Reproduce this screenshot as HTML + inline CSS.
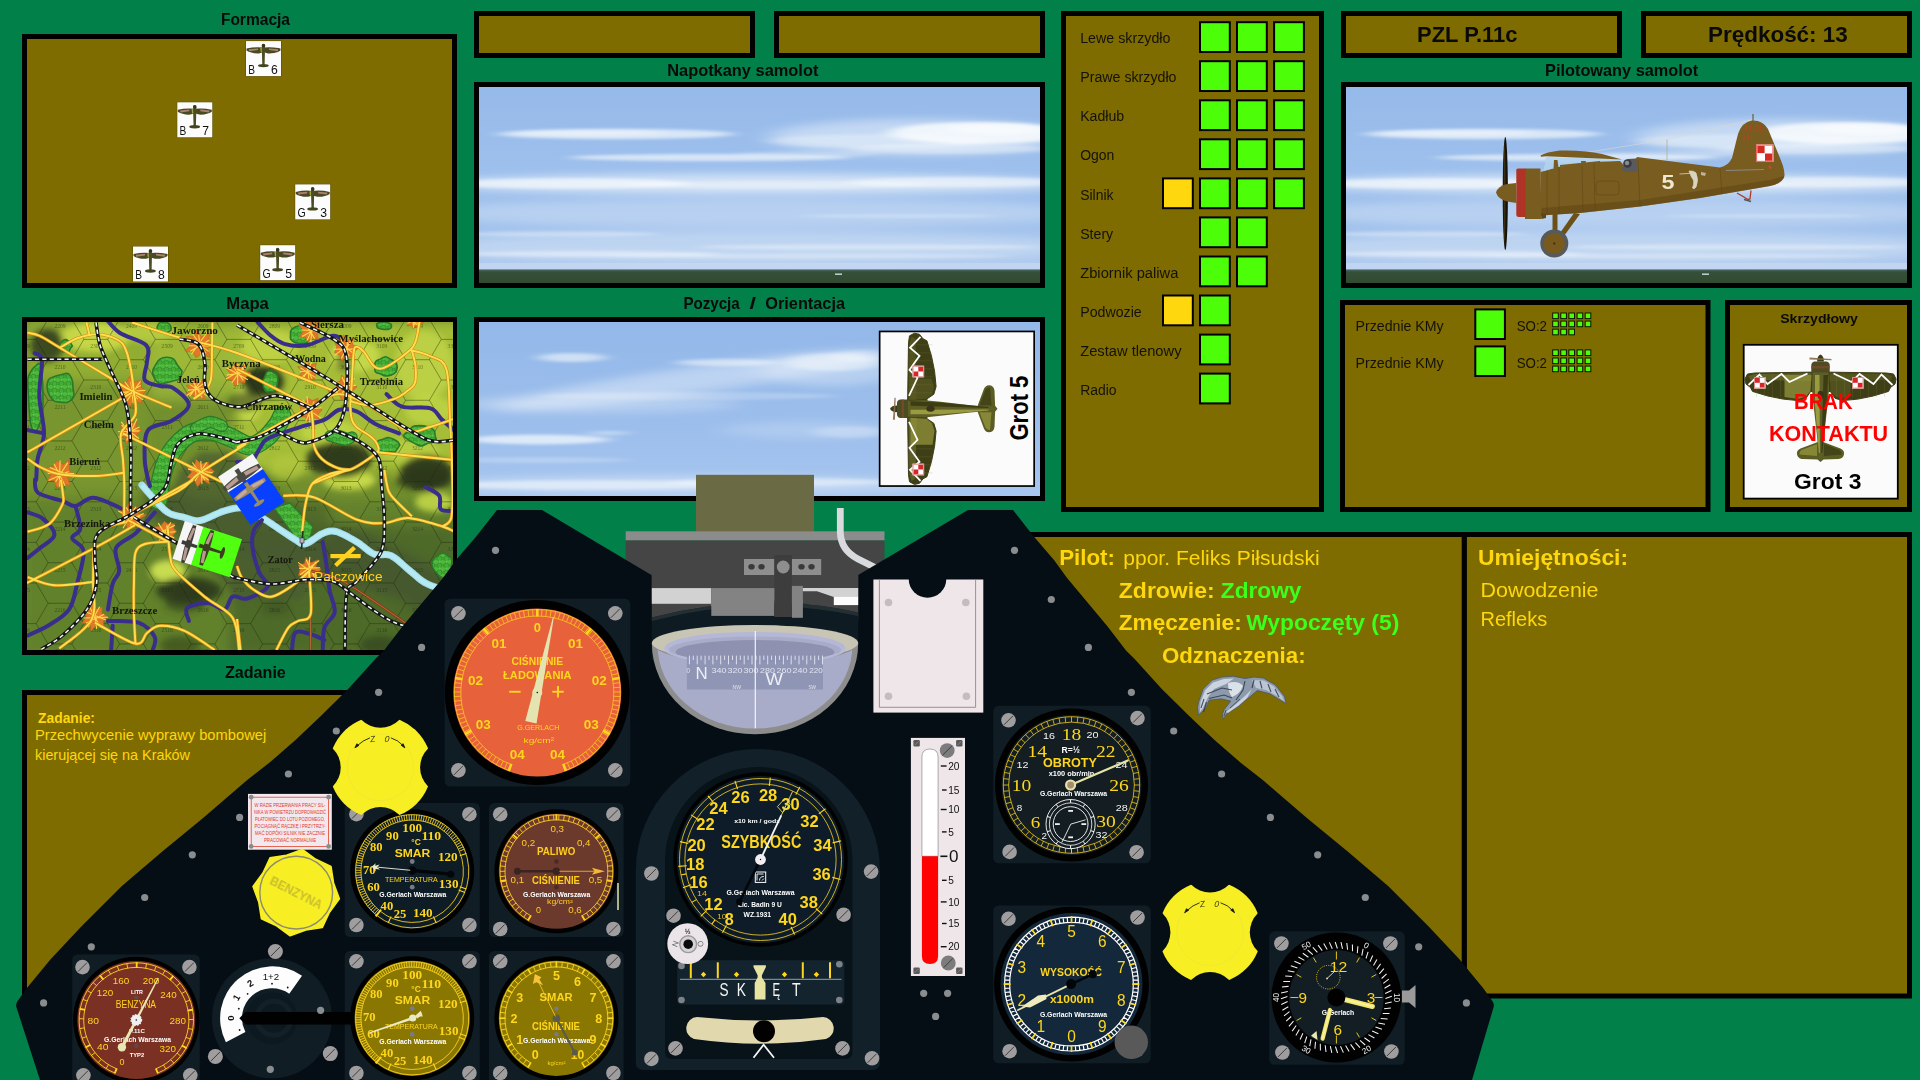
<!DOCTYPE html>
<html lang="pl"><head><meta charset="utf-8"><title>PZL P.11c</title>
<style>html,body{margin:0;padding:0;background:#01804A;overflow:hidden}body{width:1920px;height:1080px;position:relative;font-family:"Liberation Sans",sans-serif}svg{position:absolute;left:0;top:0;display:block}text{white-space:pre}</style></head><body>
<svg width="1920" height="1080" viewBox="0 0 1920 1080" font-family="Liberation Sans, sans-serif">
<defs>
<linearGradient id="skyg" x1="0" y1="0" x2="0" y2="1">
 <stop offset="0" stop-color="#96b9ea"/><stop offset="0.45" stop-color="#9fc0ee"/><stop offset="0.8" stop-color="#a6c4ee"/><stop offset="1" stop-color="#b9d0f0"/>
</linearGradient>
<linearGradient id="skyg2" x1="0" y1="0" x2="0" y2="1">
 <stop offset="0" stop-color="#94b8ea"/><stop offset="0.6" stop-color="#9dbeed"/><stop offset="1" stop-color="#a8c6f0"/>
</linearGradient>
<linearGradient id="gndg" x1="0" y1="0" x2="0" y2="1">
 <stop offset="0" stop-color="#4f6a70"/><stop offset="0.18" stop-color="#36503a"/><stop offset="1" stop-color="#324a30"/>
</linearGradient>
<filter id="blur2" x="-10%" y="-60%" width="120%" height="220%"><feGaussianBlur stdDeviation="9 1.5"/></filter>
<filter id="blur3" x="-10%" y="-80%" width="120%" height="260%"><feGaussianBlur stdDeviation="14 4"/></filter>
<filter id="blur1" x="-10%" y="-60%" width="120%" height="220%"><feGaussianBlur stdDeviation="2.2 1"/></filter>
<clipPath id="clipA"><rect x="0" y="0" width="561" height="196"/></clipPath>
<clipPath id="clipB"><rect x="0" y="0" width="561" height="174"/></clipPath>
<g id="skyA" clip-path="url(#clipA)">
 <rect width="561" height="196" fill="url(#skyg)"/>
 <g filter="url(#blur3)" fill="#fff">
  <ellipse cx="280" cy="126" rx="330" ry="14" opacity="0.24"/>
  <ellipse cx="280" cy="160" rx="330" ry="16" opacity="0.28"/>
  <ellipse cx="280" cy="97" rx="320" ry="10" opacity="0.55"/>
  <ellipse cx="440" cy="50" rx="150" ry="18" opacity="0.42"/>
 </g>
 <g filter="url(#blur2)" fill="#fff">
  <ellipse cx="137" cy="47" rx="118" ry="5.2" opacity="0.62"/>
  <ellipse cx="110" cy="46" rx="75" ry="3.2" opacity="0.35"/>
  <ellipse cx="500" cy="46" rx="90" ry="11" opacity="0.75"/>
  <ellipse cx="520" cy="42" rx="50" ry="6" opacity="0.45"/>
  <ellipse cx="400" cy="54" rx="110" ry="7" opacity="0.30"/>
  <ellipse cx="470" cy="62" rx="100" ry="5" opacity="0.35"/>
  <ellipse cx="231" cy="70.5" rx="140" ry="3.6" opacity="0.60"/>
  <ellipse cx="330" cy="67" rx="70" ry="3" opacity="0.25"/>
  <ellipse cx="90" cy="96.5" rx="120" ry="5.2" opacity="0.55"/>
  <ellipse cx="300" cy="98" rx="150" ry="4" opacity="0.35"/>
  <ellipse cx="480" cy="95" rx="110" ry="5" opacity="0.45"/>
  <ellipse cx="80" cy="147" rx="100" ry="2.6" opacity="0.35"/>
  <ellipse cx="390" cy="160" rx="170" ry="2.6" opacity="0.38"/>
  <ellipse cx="110" cy="167" rx="130" ry="3" opacity="0.42"/>
  <ellipse cx="420" cy="129" rx="100" ry="2" opacity="0.25"/>
  <ellipse cx="330" cy="169" rx="200" ry="2.4" opacity="0.30"/>
 </g>
 <rect x="0" y="176" width="561" height="7" fill="#cfdef4" opacity="0.55"/>
 <rect x="0" y="182.4" width="561" height="14" fill="url(#gndg)"/>
 <rect x="356" y="186.4" width="7" height="1.6" fill="#dfe8ee" opacity="0.8"/>
</g>
<g id="skyB" clip-path="url(#clipB)">
 <rect width="561" height="174" fill="url(#skyg2)"/>
 <g filter="url(#blur3)" fill="#fff">
  <ellipse cx="215" cy="58" rx="200" ry="13" opacity="0.36" transform="rotate(-8 215 58)"/><ellipse cx="120" cy="82" rx="140" ry="9" opacity="0.25"/>
  <ellipse cx="350" cy="48" rx="70" ry="16" opacity="0.30"/>
  <ellipse cx="200" cy="163" rx="250" ry="9" opacity="0.35"/>
  <ellipse cx="330" cy="108" rx="90" ry="9" opacity="0.18"/>
 </g>
 <g filter="url(#blur2)" fill="#fff">
  <ellipse cx="93" cy="35.5" rx="34" ry="4.6" opacity="0.55"/>
  <ellipse cx="247" cy="40.5" rx="50" ry="3.6" opacity="0.5"/>
  <ellipse cx="355" cy="40" rx="48" ry="9" opacity="0.40"/>
  <ellipse cx="380" cy="34" rx="26" ry="6" opacity="0.30"/>
  <ellipse cx="60" cy="117.5" rx="70" ry="5" opacity="0.65"/>
  <ellipse cx="130" cy="111" rx="20" ry="2" opacity="0.4"/>
  <ellipse cx="370" cy="110" rx="36" ry="6" opacity="0.25"/>
  <ellipse cx="110" cy="163" rx="150" ry="4.6" opacity="0.45"/>
  <ellipse cx="300" cy="160" rx="110" ry="4" opacity="0.40"/>
  <ellipse cx="60" cy="138" rx="90" ry="3" opacity="0.22"/>
  <ellipse cx="210" cy="74" rx="150" ry="4" opacity="0.22"/>
 </g>
</g>

<clipPath id="mapclip"><rect x="27" y="322" width="426" height="328"/></clipPath>
<filter id="mb8" x="-30%" y="-30%" width="160%" height="160%"><feGaussianBlur stdDeviation="6"/></filter>
<filter id="mb4" x="-30%" y="-30%" width="160%" height="160%"><feGaussianBlur stdDeviation="3.2"/></filter>
<filter id="mb1" x="-10%" y="-10%" width="120%" height="120%"><feGaussianBlur stdDeviation="0.5"/></filter>
<radialGradient id="towng"><stop offset="0" stop-color="#f08a28"/><stop offset="0.7" stop-color="#e07424"/><stop offset="1" stop-color="#d86a20" stop-opacity="0.85"/></radialGradient>
<pattern id="forestp" width="7" height="7" patternUnits="userSpaceOnUse">
 <rect width="7" height="7" fill="#2c8a2a"/>
 <circle cx="2" cy="2" r="2.2" fill="#4fb83c"/><circle cx="5.5" cy="5.5" r="2.2" fill="#46ad36"/><circle cx="5.6" cy="1.6" r="1.5" fill="#58c244"/><circle cx="1.6" cy="5.6" r="1.5" fill="#3fa532"/>
</pattern>
</defs>
<rect width="1920" height="1080" fill="#01804A"/>
<g opacity="0.9999">
<g id="ui"><text x="220.9" y="24.5" font-size="16.30" fill="#0a0a0a" font-weight="bold" textLength="69.1" lengthAdjust="spacingAndGlyphs">Formacja</text>
<text x="226.3" y="308.6" font-size="16.30" fill="#0a0a0a" font-weight="bold" textLength="42.5" lengthAdjust="spacingAndGlyphs">Mapa</text>
<text x="225.0" y="677.5" font-size="16.30" fill="#0a0a0a" font-weight="bold" textLength="60.8" lengthAdjust="spacingAndGlyphs">Zadanie</text>
<text x="667.2" y="76.4" font-size="16.30" fill="#0a0a0a" font-weight="bold" textLength="151.2" lengthAdjust="spacingAndGlyphs">Napotkany samolot</text>
<text x="683.4" y="309.2" font-size="16.30" fill="#0a0a0a" font-weight="bold" textLength="56.3" lengthAdjust="spacingAndGlyphs">Pozycja</text>
<text x="749.5" y="309.2" font-size="16.30" fill="#0a0a0a" font-weight="bold" textLength="6.5" lengthAdjust="spacingAndGlyphs">/</text>
<text x="765.3" y="309.2" font-size="16.30" fill="#0a0a0a" font-weight="bold" textLength="79.7" lengthAdjust="spacingAndGlyphs">Orientacja</text>
<text x="1545.1" y="75.9" font-size="16.30" fill="#0a0a0a" font-weight="bold" textLength="153.1" lengthAdjust="spacingAndGlyphs">Pilotowany samolot</text>
<rect x="22" y="34" width="435" height="254" fill="#000"/><rect x="27" y="39" width="425" height="244" fill="#806C00"/>
<rect x="474" y="11" width="281" height="47" fill="#000"/><rect x="479" y="16" width="271" height="37" fill="#806C00"/>
<rect x="774" y="11" width="271" height="47" fill="#000"/><rect x="779" y="16" width="261" height="37" fill="#806C00"/>
<rect x="1341" y="11" width="281" height="47" fill="#000"/><rect x="1346" y="16" width="271" height="37" fill="#806C00"/>
<rect x="1641" y="11" width="271" height="47" fill="#000"/><rect x="1646" y="16" width="261" height="37" fill="#806C00"/>
<text x="1417.0" y="42.4" font-size="22.50" fill="#0a0a0a" font-weight="bold" textLength="100.5" lengthAdjust="spacingAndGlyphs">PZL P.11c</text>
<text x="1708.0" y="42.4" font-size="22.50" fill="#0a0a0a" font-weight="bold" textLength="139.8" lengthAdjust="spacingAndGlyphs">Prędkość: 13</text>
<rect x="1061" y="11" width="263" height="501" fill="#000"/><rect x="1066" y="16" width="253" height="491" fill="#806C00"/>
<text x="1080.2" y="43.3" font-size="15.40" fill="#14120a" textLength="90.2" lengthAdjust="spacingAndGlyphs">Lewe skrzydło</text>
<rect x="1199.0" y="21.2" width="31.8" height="31.8" fill="#000"/><rect x="1201.0" y="23.2" width="27.8" height="27.8" fill="#4DFF0A"/>
<rect x="1236.0" y="21.2" width="31.8" height="31.8" fill="#000"/><rect x="1238.0" y="23.2" width="27.8" height="27.8" fill="#4DFF0A"/>
<rect x="1273.1" y="21.2" width="31.8" height="31.8" fill="#000"/><rect x="1275.1" y="23.2" width="27.8" height="27.8" fill="#4DFF0A"/>
<text x="1080.2" y="82.3" font-size="15.40" fill="#14120a" textLength="96.3" lengthAdjust="spacingAndGlyphs">Prawe skrzydło</text>
<rect x="1199.0" y="60.2" width="31.8" height="31.8" fill="#000"/><rect x="1201.0" y="62.2" width="27.8" height="27.8" fill="#4DFF0A"/>
<rect x="1236.0" y="60.2" width="31.8" height="31.8" fill="#000"/><rect x="1238.0" y="62.2" width="27.8" height="27.8" fill="#4DFF0A"/>
<rect x="1273.1" y="60.2" width="31.8" height="31.8" fill="#000"/><rect x="1275.1" y="62.2" width="27.8" height="27.8" fill="#4DFF0A"/>
<text x="1080.2" y="121.4" font-size="15.40" fill="#14120a" textLength="44.0" lengthAdjust="spacingAndGlyphs">Kadłub</text>
<rect x="1199.0" y="99.3" width="31.8" height="31.8" fill="#000"/><rect x="1201.0" y="101.3" width="27.8" height="27.8" fill="#4DFF0A"/>
<rect x="1236.0" y="99.3" width="31.8" height="31.8" fill="#000"/><rect x="1238.0" y="101.3" width="27.8" height="27.8" fill="#4DFF0A"/>
<rect x="1273.1" y="99.3" width="31.8" height="31.8" fill="#000"/><rect x="1275.1" y="101.3" width="27.8" height="27.8" fill="#4DFF0A"/>
<text x="1080.2" y="160.4" font-size="15.40" fill="#14120a" textLength="34.2" lengthAdjust="spacingAndGlyphs">Ogon</text>
<rect x="1199.0" y="138.3" width="31.8" height="31.8" fill="#000"/><rect x="1201.0" y="140.3" width="27.8" height="27.8" fill="#4DFF0A"/>
<rect x="1236.0" y="138.3" width="31.8" height="31.8" fill="#000"/><rect x="1238.0" y="140.3" width="27.8" height="27.8" fill="#4DFF0A"/>
<rect x="1273.1" y="138.3" width="31.8" height="31.8" fill="#000"/><rect x="1275.1" y="140.3" width="27.8" height="27.8" fill="#4DFF0A"/>
<text x="1080.2" y="199.5" font-size="15.40" fill="#14120a" textLength="33.3" lengthAdjust="spacingAndGlyphs">Silnik</text>
<rect x="1199.0" y="177.4" width="31.8" height="31.8" fill="#000"/><rect x="1201.0" y="179.4" width="27.8" height="27.8" fill="#4DFF0A"/>
<rect x="1236.0" y="177.4" width="31.8" height="31.8" fill="#000"/><rect x="1238.0" y="179.4" width="27.8" height="27.8" fill="#4DFF0A"/>
<rect x="1273.1" y="177.4" width="31.8" height="31.8" fill="#000"/><rect x="1275.1" y="179.4" width="27.8" height="27.8" fill="#4DFF0A"/>
<rect x="1162.0" y="177.4" width="31.8" height="31.8" fill="#000"/><rect x="1164.0" y="179.4" width="27.8" height="27.8" fill="#FFD70F"/>
<text x="1080.2" y="238.6" font-size="15.40" fill="#14120a" textLength="33.0" lengthAdjust="spacingAndGlyphs">Stery</text>
<rect x="1199.0" y="216.4" width="31.8" height="31.8" fill="#000"/><rect x="1201.0" y="218.4" width="27.8" height="27.8" fill="#4DFF0A"/>
<rect x="1236.0" y="216.4" width="31.8" height="31.8" fill="#000"/><rect x="1238.0" y="218.4" width="27.8" height="27.8" fill="#4DFF0A"/>
<text x="1080.2" y="277.6" font-size="15.40" fill="#14120a" textLength="98.2" lengthAdjust="spacingAndGlyphs">Zbiornik paliwa</text>
<rect x="1199.0" y="255.5" width="31.8" height="31.8" fill="#000"/><rect x="1201.0" y="257.5" width="27.8" height="27.8" fill="#4DFF0A"/>
<rect x="1236.0" y="255.5" width="31.8" height="31.8" fill="#000"/><rect x="1238.0" y="257.5" width="27.8" height="27.8" fill="#4DFF0A"/>
<text x="1080.2" y="316.6" font-size="15.40" fill="#14120a" textLength="61.5" lengthAdjust="spacingAndGlyphs">Podwozie</text>
<rect x="1199.0" y="294.5" width="31.8" height="31.8" fill="#000"/><rect x="1201.0" y="296.5" width="27.8" height="27.8" fill="#4DFF0A"/>
<rect x="1162.0" y="294.5" width="31.8" height="31.8" fill="#000"/><rect x="1164.0" y="296.5" width="27.8" height="27.8" fill="#FFD70F"/>
<text x="1080.2" y="355.7" font-size="15.40" fill="#14120a" textLength="101.3" lengthAdjust="spacingAndGlyphs">Zestaw tlenowy</text>
<rect x="1199.0" y="333.6" width="31.8" height="31.8" fill="#000"/><rect x="1201.0" y="335.6" width="27.8" height="27.8" fill="#4DFF0A"/>
<text x="1080.2" y="394.8" font-size="15.40" fill="#14120a" textLength="36.4" lengthAdjust="spacingAndGlyphs">Radio</text>
<rect x="1199.0" y="372.6" width="31.8" height="31.8" fill="#000"/><rect x="1201.0" y="374.6" width="27.8" height="27.8" fill="#4DFF0A"/>
<rect x="1340" y="300" width="370.5" height="212" fill="#000"/><rect x="1345" y="305" width="360.5" height="202" fill="#806C00"/>
<text x="1355.6" y="330.9" font-size="15.00" fill="#14120a" textLength="88.0" lengthAdjust="spacingAndGlyphs">Przednie KMy</text>
<rect x="1474.3" y="308.4" width="31.6" height="31.6" fill="#000"/><rect x="1476.3" y="310.4" width="27.6" height="27.6" fill="#4DFF0A"/>
<text x="1516.7" y="330.9" font-size="15.00" fill="#14120a" textLength="30.3" lengthAdjust="spacingAndGlyphs">SO:2</text>
<rect x="1552.2" y="312.5" width="6.6" height="6.6" fill="#0c1400"/><rect x="1553.2" y="313.5" width="4.6" height="4.6" fill="#4DFF0A"/>
<rect x="1560.3" y="312.5" width="6.6" height="6.6" fill="#0c1400"/><rect x="1561.3" y="313.5" width="4.6" height="4.6" fill="#4DFF0A"/>
<rect x="1568.4" y="312.5" width="6.6" height="6.6" fill="#0c1400"/><rect x="1569.4" y="313.5" width="4.6" height="4.6" fill="#4DFF0A"/>
<rect x="1576.6" y="312.5" width="6.6" height="6.6" fill="#0c1400"/><rect x="1577.6" y="313.5" width="4.6" height="4.6" fill="#4DFF0A"/>
<rect x="1584.7" y="312.5" width="6.6" height="6.6" fill="#0c1400"/><rect x="1585.7" y="313.5" width="4.6" height="4.6" fill="#4DFF0A"/>
<rect x="1552.2" y="320.6" width="6.6" height="6.6" fill="#0c1400"/><rect x="1553.2" y="321.6" width="4.6" height="4.6" fill="#4DFF0A"/>
<rect x="1560.3" y="320.6" width="6.6" height="6.6" fill="#0c1400"/><rect x="1561.3" y="321.6" width="4.6" height="4.6" fill="#4DFF0A"/>
<rect x="1568.4" y="320.6" width="6.6" height="6.6" fill="#0c1400"/><rect x="1569.4" y="321.6" width="4.6" height="4.6" fill="#4DFF0A"/>
<rect x="1576.6" y="320.6" width="6.6" height="6.6" fill="#0c1400"/><rect x="1577.6" y="321.6" width="4.6" height="4.6" fill="#4DFF0A"/>
<rect x="1584.7" y="320.6" width="6.6" height="6.6" fill="#0c1400"/><rect x="1585.7" y="321.6" width="4.6" height="4.6" fill="#4DFF0A"/>
<rect x="1552.2" y="328.7" width="6.6" height="6.6" fill="#0c1400"/><rect x="1553.2" y="329.7" width="4.6" height="4.6" fill="#4DFF0A"/>
<rect x="1560.3" y="328.7" width="6.6" height="6.6" fill="#0c1400"/><rect x="1561.3" y="329.7" width="4.6" height="4.6" fill="#4DFF0A"/>
<rect x="1568.4" y="328.7" width="6.6" height="6.6" fill="#0c1400"/><rect x="1569.4" y="329.7" width="4.6" height="4.6" fill="#4DFF0A"/>
<text x="1355.6" y="367.7" font-size="15.00" fill="#14120a" textLength="88.0" lengthAdjust="spacingAndGlyphs">Przednie KMy</text>
<rect x="1474.3" y="345.4" width="31.6" height="31.6" fill="#000"/><rect x="1476.3" y="347.4" width="27.6" height="27.6" fill="#4DFF0A"/>
<text x="1516.7" y="367.7" font-size="15.00" fill="#14120a" textLength="30.3" lengthAdjust="spacingAndGlyphs">SO:2</text>
<rect x="1552.2" y="349.4" width="6.6" height="6.6" fill="#0c1400"/><rect x="1553.2" y="350.4" width="4.6" height="4.6" fill="#4DFF0A"/>
<rect x="1560.3" y="349.4" width="6.6" height="6.6" fill="#0c1400"/><rect x="1561.3" y="350.4" width="4.6" height="4.6" fill="#4DFF0A"/>
<rect x="1568.4" y="349.4" width="6.6" height="6.6" fill="#0c1400"/><rect x="1569.4" y="350.4" width="4.6" height="4.6" fill="#4DFF0A"/>
<rect x="1576.6" y="349.4" width="6.6" height="6.6" fill="#0c1400"/><rect x="1577.6" y="350.4" width="4.6" height="4.6" fill="#4DFF0A"/>
<rect x="1584.7" y="349.4" width="6.6" height="6.6" fill="#0c1400"/><rect x="1585.7" y="350.4" width="4.6" height="4.6" fill="#4DFF0A"/>
<rect x="1552.2" y="357.5" width="6.6" height="6.6" fill="#0c1400"/><rect x="1553.2" y="358.5" width="4.6" height="4.6" fill="#4DFF0A"/>
<rect x="1560.3" y="357.5" width="6.6" height="6.6" fill="#0c1400"/><rect x="1561.3" y="358.5" width="4.6" height="4.6" fill="#4DFF0A"/>
<rect x="1568.4" y="357.5" width="6.6" height="6.6" fill="#0c1400"/><rect x="1569.4" y="358.5" width="4.6" height="4.6" fill="#4DFF0A"/>
<rect x="1576.6" y="357.5" width="6.6" height="6.6" fill="#0c1400"/><rect x="1577.6" y="358.5" width="4.6" height="4.6" fill="#4DFF0A"/>
<rect x="1584.7" y="357.5" width="6.6" height="6.6" fill="#0c1400"/><rect x="1585.7" y="358.5" width="4.6" height="4.6" fill="#4DFF0A"/>
<rect x="1552.2" y="365.6" width="6.6" height="6.6" fill="#0c1400"/><rect x="1553.2" y="366.6" width="4.6" height="4.6" fill="#4DFF0A"/>
<rect x="1560.3" y="365.6" width="6.6" height="6.6" fill="#0c1400"/><rect x="1561.3" y="366.6" width="4.6" height="4.6" fill="#4DFF0A"/>
<rect x="1568.4" y="365.6" width="6.6" height="6.6" fill="#0c1400"/><rect x="1569.4" y="366.6" width="4.6" height="4.6" fill="#4DFF0A"/>
<rect x="1576.6" y="365.6" width="6.6" height="6.6" fill="#0c1400"/><rect x="1577.6" y="366.6" width="4.6" height="4.6" fill="#4DFF0A"/>
<rect x="1584.7" y="365.6" width="6.6" height="6.6" fill="#0c1400"/><rect x="1585.7" y="366.6" width="4.6" height="4.6" fill="#4DFF0A"/>
<rect x="1725" y="300" width="187" height="212" fill="#000"/><rect x="1730" y="305" width="177" height="202" fill="#806C00"/>
<text x="1780.2" y="323.2" font-size="13.30" fill="#0a0a0a" font-weight="bold" textLength="77.8" lengthAdjust="spacingAndGlyphs">Skrzydłowy</text>
<rect x="1742.8" y="343.9" width="155.9" height="155.6" fill="#000"/><rect x="1744.6" y="345.7" width="152.3" height="152" fill="#fbfbfb"/>
<g transform="translate(1820.5,405) scale(1.0)"><path d="M0 36.5 L-4 37.5 L-20 43.5 Q-24 45.5 -23.5 49 Q-23 53.5 -18 54 L-3 54.6 L0 57 L3 54.6 L18 54 Q23 53.5 23.5 49 Q24 45.5 20 43.5 L4 37.5Z" fill="#5c5c24"/><path d="M-3.5 39 L-19 45 Q-21.5 47 -21 49.5 L-3.5 51Z" fill="#8f8f3c" opacity="0.85"/><path d="M3.5 39 L19 45 Q21.5 47 21 49.5 L3.5 51Z" fill="#3f3f16" opacity="0.85"/><path d="M0 -33 L66 -32 L73 -31 L75.6 -26 L74.5 -21 L70 -17.5 L68 -13.6 L52.7 -9 L37.4 -5.9 L22.2 -4.4 L14.5 -6.7 L9.9 -13.6 L0 -13 L-9.9 -13.6 L-14.5 -6.7 L-22.2 -4.4 L-37.4 -5.9 L-52.7 -9 L-68 -13.6 L-70 -17.5 L-74.5 -21 L-75.6 -26 L-73 -31 L-66 -32 L0 -33Z" fill="#3f3f18" stroke="#3f3f18" stroke-width="1" stroke-linejoin="round"/><path d="M9 -32 L66 -31 L72 -29 L70 -25 L9 -24Z" fill="#56561f" opacity="0.85"/><path d="M-9 -32 L-66 -31 L-72 -29 L-70 -25 L-9 -24Z" fill="#62622a" opacity="0.85"/><path d="M9 -30 L30 -30 L30 -9 L22 -6.5 L14.5 -8.5 L10 -14Z" fill="#5e5e26" opacity="0.6"/><path d="M-9 -30 L-36 -30 L-36 -8 L-22 -6 L-14.5 -8.5 L-10 -14Z" fill="#94943c" opacity="0.75"/><path d="M16 -31 L16 -8 M-16 -31 L-16 -8 M24 -31 L24 -8 M-24 -31 L-24 -8 M32 -31 L32 -8 M-32 -31 L-32 -8 M40 -31 L40 -8 M-40 -31 L-40 -8 M48 -31 L48 -8 M-48 -31 L-48 -8 M56 -31 L56 -8 M-56 -31 L-56 -8 M64 -31 L64 -8 M-64 -31 L-64 -8 " stroke="#8a8a40" stroke-width="0.4" opacity="0.45" fill="none"/><path d="M-8 -33 L8 -33 L8.6 -16 L7 0 L3.6 30 L1.6 52 L0 56 L-1.6 52 L-3.6 30 L-7 0 L-8.6 -16Z" fill="#5f5f27"/><path d="M-5.5 -30 L-1 -30 L-0.6 48 L-1.6 48 L-5.5 0Z" fill="#a6a648" opacity="0.85"/><path d="M3 -30 L7.6 -30 L6.4 0 L1.8 48 L0.8 48Z" fill="#34340f" opacity="0.8"/><ellipse cx="0" cy="-10" rx="3" ry="4.2" fill="#3a3418"/><path d="M-72 -20 L-61 -30.5 L-53 -21 L-39 -31 L-31 -23 L-13 -31.5" fill="none" stroke="#fff" stroke-width="1.8" stroke-linejoin="miter"/><path d="M72 -20 L61 -30.5 L53 -21 L39 -31 L31 -23 L13 -31.5" fill="none" stroke="#fff" stroke-width="1.8" stroke-linejoin="miter"/><g transform="translate(-66.5,-28)"><rect width="11.6" height="11.6" fill="#fff"/><rect x="1" y="1" width="4.8" height="4.8" fill="#d8262a"/><rect x="5.8" y="5.8" width="4.8" height="4.8" fill="#d8262a"/><rect x="0.5" y="0.5" width="10.6" height="10.6" fill="none" stroke="#e08888" stroke-width="1"/></g><g transform="translate(31.5,-28)"><rect width="11.6" height="11.6" fill="#fff"/><rect x="1" y="1" width="4.8" height="4.8" fill="#d8262a"/><rect x="5.8" y="5.8" width="4.8" height="4.8" fill="#d8262a"/><rect x="0.5" y="0.5" width="10.6" height="10.6" fill="none" stroke="#e08888" stroke-width="1"/></g><path d="M-9.2 -32.5 L-9.2 -40 Q-9 -43 -6 -43.5 L6 -43.5 Q9 -43 9.2 -40 L9.2 -32.5Z" fill="#4c4c20"/><path d="M-9.2 -39 L9.2 -39 L9.2 -36.5 L-9.2 -36.5Z" fill="#7a4a30" opacity="0.8"/><path d="M-3.4 -43.5 Q-3.4 -49 0 -50.5 Q3.4 -49 3.4 -43.5Z" fill="#3c3c18"/><path d="M-11 -47.6 L11 -46 L11 -44.8 L-11 -45.6Z" fill="#8a6a50" opacity="0.9"/></g>
<text x="1794.1" y="408.7" font-size="22.30" fill="#ff0000" font-weight="bold" textLength="58.4" lengthAdjust="spacingAndGlyphs">BRAK</text>
<text x="1769.0" y="441.1" font-size="22.30" fill="#ff0000" font-weight="bold" textLength="119.1" lengthAdjust="spacingAndGlyphs">KONTAKTU</text>
<text x="1794.1" y="489.0" font-size="22.30" fill="#000" font-weight="bold" textLength="67.3" lengthAdjust="spacingAndGlyphs">Grot 3</text>
<rect x="1020" y="532" width="892" height="466.5" fill="#000"/><rect x="1025" y="537" width="882" height="456.5" fill="#806C00"/>
<rect x="1461.7" y="532" width="5.2" height="466" fill="#000"/>
<text x="1059.2" y="565.0" font-size="22.90" fill="#FFD70F" font-weight="bold" textLength="55.8" lengthAdjust="spacingAndGlyphs">Pilot:</text>
<text x="1123.3" y="565.0" font-size="20.60" fill="#FFD70F" textLength="196.3" lengthAdjust="spacingAndGlyphs">ppor. Feliks Piłsudski</text>
<text x="1118.8" y="598.3" font-size="21.50" fill="#FFD70F" font-weight="bold" textLength="95.8" lengthAdjust="spacingAndGlyphs">Zdrowie:</text>
<text x="1220.8" y="598.3" font-size="21.50" fill="#3cff1e" font-weight="bold" textLength="80.6" lengthAdjust="spacingAndGlyphs">Zdrowy</text>
<text x="1118.8" y="630.0" font-size="21.50" fill="#FFD70F" font-weight="bold" textLength="122.9" lengthAdjust="spacingAndGlyphs">Zmęczenie:</text>
<text x="1246.2" y="630.0" font-size="21.50" fill="#3cff1e" font-weight="bold" textLength="153.1" lengthAdjust="spacingAndGlyphs">Wypoczęty (5)</text>
<text x="1161.9" y="662.9" font-size="21.50" fill="#FFD70F" font-weight="bold" textLength="143.7" lengthAdjust="spacingAndGlyphs">Odznaczenia:</text>
<text x="1478.1" y="564.5" font-size="22.60" fill="#FFD70F" font-weight="bold" textLength="150.0" lengthAdjust="spacingAndGlyphs">Umiejętności:</text>
<text x="1480.5" y="596.6" font-size="20.40" fill="#FFD70F" textLength="118.0" lengthAdjust="spacingAndGlyphs">Dowodzenie</text>
<text x="1480.5" y="625.8" font-size="20.40" fill="#FFD70F" textLength="66.7" lengthAdjust="spacingAndGlyphs">Refleks</text>
<path d="M1198.3 715.0 L1197.6 707.0 L1198.9 701.1 L1203.1 689.1 L1212.1 680.1 L1222.0 677.0 L1233.2 676.2 L1245.2 678.6 L1254.0 677.0 L1263.3 678.0 L1275.4 684.9 L1284.4 696.3 L1286.4 703.8 L1278.4 698.9 L1269.3 693.6 L1257.3 690.6 L1248.3 698.1 L1239.2 706.0 L1227.2 713.2 L1223.0 719.4 L1222.6 714.0 L1224.2 709.6 L1230.8 701.1 L1221.1 698.9 L1209.1 700.2 L1206.1 707.2 L1202.0 712.0Z" fill="#8e9aac" stroke="#4a556a" stroke-width="0.8" stroke-linejoin="round"/><path d="M1200 712 L1200.5 702 L1205 690.5 L1213 682.5 L1224 679 L1234 678.5 L1226 684 L1214 689 L1208 697 L1203 708Z" fill="#d4dbe6" opacity="0.9"/><path d="M1228 683 Q1238 680 1243 686 Q1240 694 1232 697 Q1228 692 1228 683Z" fill="#e4e9f0" opacity="0.9"/><path d="M1252 680 L1264 680.5 L1274 686.5 L1282 696 L1284.5 701.5 L1276 695.5 L1266 690 L1256 688Z" fill="#c2cad8" opacity="0.9"/><path d="M1226 712 L1236 704 L1246 695 L1252 689 L1247 698 L1238 706 L1228 713Z" fill="#d6dde8" opacity="0.85"/><path d="M1207 694 L1222 688 L1232 690 M1209 698.5 L1224 695 L1232 698 M1245 681 L1243 690 L1236 700 M1254 680 L1252 688 M1260 681 L1262 688.5 M1268 684 L1271 692 M1275 689 L1279 697 M1201 708 L1204 699 M1203.5 712 L1206.5 702" fill="none" stroke="#2c374c" stroke-width="1.1" opacity="0.85"/><path d="M1224 716 L1226 710 M1230 708 L1240 699" fill="none" stroke="#2c374c" stroke-width="0.9" opacity="0.8"/>
<rect x="22" y="690" width="678" height="310" fill="#000"/><rect x="27" y="695" width="668" height="300" fill="#806C00"/>
<text x="38.0" y="722.5" font-size="14.30" fill="#FFD70F" font-weight="bold" textLength="57.0" lengthAdjust="spacingAndGlyphs">Zadanie:</text>
<text x="35.0" y="740.0" font-size="14.50" fill="#FFD70F" textLength="231.2" lengthAdjust="spacingAndGlyphs">Przechwycenie wyprawy bombowej</text>
<text x="35.0" y="760.0" font-size="14.50" fill="#FFD70F" textLength="155.0" lengthAdjust="spacingAndGlyphs">kierującej się na Kraków</text>
<g transform="translate(246,41.1)">
<rect x="-0.5" y="-0.5" width="36" height="36" fill="#5a4c00"/><rect x="0" y="0" width="35" height="35" fill="#fcfcfc"/>
<path d="M0.5 7.5 Q9 5.5 17.4 6.5 Q26 5.5 34.5 7.5 L34.5 9.5 Q30 12.6 22 12.3 L17.4 11 L13 12.3 Q5 12.6 0.5 9.5Z" fill="#4a4a22"/><path d="M3 8.2 L12 7.3 L12 9 L3 10.2Z M23 7.3 L32 8.2 L32 10.2 L23 9Z" fill="#c08a80" opacity="0.85"/><path d="M14.2 7 L17 6.6 L17.6 11.5 L14.8 11Z" fill="#a8a83c"/><path d="M16 3.2 Q17.4 2 18.8 3.2 L19 8 L18.6 24 L16.3 24 L15.8 8Z" fill="#4d4d24"/><ellipse cx="17.5" cy="4.6" rx="1.8" ry="1.6" fill="#3a3418"/><ellipse cx="17.4" cy="24.5" rx="5.4" ry="1.7" fill="#45451f"/>
<text x="2.3" y="32.6" font-size="13.50" fill="#101010" textLength="6.8" lengthAdjust="spacingAndGlyphs">B</text>
<text x="25.0" y="32.6" font-size="13.50" fill="#101010" textLength="6.8" lengthAdjust="spacingAndGlyphs">6</text>
</g>
<g transform="translate(177.3,102.3)">
<rect x="-0.5" y="-0.5" width="36" height="36" fill="#5a4c00"/><rect x="0" y="0" width="35" height="35" fill="#fcfcfc"/>
<path d="M0.5 7.5 Q9 5.5 17.4 6.5 Q26 5.5 34.5 7.5 L34.5 9.5 Q30 12.6 22 12.3 L17.4 11 L13 12.3 Q5 12.6 0.5 9.5Z" fill="#4a4a22"/><path d="M3 8.2 L12 7.3 L12 9 L3 10.2Z M23 7.3 L32 8.2 L32 10.2 L23 9Z" fill="#c08a80" opacity="0.85"/><path d="M14.2 7 L17 6.6 L17.6 11.5 L14.8 11Z" fill="#a8a83c"/><path d="M16 3.2 Q17.4 2 18.8 3.2 L19 8 L18.6 24 L16.3 24 L15.8 8Z" fill="#4d4d24"/><ellipse cx="17.5" cy="4.6" rx="1.8" ry="1.6" fill="#3a3418"/><ellipse cx="17.4" cy="24.5" rx="5.4" ry="1.7" fill="#45451f"/>
<text x="2.3" y="32.6" font-size="13.50" fill="#101010" textLength="6.8" lengthAdjust="spacingAndGlyphs">B</text>
<text x="25.0" y="32.6" font-size="13.50" fill="#101010" textLength="6.8" lengthAdjust="spacingAndGlyphs">7</text>
</g>
<g transform="translate(295.2,184.4)">
<rect x="-0.5" y="-0.5" width="36" height="36" fill="#5a4c00"/><rect x="0" y="0" width="35" height="35" fill="#fcfcfc"/>
<path d="M0.5 7.5 Q9 5.5 17.4 6.5 Q26 5.5 34.5 7.5 L34.5 9.5 Q30 12.6 22 12.3 L17.4 11 L13 12.3 Q5 12.6 0.5 9.5Z" fill="#4a4a22"/><path d="M3 8.2 L12 7.3 L12 9 L3 10.2Z M23 7.3 L32 8.2 L32 10.2 L23 9Z" fill="#c08a80" opacity="0.85"/><path d="M14.2 7 L17 6.6 L17.6 11.5 L14.8 11Z" fill="#a8a83c"/><path d="M16 3.2 Q17.4 2 18.8 3.2 L19 8 L18.6 24 L16.3 24 L15.8 8Z" fill="#4d4d24"/><ellipse cx="17.5" cy="4.6" rx="1.8" ry="1.6" fill="#3a3418"/><ellipse cx="17.4" cy="24.5" rx="5.4" ry="1.7" fill="#45451f"/>
<text x="2.3" y="32.6" font-size="13.50" fill="#101010" textLength="8.2" lengthAdjust="spacingAndGlyphs">G</text>
<text x="25.0" y="32.6" font-size="13.50" fill="#101010" textLength="6.8" lengthAdjust="spacingAndGlyphs">3</text>
</g>
<g transform="translate(133,246.5)">
<rect x="-0.5" y="-0.5" width="36" height="36" fill="#5a4c00"/><rect x="0" y="0" width="35" height="35" fill="#fcfcfc"/>
<path d="M0.5 7.5 Q9 5.5 17.4 6.5 Q26 5.5 34.5 7.5 L34.5 9.5 Q30 12.6 22 12.3 L17.4 11 L13 12.3 Q5 12.6 0.5 9.5Z" fill="#4a4a22"/><path d="M3 8.2 L12 7.3 L12 9 L3 10.2Z M23 7.3 L32 8.2 L32 10.2 L23 9Z" fill="#c08a80" opacity="0.85"/><path d="M14.2 7 L17 6.6 L17.6 11.5 L14.8 11Z" fill="#a8a83c"/><path d="M16 3.2 Q17.4 2 18.8 3.2 L19 8 L18.6 24 L16.3 24 L15.8 8Z" fill="#4d4d24"/><ellipse cx="17.5" cy="4.6" rx="1.8" ry="1.6" fill="#3a3418"/><ellipse cx="17.4" cy="24.5" rx="5.4" ry="1.7" fill="#45451f"/>
<text x="2.3" y="32.6" font-size="13.50" fill="#101010" textLength="6.8" lengthAdjust="spacingAndGlyphs">B</text>
<text x="25.0" y="32.6" font-size="13.50" fill="#101010" textLength="6.8" lengthAdjust="spacingAndGlyphs">8</text>
</g>
<g transform="translate(260.2,245.2)">
<rect x="-0.5" y="-0.5" width="36" height="36" fill="#5a4c00"/><rect x="0" y="0" width="35" height="35" fill="#fcfcfc"/>
<path d="M0.5 7.5 Q9 5.5 17.4 6.5 Q26 5.5 34.5 7.5 L34.5 9.5 Q30 12.6 22 12.3 L17.4 11 L13 12.3 Q5 12.6 0.5 9.5Z" fill="#4a4a22"/><path d="M3 8.2 L12 7.3 L12 9 L3 10.2Z M23 7.3 L32 8.2 L32 10.2 L23 9Z" fill="#c08a80" opacity="0.85"/><path d="M14.2 7 L17 6.6 L17.6 11.5 L14.8 11Z" fill="#a8a83c"/><path d="M16 3.2 Q17.4 2 18.8 3.2 L19 8 L18.6 24 L16.3 24 L15.8 8Z" fill="#4d4d24"/><ellipse cx="17.5" cy="4.6" rx="1.8" ry="1.6" fill="#3a3418"/><ellipse cx="17.4" cy="24.5" rx="5.4" ry="1.7" fill="#45451f"/>
<text x="2.3" y="32.6" font-size="13.50" fill="#101010" textLength="8.2" lengthAdjust="spacingAndGlyphs">G</text>
<text x="25.0" y="32.6" font-size="13.50" fill="#101010" textLength="6.8" lengthAdjust="spacingAndGlyphs">5</text>
</g></g>
<g id="sky"><rect x="474" y="82" width="571" height="206" fill="#000"/><rect x="479" y="87" width="561" height="196" fill="#9abdeb"/>
<use href="#skyA" x="479" y="87"/>
<rect x="1341" y="82" width="571" height="206" fill="#000"/><rect x="1346" y="87" width="561" height="196" fill="#9abdeb"/>
<use href="#skyA" x="1346" y="87"/>
<path d="M1583 153 L1667 139.5 L1753 119.5" fill="none" stroke="#d8d8d0" stroke-width="0.7" opacity="0.9"/><path d="M1667 139.5 L1667 160" fill="none" stroke="#b0a070" stroke-width="0.6"/><path d="M1753 114 L1753 121" stroke="#5a4a20" stroke-width="1"/><ellipse cx="1505.3" cy="193.5" rx="2.6" ry="56.5" fill="#15120c"/><ellipse cx="1504.6" cy="193.5" rx="1" ry="50" fill="#4a3a1a" opacity="0.7"/><path d="M1552.5 214 L1557.5 214 L1557.5 236 L1552.5 236Z" fill="#6c5018"/><path d="M1574 213 L1580 214 L1564 236 L1560 233Z" fill="#6c5018"/><circle cx="1554.3" cy="243.5" r="14" fill="#575a5e"/><circle cx="1554.3" cy="243.5" r="10.6" fill="#7a5a1f"/><circle cx="1554.3" cy="243.5" r="1.2" fill="#4a3510"/><path d="M1540.5 172 L1546 170.5 L1560 166.5 L1600 161.5 L1620 161 L1629 171.5 L1636 158.5 L1637 157 L1680 162.5 L1720 167.5 Q1728 166 1732 158 L1738 134 Q1742 122 1752 120.5 Q1763 120 1768 129 L1780 158 Q1786 172 1784 178 Q1780 184 1770 186 L1700 198 L1640 206.5 L1580 213 L1541 215.5 Z" fill="#7a5c20"/><path d="M1541 208 L1640 200 L1770 180 L1784 176 Q1782 184 1770 186 L1700 198 L1640 206.5 L1580 213 L1541 215.5Z" fill="#5e4516" opacity="0.55"/><path d="M1525 168.5 L1540.5 168.5 L1541.5 219 L1525 219Z" fill="#7a5c20"/><path d="M1516.3 170 Q1516 168.5 1518 168.5 L1525.5 168.5 L1525.5 217 L1518.5 217 Q1516.5 217 1516.3 215Z" fill="#b03426"/><path d="M1496 192.5 Q1498 186 1507 184 L1516.3 183 L1516.3 203 L1507 201.5 Q1498 199 1496 192.5Z" fill="#7a5c20"/><path d="M1541 213 L1546 214 L1546 218 L1541.5 219Z" fill="#5e4516"/><path d="M1547 171 L1547 214 M1559 167 L1559 214 M1582 164 L1583 212 M1594 163 L1595 211 M1638 160 L1640 206 M1720 168 L1722 194" stroke="#5a4214" stroke-width="0.6" fill="none" opacity="0.8"/><rect x="1596" y="181" width="23" height="14" rx="3" fill="none" stroke="#5a4214" stroke-width="0.6" opacity="0.8"/><path d="M1621 170 L1628 159 L1636 158.5 L1637.5 171 Q1630 173.5 1621 170Z" fill="#5a5a5e"/><circle cx="1627.5" cy="163.5" r="4.3" fill="#3b3b40"/><circle cx="1627" cy="163" r="2.2" fill="#8a8a90"/><path d="M1546 157 L1616 159 L1618 161 L1600 161.5 L1560 166.5 L1543.5 171Z" fill="#b4d4ee" opacity="0.85"/><path d="M1540.5 155.5 Q1546 152 1560 150.5 Q1585 150 1602 154 L1622 159.5 L1546 156.3 L1541 156.8Z" fill="#7a5c20"/><path d="M1554 160 L1557.5 160 L1558.5 168 L1553.5 168.5Z M1581 161 L1586 161 L1584.5 166 L1581.5 166Z M1560 165 L1600 161 L1600 162.5 L1560 167Z" fill="#7a5c20"/><rect x="1756" y="144.5" width="17.5" height="17.5" fill="#fff"/><rect x="1757.3" y="145.8" width="7.3" height="7.3" fill="#d62a20"/><rect x="1765" y="153.5" width="7.3" height="7.3" fill="#d62a20"/><rect x="1756.6" y="145.1" width="16.3" height="16.3" fill="none" stroke="#e66" stroke-width="1.1"/><path d="M1746 125 v6 M1750 125 v6 M1756 125 v6 M1760 125 v6 M1744 135 v5 M1748 135 v5" stroke="#c83c20" stroke-width="1.1" fill="none"/><path d="M1726 170.5 L1764 169.5" stroke="#8a8a84" stroke-width="1"/><path d="M1768 166 q3 -1 4 2 q-2 3 -4 -2" fill="#c05030" opacity="0.8"/><path d="M1737 193 L1748 199.5 L1750 199 L1751 190.5" fill="none" stroke="#b03a2a" stroke-width="1.3"/><path d="M1744 199.5 L1751 201.5" stroke="#555" stroke-width="1.4"/><text x="1661.5" y="188.5" font-size="19.50" fill="#efe8d0" font-weight="bold" textLength="13.0" lengthAdjust="spacingAndGlyphs">5</text><path d="M1679.5 174 L1696 173 M1689 171 Q1694 170.5 1696 173 Q1699 180 1696 187 Q1694 190 1692.5 188 Q1695.5 181 1691.5 177 Z" fill="#d8d4c0" stroke="#d8d4c0" stroke-width="0.8"/><path d="M1701 172 l5 1 l-1 3 l-4 -1Z" fill="#b8b4a0"/>
<rect x="474" y="317" width="571" height="184" fill="#000"/><rect x="479" y="322" width="561" height="174" fill="#9abdeb"/>
<use href="#skyB" x="479" y="322"/>
<rect x="878.8" y="330.6" width="156.2" height="156.3" fill="#000"/><rect x="880.5" y="332.3" width="152.8" height="152.9" fill="#fbfbfb"/><g transform="translate(940.5,408.8) rotate(-90) scale(1.0,1.0)"><path d="M0 36.5 L-4 37.5 L-20 43.5 Q-24 45.5 -23.5 49 Q-23 53.5 -18 54 L-3 54.6 L0 57 L3 54.6 L18 54 Q23 53.5 23.5 49 Q24 45.5 20 43.5 L4 37.5Z" fill="#5c5c24"/><path d="M-3.5 39 L-19 45 Q-21.5 47 -21 49.5 L-3.5 51Z" fill="#8f8f3c" opacity="0.85"/><path d="M3.5 39 L19 45 Q21.5 47 21 49.5 L3.5 51Z" fill="#3f3f16" opacity="0.85"/><path d="M0 -33 L66 -32 L73 -31 L75.6 -26 L74.5 -21 L70 -17.5 L68 -13.6 L52.7 -9 L37.4 -5.9 L22.2 -4.4 L14.5 -6.7 L9.9 -13.6 L0 -13 L-9.9 -13.6 L-14.5 -6.7 L-22.2 -4.4 L-37.4 -5.9 L-52.7 -9 L-68 -13.6 L-70 -17.5 L-74.5 -21 L-75.6 -26 L-73 -31 L-66 -32 L0 -33Z" fill="#3f3f18" stroke="#3f3f18" stroke-width="1" stroke-linejoin="round"/><path d="M9 -32 L66 -31 L72 -29 L70 -25 L9 -24Z" fill="#56561f" opacity="0.85"/><path d="M-9 -32 L-66 -31 L-72 -29 L-70 -25 L-9 -24Z" fill="#62622a" opacity="0.85"/><path d="M9 -30 L30 -30 L30 -9 L22 -6.5 L14.5 -8.5 L10 -14Z" fill="#5e5e26" opacity="0.6"/><path d="M-9 -30 L-36 -30 L-36 -8 L-22 -6 L-14.5 -8.5 L-10 -14Z" fill="#94943c" opacity="0.75"/><path d="M16 -31 L16 -8 M-16 -31 L-16 -8 M24 -31 L24 -8 M-24 -31 L-24 -8 M32 -31 L32 -8 M-32 -31 L-32 -8 M40 -31 L40 -8 M-40 -31 L-40 -8 M48 -31 L48 -8 M-48 -31 L-48 -8 M56 -31 L56 -8 M-56 -31 L-56 -8 M64 -31 L64 -8 M-64 -31 L-64 -8 " stroke="#8a8a40" stroke-width="0.4" opacity="0.45" fill="none"/><path d="M-8 -33 L8 -33 L8.6 -16 L7 0 L3.6 30 L1.6 52 L0 56 L-1.6 52 L-3.6 30 L-7 0 L-8.6 -16Z" fill="#5f5f27"/><path d="M-5.5 -30 L-1 -30 L-0.6 48 L-1.6 48 L-5.5 0Z" fill="#a6a648" opacity="0.85"/><path d="M3 -30 L7.6 -30 L6.4 0 L1.8 48 L0.8 48Z" fill="#34340f" opacity="0.8"/><ellipse cx="0" cy="-10" rx="3" ry="4.2" fill="#3a3418"/><path d="M-72 -20 L-61 -30.5 L-53 -21 L-39 -31 L-31 -23 L-13 -31.5" fill="none" stroke="#fff" stroke-width="1.8" stroke-linejoin="miter"/><path d="M72 -20 L61 -30.5 L53 -21 L39 -31 L31 -23 L13 -31.5" fill="none" stroke="#fff" stroke-width="1.8" stroke-linejoin="miter"/><g transform="translate(-66.5,-28)"><rect width="11.6" height="11.6" fill="#fff"/><rect x="1" y="1" width="4.8" height="4.8" fill="#d8262a"/><rect x="5.8" y="5.8" width="4.8" height="4.8" fill="#d8262a"/><rect x="0.5" y="0.5" width="10.6" height="10.6" fill="none" stroke="#e08888" stroke-width="1"/></g><g transform="translate(31.5,-28)"><rect width="11.6" height="11.6" fill="#fff"/><rect x="1" y="1" width="4.8" height="4.8" fill="#d8262a"/><rect x="5.8" y="5.8" width="4.8" height="4.8" fill="#d8262a"/><rect x="0.5" y="0.5" width="10.6" height="10.6" fill="none" stroke="#e08888" stroke-width="1"/></g><path d="M-9.2 -32.5 L-9.2 -40 Q-9 -43 -6 -43.5 L6 -43.5 Q9 -43 9.2 -40 L9.2 -32.5Z" fill="#4c4c20"/><path d="M-9.2 -39 L9.2 -39 L9.2 -36.5 L-9.2 -36.5Z" fill="#7a4a30" opacity="0.8"/><path d="M-3.4 -43.5 Q-3.4 -49 0 -50.5 Q3.4 -49 3.4 -43.5Z" fill="#3c3c18"/><path d="M-11 -47.6 L11 -46 L11 -44.8 L-11 -45.6Z" fill="#8a6a50" opacity="0.9"/></g><text transform="translate(1027.8,440.6) rotate(-90)" font-size="25.3" font-weight="bold" fill="#000" textLength="65" lengthAdjust="spacingAndGlyphs">Grot 5</text></g>
<g id="map"><rect x="22" y="317" width="435" height="338" fill="#000"/><rect x="27" y="322" width="425" height="328" fill="#6f8c2e"/>
<g clip-path="url(#mapclip)">
<rect x="27" y="322" width="426" height="328" fill="#74902f"/>
<g filter="url(#mb8)">
<rect x="235" y="322" width="230" height="150" fill="#a9c03a" opacity="0.95"/>
<rect x="27" y="322" width="215" height="60" fill="#9ab436" opacity="0.8"/>
<rect x="150" y="330" width="100" height="70" fill="#a4bc3a" opacity="0.7"/>
<rect x="20" y="500" width="440" height="160" fill="#63802c" opacity="0.9"/>
<rect x="230" y="525" width="230" height="130" fill="#4e682c" opacity="0.95"/>
<path d="M140 480 L200 500 L250 500 L300 520 L360 530 L440 570 L460 600 L460 640 L400 600 L330 580 L270 560 L200 540 L150 520Z" fill="#46582e" opacity="0.9"/>
<rect x="180" y="500" width="150" height="40" fill="#4d672a" opacity="0.8"/>
<rect x="27" y="380" width="120" height="110" fill="#7d9a32" opacity="0.6"/>
</g>
<g filter="url(#mb4)">
<path d="M170 500 L180 470 L200 452 L236 452 L262 470 L300 520 L330 560 L300 600 L240 600 L180 540Z" fill="#4a5c30" opacity="0.75"/>
<ellipse cx="95.0" cy="337.0" rx="35.0" ry="15.0" fill="#c9d84a" opacity="0.95"/>
<ellipse cx="43.5" cy="333.5" rx="16.5" ry="11.5" fill="#8aa436" opacity="0.9"/>
<ellipse cx="147.5" cy="332.0" rx="27.5" ry="10.0" fill="#bcd044" opacity="0.8"/>
<ellipse cx="270.0" cy="346.0" rx="30.0" ry="16.0" fill="#c4d648" opacity="0.8"/>
<ellipse cx="355.0" cy="356.0" rx="25.0" ry="16.0" fill="#c8da4c" opacity="0.9"/>
<ellipse cx="424.0" cy="365.0" rx="29.0" ry="35.0" fill="#c0d448" opacity="0.85"/>
<ellipse cx="249.0" cy="402.5" rx="13.0" ry="17.5" fill="#cfe050" opacity="0.95"/>
<ellipse cx="330.0" cy="432.5" rx="30.0" ry="12.5" fill="#c2d646" opacity="0.85"/>
<ellipse cx="410.0" cy="451.0" rx="30.0" ry="11.0" fill="#bed244" opacity="0.8"/>
<ellipse cx="429.0" cy="410.0" rx="24.0" ry="15.0" fill="#c4d848" opacity="0.7"/>
<ellipse cx="349.0" cy="480.0" rx="27.0" ry="10.0" fill="#cbdc4c" opacity="0.95"/>
<ellipse cx="422.5" cy="477.0" rx="30.5" ry="7.0" fill="#b6cc42" opacity="0.5"/>
<ellipse cx="168.0" cy="571.0" rx="18.0" ry="11.0" fill="#cfe052" opacity="0.95"/>
<ellipse cx="434.0" cy="502.0" rx="19.0" ry="10.0" fill="#c2d648" opacity="0.9"/>
<ellipse cx="287.5" cy="467.5" rx="17.5" ry="12.5" fill="#b4c840" opacity="0.7"/>
<ellipse cx="47.0" cy="345.0" rx="17.0" ry="17.0" fill="#2e3a1c" opacity="0.85"/>
<ellipse cx="263.0" cy="381.5" rx="21.0" ry="15.5" fill="#2e3a1c" opacity="1.0"/>
<ellipse cx="265.0" cy="382.0" rx="15.0" ry="10.0" fill="#2e3a1c" opacity="0.9"/>
<ellipse cx="245.0" cy="402.0" rx="17.0" ry="10.0" fill="#2e3a1c" opacity="0.6"/>
<ellipse cx="339.0" cy="459.5" rx="33.0" ry="18.5" fill="#2e3a1c" opacity="0.95"/>
<ellipse cx="341.0" cy="460.0" rx="21.0" ry="12.0" fill="#2e3a1c" opacity="0.8"/>
<ellipse cx="426.5" cy="473.5" rx="26.5" ry="18.5" fill="#2e3a1c" opacity="0.95"/>
<ellipse cx="430.0" cy="474.0" rx="20.0" ry="12.0" fill="#2e3a1c" opacity="0.8"/>
<ellipse cx="424.0" cy="480.0" rx="29.0" ry="10.0" fill="#2e3a1c" opacity="0.8"/>
<ellipse cx="189.0" cy="590.5" rx="33.0" ry="13.5" fill="#2e3a1c" opacity="0.9"/>
<ellipse cx="191.0" cy="591.0" rx="21.0" ry="9.0" fill="#2e3a1c" opacity="0.7"/>
<ellipse cx="185.0" cy="603.5" rx="20.0" ry="8.5" fill="#2e3a1c" opacity="0.6"/>
<ellipse cx="380.0" cy="645.5" rx="20.0" ry="9.5" fill="#2e3a1c" opacity="0.6"/>
<ellipse cx="180.0" cy="645.5" rx="20.0" ry="9.5" fill="#2e3a1c" opacity="0.5"/>
<ellipse cx="276.0" cy="607.5" rx="14.0" ry="7.5" fill="#2e3a1c" opacity="0.3"/>
<ellipse cx="344.0" cy="362.0" rx="8.0" ry="10.0" fill="#2e3a1c" opacity="0.5"/>
</g>
<path d="M48.0 319.1 L36.2 339.4 L12.4 339.4 L0.4 319.1 L12.3 298.8 L36.2 298.8Z M48.0 359.7 L36.2 380.0 L12.4 380.0 L0.4 359.7 L12.3 339.4 L36.2 339.4Z M48.0 400.3 L36.2 420.6 L12.4 420.6 L0.4 400.3 L12.3 380.0 L36.2 380.0Z M48.0 440.9 L36.2 461.2 L12.4 461.2 L0.4 440.9 L12.3 420.6 L36.2 420.6Z M48.0 481.5 L36.2 501.8 L12.4 501.8 L0.4 481.5 L12.3 461.2 L36.2 461.2Z M48.0 522.1 L36.2 542.4 L12.4 542.4 L0.4 522.1 L12.3 501.8 L36.2 501.8Z M48.0 562.7 L36.2 583.0 L12.4 583.0 L0.4 562.7 L12.3 542.4 L36.2 542.4Z M48.0 603.3 L36.2 623.6 L12.4 623.6 L0.4 603.3 L12.3 583.0 L36.2 583.0Z M48.0 643.9 L36.2 664.2 L12.4 664.2 L0.4 643.9 L12.3 623.6 L36.2 623.6Z M48.0 684.5 L36.2 704.8 L12.4 704.8 L0.4 684.5 L12.3 664.2 L36.2 664.2Z M83.8 298.8 L71.9 319.1 L48.1 319.1 L36.2 298.8 L48.1 278.5 L71.9 278.5Z M83.8 339.4 L71.9 359.7 L48.1 359.7 L36.2 339.4 L48.1 319.1 L71.9 319.1Z M83.8 380.0 L71.9 400.3 L48.1 400.3 L36.2 380.0 L48.1 359.7 L71.9 359.7Z M83.8 420.6 L71.9 440.9 L48.1 440.9 L36.2 420.6 L48.1 400.3 L71.9 400.3Z M83.8 461.2 L71.9 481.5 L48.1 481.5 L36.2 461.2 L48.1 440.9 L71.9 440.9Z M83.8 501.8 L71.9 522.1 L48.1 522.1 L36.2 501.8 L48.1 481.5 L71.9 481.5Z M83.8 542.4 L71.9 562.7 L48.1 562.7 L36.2 542.4 L48.1 522.1 L71.9 522.1Z M83.8 583.0 L71.9 603.3 L48.1 603.3 L36.2 583.0 L48.1 562.7 L71.9 562.7Z M83.8 623.6 L71.9 643.9 L48.1 643.9 L36.2 623.6 L48.1 603.3 L71.9 603.3Z M83.8 664.2 L71.9 684.5 L48.1 684.5 L36.2 664.2 L48.1 643.9 L71.9 643.9Z M119.5 319.1 L107.7 339.4 L83.9 339.4 L72.0 319.1 L83.8 298.8 L107.7 298.8Z M119.5 359.7 L107.7 380.0 L83.9 380.0 L72.0 359.7 L83.8 339.4 L107.7 339.4Z M119.5 400.3 L107.7 420.6 L83.9 420.6 L72.0 400.3 L83.8 380.0 L107.7 380.0Z M119.5 440.9 L107.7 461.2 L83.9 461.2 L72.0 440.9 L83.8 420.6 L107.7 420.6Z M119.5 481.5 L107.7 501.8 L83.9 501.8 L72.0 481.5 L83.8 461.2 L107.7 461.2Z M119.5 522.1 L107.7 542.4 L83.9 542.4 L72.0 522.1 L83.8 501.8 L107.7 501.8Z M119.5 562.7 L107.7 583.0 L83.9 583.0 L72.0 562.7 L83.8 542.4 L107.7 542.4Z M119.5 603.3 L107.7 623.6 L83.9 623.6 L72.0 603.3 L83.8 583.0 L107.7 583.0Z M119.5 643.9 L107.7 664.2 L83.9 664.2 L72.0 643.9 L83.8 623.6 L107.7 623.6Z M119.5 684.5 L107.7 704.8 L83.9 704.8 L72.0 684.5 L83.8 664.2 L107.7 664.2Z M155.3 298.8 L143.4 319.1 L119.6 319.1 L107.7 298.8 L119.6 278.5 L143.4 278.5Z M155.3 339.4 L143.4 359.7 L119.6 359.7 L107.7 339.4 L119.6 319.1 L143.4 319.1Z M155.3 380.0 L143.4 400.3 L119.6 400.3 L107.7 380.0 L119.6 359.7 L143.4 359.7Z M155.3 420.6 L143.4 440.9 L119.6 440.9 L107.7 420.6 L119.6 400.3 L143.4 400.3Z M155.3 461.2 L143.4 481.5 L119.6 481.5 L107.7 461.2 L119.6 440.9 L143.4 440.9Z M155.3 501.8 L143.4 522.1 L119.6 522.1 L107.7 501.8 L119.6 481.5 L143.4 481.5Z M155.3 542.4 L143.4 562.7 L119.6 562.7 L107.7 542.4 L119.6 522.1 L143.4 522.1Z M155.3 583.0 L143.4 603.3 L119.6 603.3 L107.7 583.0 L119.6 562.7 L143.4 562.7Z M155.3 623.6 L143.4 643.9 L119.6 643.9 L107.7 623.6 L119.6 603.3 L143.4 603.3Z M155.3 664.2 L143.4 684.5 L119.6 684.5 L107.7 664.2 L119.6 643.9 L143.4 643.9Z M191.1 319.1 L179.2 339.4 L155.3 339.4 L143.4 319.1 L155.3 298.8 L179.2 298.8Z M191.1 359.7 L179.2 380.0 L155.3 380.0 L143.4 359.7 L155.3 339.4 L179.2 339.4Z M191.1 400.3 L179.2 420.6 L155.3 420.6 L143.4 400.3 L155.3 380.0 L179.2 380.0Z M191.1 440.9 L179.2 461.2 L155.3 461.2 L143.4 440.9 L155.3 420.6 L179.2 420.6Z M191.1 481.5 L179.2 501.8 L155.3 501.8 L143.4 481.5 L155.3 461.2 L179.2 461.2Z M191.1 522.1 L179.2 542.4 L155.3 542.4 L143.4 522.1 L155.3 501.8 L179.2 501.8Z M191.1 562.7 L179.2 583.0 L155.3 583.0 L143.4 562.7 L155.3 542.4 L179.2 542.4Z M191.1 603.3 L179.2 623.6 L155.3 623.6 L143.4 603.3 L155.3 583.0 L179.2 583.0Z M191.1 643.9 L179.2 664.2 L155.3 664.2 L143.4 643.9 L155.3 623.6 L179.2 623.6Z M191.1 684.5 L179.2 704.8 L155.3 704.8 L143.4 684.5 L155.3 664.2 L179.2 664.2Z M226.8 298.8 L214.9 319.1 L191.1 319.1 L179.2 298.8 L191.1 278.5 L214.9 278.5Z M226.8 339.4 L214.9 359.7 L191.1 359.7 L179.2 339.4 L191.1 319.1 L214.9 319.1Z M226.8 380.0 L214.9 400.3 L191.1 400.3 L179.2 380.0 L191.1 359.7 L214.9 359.7Z M226.8 420.6 L214.9 440.9 L191.1 440.9 L179.2 420.6 L191.1 400.3 L214.9 400.3Z M226.8 461.2 L214.9 481.5 L191.1 481.5 L179.2 461.2 L191.1 440.9 L214.9 440.9Z M226.8 501.8 L214.9 522.1 L191.1 522.1 L179.2 501.8 L191.1 481.5 L214.9 481.5Z M226.8 542.4 L214.9 562.7 L191.1 562.7 L179.2 542.4 L191.1 522.1 L214.9 522.1Z M226.8 583.0 L214.9 603.3 L191.1 603.3 L179.2 583.0 L191.1 562.7 L214.9 562.7Z M226.8 623.6 L214.9 643.9 L191.1 643.9 L179.2 623.6 L191.1 603.3 L214.9 603.3Z M226.8 664.2 L214.9 684.5 L191.1 684.5 L179.2 664.2 L191.1 643.9 L214.9 643.9Z M262.6 319.1 L250.7 339.4 L226.8 339.4 L214.9 319.1 L226.8 298.8 L250.7 298.8Z M262.6 359.7 L250.7 380.0 L226.8 380.0 L214.9 359.7 L226.8 339.4 L250.7 339.4Z M262.6 400.3 L250.7 420.6 L226.8 420.6 L214.9 400.3 L226.8 380.0 L250.7 380.0Z M262.6 440.9 L250.7 461.2 L226.8 461.2 L214.9 440.9 L226.8 420.6 L250.7 420.6Z M262.6 481.5 L250.7 501.8 L226.8 501.8 L214.9 481.5 L226.8 461.2 L250.7 461.2Z M262.6 522.1 L250.7 542.4 L226.8 542.4 L214.9 522.1 L226.8 501.8 L250.7 501.8Z M262.6 562.7 L250.7 583.0 L226.8 583.0 L214.9 562.7 L226.8 542.4 L250.7 542.4Z M262.6 603.3 L250.7 623.6 L226.8 623.6 L214.9 603.3 L226.8 583.0 L250.7 583.0Z M262.6 643.9 L250.7 664.2 L226.8 664.2 L214.9 643.9 L226.8 623.6 L250.7 623.6Z M262.6 684.5 L250.7 704.8 L226.8 704.8 L214.9 684.5 L226.8 664.2 L250.7 664.2Z M298.3 298.8 L286.4 319.1 L262.6 319.1 L250.7 298.8 L262.6 278.5 L286.4 278.5Z M298.3 339.4 L286.4 359.7 L262.6 359.7 L250.7 339.4 L262.6 319.1 L286.4 319.1Z M298.3 380.0 L286.4 400.3 L262.6 400.3 L250.7 380.0 L262.6 359.7 L286.4 359.7Z M298.3 420.6 L286.4 440.9 L262.6 440.9 L250.7 420.6 L262.6 400.3 L286.4 400.3Z M298.3 461.2 L286.4 481.5 L262.6 481.5 L250.7 461.2 L262.6 440.9 L286.4 440.9Z M298.3 501.8 L286.4 522.1 L262.6 522.1 L250.7 501.8 L262.6 481.5 L286.4 481.5Z M298.3 542.4 L286.4 562.7 L262.6 562.7 L250.7 542.4 L262.6 522.1 L286.4 522.1Z M298.3 583.0 L286.4 603.3 L262.6 603.3 L250.7 583.0 L262.6 562.7 L286.4 562.7Z M298.3 623.6 L286.4 643.9 L262.6 643.9 L250.7 623.6 L262.6 603.3 L286.4 603.3Z M298.3 664.2 L286.4 684.5 L262.6 684.5 L250.7 664.2 L262.6 643.9 L286.4 643.9Z M334.1 319.1 L322.1 339.4 L298.4 339.4 L286.4 319.1 L298.3 298.8 L322.1 298.8Z M334.1 359.7 L322.1 380.0 L298.4 380.0 L286.4 359.7 L298.3 339.4 L322.1 339.4Z M334.1 400.3 L322.1 420.6 L298.4 420.6 L286.4 400.3 L298.3 380.0 L322.1 380.0Z M334.1 440.9 L322.1 461.2 L298.4 461.2 L286.4 440.9 L298.3 420.6 L322.1 420.6Z M334.1 481.5 L322.1 501.8 L298.4 501.8 L286.4 481.5 L298.3 461.2 L322.1 461.2Z M334.1 522.1 L322.1 542.4 L298.4 542.4 L286.4 522.1 L298.3 501.8 L322.1 501.8Z M334.1 562.7 L322.1 583.0 L298.4 583.0 L286.4 562.7 L298.3 542.4 L322.1 542.4Z M334.1 603.3 L322.1 623.6 L298.4 623.6 L286.4 603.3 L298.3 583.0 L322.1 583.0Z M334.1 643.9 L322.1 664.2 L298.4 664.2 L286.4 643.9 L298.3 623.6 L322.1 623.6Z M334.1 684.5 L322.1 704.8 L298.4 704.8 L286.4 684.5 L298.3 664.2 L322.1 664.2Z M369.8 298.8 L357.9 319.1 L334.1 319.1 L322.2 298.8 L334.1 278.5 L357.9 278.5Z M369.8 339.4 L357.9 359.7 L334.1 359.7 L322.2 339.4 L334.1 319.1 L357.9 319.1Z M369.8 380.0 L357.9 400.3 L334.1 400.3 L322.2 380.0 L334.1 359.7 L357.9 359.7Z M369.8 420.6 L357.9 440.9 L334.1 440.9 L322.2 420.6 L334.1 400.3 L357.9 400.3Z M369.8 461.2 L357.9 481.5 L334.1 481.5 L322.2 461.2 L334.1 440.9 L357.9 440.9Z M369.8 501.8 L357.9 522.1 L334.1 522.1 L322.2 501.8 L334.1 481.5 L357.9 481.5Z M369.8 542.4 L357.9 562.7 L334.1 562.7 L322.2 542.4 L334.1 522.1 L357.9 522.1Z M369.8 583.0 L357.9 603.3 L334.1 603.3 L322.2 583.0 L334.1 562.7 L357.9 562.7Z M369.8 623.6 L357.9 643.9 L334.1 643.9 L322.2 623.6 L334.1 603.3 L357.9 603.3Z M369.8 664.2 L357.9 684.5 L334.1 684.5 L322.2 664.2 L334.1 643.9 L357.9 643.9Z M405.6 319.1 L393.6 339.4 L369.9 339.4 L357.9 319.1 L369.8 298.8 L393.6 298.8Z M405.6 359.7 L393.6 380.0 L369.9 380.0 L357.9 359.7 L369.8 339.4 L393.6 339.4Z M405.6 400.3 L393.6 420.6 L369.9 420.6 L357.9 400.3 L369.8 380.0 L393.6 380.0Z M405.6 440.9 L393.6 461.2 L369.9 461.2 L357.9 440.9 L369.8 420.6 L393.6 420.6Z M405.6 481.5 L393.6 501.8 L369.9 501.8 L357.9 481.5 L369.8 461.2 L393.6 461.2Z M405.6 522.1 L393.6 542.4 L369.9 542.4 L357.9 522.1 L369.8 501.8 L393.6 501.8Z M405.6 562.7 L393.6 583.0 L369.9 583.0 L357.9 562.7 L369.8 542.4 L393.6 542.4Z M405.6 603.3 L393.6 623.6 L369.9 623.6 L357.9 603.3 L369.8 583.0 L393.6 583.0Z M405.6 643.9 L393.6 664.2 L369.9 664.2 L357.9 643.9 L369.8 623.6 L393.6 623.6Z M405.6 684.5 L393.6 704.8 L369.9 704.8 L357.9 684.5 L369.8 664.2 L393.6 664.2Z M441.3 298.8 L429.4 319.1 L405.6 319.1 L393.7 298.8 L405.6 278.5 L429.4 278.5Z M441.3 339.4 L429.4 359.7 L405.6 359.7 L393.7 339.4 L405.6 319.1 L429.4 319.1Z M441.3 380.0 L429.4 400.3 L405.6 400.3 L393.7 380.0 L405.6 359.7 L429.4 359.7Z M441.3 420.6 L429.4 440.9 L405.6 440.9 L393.7 420.6 L405.6 400.3 L429.4 400.3Z M441.3 461.2 L429.4 481.5 L405.6 481.5 L393.7 461.2 L405.6 440.9 L429.4 440.9Z M441.3 501.8 L429.4 522.1 L405.6 522.1 L393.7 501.8 L405.6 481.5 L429.4 481.5Z M441.3 542.4 L429.4 562.7 L405.6 562.7 L393.7 542.4 L405.6 522.1 L429.4 522.1Z M441.3 583.0 L429.4 603.3 L405.6 603.3 L393.7 583.0 L405.6 562.7 L429.4 562.7Z M441.3 623.6 L429.4 643.9 L405.6 643.9 L393.7 623.6 L405.6 603.3 L429.4 603.3Z M441.3 664.2 L429.4 684.5 L405.6 684.5 L393.7 664.2 L405.6 643.9 L429.4 643.9Z M477.1 319.1 L465.1 339.4 L441.4 339.4 L429.4 319.1 L441.3 298.8 L465.1 298.8Z M477.1 359.7 L465.1 380.0 L441.4 380.0 L429.4 359.7 L441.3 339.4 L465.1 339.4Z M477.1 400.3 L465.1 420.6 L441.4 420.6 L429.4 400.3 L441.3 380.0 L465.1 380.0Z M477.1 440.9 L465.1 461.2 L441.4 461.2 L429.4 440.9 L441.3 420.6 L465.1 420.6Z M477.1 481.5 L465.1 501.8 L441.4 501.8 L429.4 481.5 L441.3 461.2 L465.1 461.2Z M477.1 522.1 L465.1 542.4 L441.4 542.4 L429.4 522.1 L441.3 501.8 L465.1 501.8Z M477.1 562.7 L465.1 583.0 L441.4 583.0 L429.4 562.7 L441.3 542.4 L465.1 542.4Z M477.1 603.3 L465.1 623.6 L441.4 623.6 L429.4 603.3 L441.3 583.0 L465.1 583.0Z M477.1 643.9 L465.1 664.2 L441.4 664.2 L429.4 643.9 L441.3 623.6 L465.1 623.6Z M477.1 684.5 L465.1 704.8 L441.4 704.8 L429.4 684.5 L441.3 664.2 L465.1 664.2Z" fill="none" stroke="#1e2a10" stroke-width="0.55" opacity="0.42"/>
<text x="24.2" y="307.6" font-size="5.60" fill="#1c2a10" text-anchor="middle" font-family="Liberation Serif, serif" opacity="0.55">2108</text><text x="24.2" y="348.2" font-size="5.60" fill="#1c2a10" text-anchor="middle" font-family="Liberation Serif, serif" opacity="0.55">2109</text><text x="24.2" y="388.8" font-size="5.60" fill="#1c2a10" text-anchor="middle" font-family="Liberation Serif, serif" opacity="0.55">2110</text><text x="24.2" y="429.4" font-size="5.60" fill="#1c2a10" text-anchor="middle" font-family="Liberation Serif, serif" opacity="0.55">2111</text><text x="24.2" y="470.0" font-size="5.60" fill="#1c2a10" text-anchor="middle" font-family="Liberation Serif, serif" opacity="0.55">2112</text><text x="24.2" y="510.6" font-size="5.60" fill="#1c2a10" text-anchor="middle" font-family="Liberation Serif, serif" opacity="0.55">2113</text><text x="24.2" y="551.2" font-size="5.60" fill="#1c2a10" text-anchor="middle" font-family="Liberation Serif, serif" opacity="0.55">2114</text><text x="24.2" y="591.8" font-size="5.60" fill="#1c2a10" text-anchor="middle" font-family="Liberation Serif, serif" opacity="0.55">2115</text><text x="24.2" y="632.4" font-size="5.60" fill="#1c2a10" text-anchor="middle" font-family="Liberation Serif, serif" opacity="0.55">2116</text><text x="24.2" y="673.0" font-size="5.60" fill="#1c2a10" text-anchor="middle" font-family="Liberation Serif, serif" opacity="0.55">2117</text><text x="60.0" y="287.3" font-size="5.60" fill="#1c2a10" text-anchor="middle" font-family="Liberation Serif, serif" opacity="0.55">2208</text><text x="60.0" y="327.9" font-size="5.60" fill="#1c2a10" text-anchor="middle" font-family="Liberation Serif, serif" opacity="0.55">2209</text><text x="60.0" y="368.5" font-size="5.60" fill="#1c2a10" text-anchor="middle" font-family="Liberation Serif, serif" opacity="0.55">2210</text><text x="60.0" y="409.1" font-size="5.60" fill="#1c2a10" text-anchor="middle" font-family="Liberation Serif, serif" opacity="0.55">2211</text><text x="60.0" y="449.7" font-size="5.60" fill="#1c2a10" text-anchor="middle" font-family="Liberation Serif, serif" opacity="0.55">2212</text><text x="60.0" y="490.3" font-size="5.60" fill="#1c2a10" text-anchor="middle" font-family="Liberation Serif, serif" opacity="0.55">2213</text><text x="60.0" y="530.9" font-size="5.60" fill="#1c2a10" text-anchor="middle" font-family="Liberation Serif, serif" opacity="0.55">2214</text><text x="60.0" y="571.5" font-size="5.60" fill="#1c2a10" text-anchor="middle" font-family="Liberation Serif, serif" opacity="0.55">2215</text><text x="60.0" y="612.1" font-size="5.60" fill="#1c2a10" text-anchor="middle" font-family="Liberation Serif, serif" opacity="0.55">2216</text><text x="60.0" y="652.7" font-size="5.60" fill="#1c2a10" text-anchor="middle" font-family="Liberation Serif, serif" opacity="0.55">2217</text><text x="95.8" y="307.6" font-size="5.60" fill="#1c2a10" text-anchor="middle" font-family="Liberation Serif, serif" opacity="0.55">2308</text><text x="95.8" y="348.2" font-size="5.60" fill="#1c2a10" text-anchor="middle" font-family="Liberation Serif, serif" opacity="0.55">2309</text><text x="95.8" y="388.8" font-size="5.60" fill="#1c2a10" text-anchor="middle" font-family="Liberation Serif, serif" opacity="0.55">2310</text><text x="95.8" y="429.4" font-size="5.60" fill="#1c2a10" text-anchor="middle" font-family="Liberation Serif, serif" opacity="0.55">2311</text><text x="95.8" y="470.0" font-size="5.60" fill="#1c2a10" text-anchor="middle" font-family="Liberation Serif, serif" opacity="0.55">2312</text><text x="95.8" y="510.6" font-size="5.60" fill="#1c2a10" text-anchor="middle" font-family="Liberation Serif, serif" opacity="0.55">2313</text><text x="95.8" y="551.2" font-size="5.60" fill="#1c2a10" text-anchor="middle" font-family="Liberation Serif, serif" opacity="0.55">2314</text><text x="95.8" y="591.8" font-size="5.60" fill="#1c2a10" text-anchor="middle" font-family="Liberation Serif, serif" opacity="0.55">2315</text><text x="95.8" y="632.4" font-size="5.60" fill="#1c2a10" text-anchor="middle" font-family="Liberation Serif, serif" opacity="0.55">2316</text><text x="95.8" y="673.0" font-size="5.60" fill="#1c2a10" text-anchor="middle" font-family="Liberation Serif, serif" opacity="0.55">2317</text><text x="131.5" y="287.3" font-size="5.60" fill="#1c2a10" text-anchor="middle" font-family="Liberation Serif, serif" opacity="0.55">2408</text><text x="131.5" y="327.9" font-size="5.60" fill="#1c2a10" text-anchor="middle" font-family="Liberation Serif, serif" opacity="0.55">2409</text><text x="131.5" y="368.5" font-size="5.60" fill="#1c2a10" text-anchor="middle" font-family="Liberation Serif, serif" opacity="0.55">2410</text><text x="131.5" y="409.1" font-size="5.60" fill="#1c2a10" text-anchor="middle" font-family="Liberation Serif, serif" opacity="0.55">2411</text><text x="131.5" y="449.7" font-size="5.60" fill="#1c2a10" text-anchor="middle" font-family="Liberation Serif, serif" opacity="0.55">2412</text><text x="131.5" y="490.3" font-size="5.60" fill="#1c2a10" text-anchor="middle" font-family="Liberation Serif, serif" opacity="0.55">2413</text><text x="131.5" y="530.9" font-size="5.60" fill="#1c2a10" text-anchor="middle" font-family="Liberation Serif, serif" opacity="0.55">2414</text><text x="131.5" y="571.5" font-size="5.60" fill="#1c2a10" text-anchor="middle" font-family="Liberation Serif, serif" opacity="0.55">2415</text><text x="131.5" y="612.1" font-size="5.60" fill="#1c2a10" text-anchor="middle" font-family="Liberation Serif, serif" opacity="0.55">2416</text><text x="131.5" y="652.7" font-size="5.60" fill="#1c2a10" text-anchor="middle" font-family="Liberation Serif, serif" opacity="0.55">2417</text><text x="167.2" y="307.6" font-size="5.60" fill="#1c2a10" text-anchor="middle" font-family="Liberation Serif, serif" opacity="0.55">2508</text><text x="167.2" y="348.2" font-size="5.60" fill="#1c2a10" text-anchor="middle" font-family="Liberation Serif, serif" opacity="0.55">2509</text><text x="167.2" y="388.8" font-size="5.60" fill="#1c2a10" text-anchor="middle" font-family="Liberation Serif, serif" opacity="0.55">2510</text><text x="167.2" y="429.4" font-size="5.60" fill="#1c2a10" text-anchor="middle" font-family="Liberation Serif, serif" opacity="0.55">2511</text><text x="167.2" y="470.0" font-size="5.60" fill="#1c2a10" text-anchor="middle" font-family="Liberation Serif, serif" opacity="0.55">2512</text><text x="167.2" y="510.6" font-size="5.60" fill="#1c2a10" text-anchor="middle" font-family="Liberation Serif, serif" opacity="0.55">2513</text><text x="167.2" y="551.2" font-size="5.60" fill="#1c2a10" text-anchor="middle" font-family="Liberation Serif, serif" opacity="0.55">2514</text><text x="167.2" y="591.8" font-size="5.60" fill="#1c2a10" text-anchor="middle" font-family="Liberation Serif, serif" opacity="0.55">2515</text><text x="167.2" y="632.4" font-size="5.60" fill="#1c2a10" text-anchor="middle" font-family="Liberation Serif, serif" opacity="0.55">2516</text><text x="167.2" y="673.0" font-size="5.60" fill="#1c2a10" text-anchor="middle" font-family="Liberation Serif, serif" opacity="0.55">2517</text><text x="203.0" y="287.3" font-size="5.60" fill="#1c2a10" text-anchor="middle" font-family="Liberation Serif, serif" opacity="0.55">2608</text><text x="203.0" y="327.9" font-size="5.60" fill="#1c2a10" text-anchor="middle" font-family="Liberation Serif, serif" opacity="0.55">2609</text><text x="203.0" y="368.5" font-size="5.60" fill="#1c2a10" text-anchor="middle" font-family="Liberation Serif, serif" opacity="0.55">2610</text><text x="203.0" y="409.1" font-size="5.60" fill="#1c2a10" text-anchor="middle" font-family="Liberation Serif, serif" opacity="0.55">2611</text><text x="203.0" y="449.7" font-size="5.60" fill="#1c2a10" text-anchor="middle" font-family="Liberation Serif, serif" opacity="0.55">2612</text><text x="203.0" y="490.3" font-size="5.60" fill="#1c2a10" text-anchor="middle" font-family="Liberation Serif, serif" opacity="0.55">2613</text><text x="203.0" y="530.9" font-size="5.60" fill="#1c2a10" text-anchor="middle" font-family="Liberation Serif, serif" opacity="0.55">2614</text><text x="203.0" y="571.5" font-size="5.60" fill="#1c2a10" text-anchor="middle" font-family="Liberation Serif, serif" opacity="0.55">2615</text><text x="203.0" y="612.1" font-size="5.60" fill="#1c2a10" text-anchor="middle" font-family="Liberation Serif, serif" opacity="0.55">2616</text><text x="203.0" y="652.7" font-size="5.60" fill="#1c2a10" text-anchor="middle" font-family="Liberation Serif, serif" opacity="0.55">2617</text><text x="238.8" y="307.6" font-size="5.60" fill="#1c2a10" text-anchor="middle" font-family="Liberation Serif, serif" opacity="0.55">2708</text><text x="238.8" y="348.2" font-size="5.60" fill="#1c2a10" text-anchor="middle" font-family="Liberation Serif, serif" opacity="0.55">2709</text><text x="238.8" y="388.8" font-size="5.60" fill="#1c2a10" text-anchor="middle" font-family="Liberation Serif, serif" opacity="0.55">2710</text><text x="238.8" y="429.4" font-size="5.60" fill="#1c2a10" text-anchor="middle" font-family="Liberation Serif, serif" opacity="0.55">2711</text><text x="238.8" y="470.0" font-size="5.60" fill="#1c2a10" text-anchor="middle" font-family="Liberation Serif, serif" opacity="0.55">2712</text><text x="238.8" y="510.6" font-size="5.60" fill="#1c2a10" text-anchor="middle" font-family="Liberation Serif, serif" opacity="0.55">2713</text><text x="238.8" y="551.2" font-size="5.60" fill="#1c2a10" text-anchor="middle" font-family="Liberation Serif, serif" opacity="0.55">2714</text><text x="238.8" y="591.8" font-size="5.60" fill="#1c2a10" text-anchor="middle" font-family="Liberation Serif, serif" opacity="0.55">2715</text><text x="238.8" y="632.4" font-size="5.60" fill="#1c2a10" text-anchor="middle" font-family="Liberation Serif, serif" opacity="0.55">2716</text><text x="238.8" y="673.0" font-size="5.60" fill="#1c2a10" text-anchor="middle" font-family="Liberation Serif, serif" opacity="0.55">2717</text><text x="274.5" y="287.3" font-size="5.60" fill="#1c2a10" text-anchor="middle" font-family="Liberation Serif, serif" opacity="0.55">2808</text><text x="274.5" y="327.9" font-size="5.60" fill="#1c2a10" text-anchor="middle" font-family="Liberation Serif, serif" opacity="0.55">2809</text><text x="274.5" y="368.5" font-size="5.60" fill="#1c2a10" text-anchor="middle" font-family="Liberation Serif, serif" opacity="0.55">2810</text><text x="274.5" y="409.1" font-size="5.60" fill="#1c2a10" text-anchor="middle" font-family="Liberation Serif, serif" opacity="0.55">2811</text><text x="274.5" y="449.7" font-size="5.60" fill="#1c2a10" text-anchor="middle" font-family="Liberation Serif, serif" opacity="0.55">2812</text><text x="274.5" y="490.3" font-size="5.60" fill="#1c2a10" text-anchor="middle" font-family="Liberation Serif, serif" opacity="0.55">2813</text><text x="274.5" y="530.9" font-size="5.60" fill="#1c2a10" text-anchor="middle" font-family="Liberation Serif, serif" opacity="0.55">2814</text><text x="274.5" y="571.5" font-size="5.60" fill="#1c2a10" text-anchor="middle" font-family="Liberation Serif, serif" opacity="0.55">2815</text><text x="274.5" y="612.1" font-size="5.60" fill="#1c2a10" text-anchor="middle" font-family="Liberation Serif, serif" opacity="0.55">2816</text><text x="274.5" y="652.7" font-size="5.60" fill="#1c2a10" text-anchor="middle" font-family="Liberation Serif, serif" opacity="0.55">2817</text><text x="310.2" y="307.6" font-size="5.60" fill="#1c2a10" text-anchor="middle" font-family="Liberation Serif, serif" opacity="0.55">2908</text><text x="310.2" y="348.2" font-size="5.60" fill="#1c2a10" text-anchor="middle" font-family="Liberation Serif, serif" opacity="0.55">2909</text><text x="310.2" y="388.8" font-size="5.60" fill="#1c2a10" text-anchor="middle" font-family="Liberation Serif, serif" opacity="0.55">2910</text><text x="310.2" y="429.4" font-size="5.60" fill="#1c2a10" text-anchor="middle" font-family="Liberation Serif, serif" opacity="0.55">2911</text><text x="310.2" y="470.0" font-size="5.60" fill="#1c2a10" text-anchor="middle" font-family="Liberation Serif, serif" opacity="0.55">2912</text><text x="310.2" y="510.6" font-size="5.60" fill="#1c2a10" text-anchor="middle" font-family="Liberation Serif, serif" opacity="0.55">2913</text><text x="310.2" y="551.2" font-size="5.60" fill="#1c2a10" text-anchor="middle" font-family="Liberation Serif, serif" opacity="0.55">2914</text><text x="310.2" y="591.8" font-size="5.60" fill="#1c2a10" text-anchor="middle" font-family="Liberation Serif, serif" opacity="0.55">2915</text><text x="310.2" y="632.4" font-size="5.60" fill="#1c2a10" text-anchor="middle" font-family="Liberation Serif, serif" opacity="0.55">2916</text><text x="310.2" y="673.0" font-size="5.60" fill="#1c2a10" text-anchor="middle" font-family="Liberation Serif, serif" opacity="0.55">2917</text><text x="346.0" y="287.3" font-size="5.60" fill="#1c2a10" text-anchor="middle" font-family="Liberation Serif, serif" opacity="0.55">3008</text><text x="346.0" y="327.9" font-size="5.60" fill="#1c2a10" text-anchor="middle" font-family="Liberation Serif, serif" opacity="0.55">3009</text><text x="346.0" y="368.5" font-size="5.60" fill="#1c2a10" text-anchor="middle" font-family="Liberation Serif, serif" opacity="0.55">3010</text><text x="346.0" y="409.1" font-size="5.60" fill="#1c2a10" text-anchor="middle" font-family="Liberation Serif, serif" opacity="0.55">3011</text><text x="346.0" y="449.7" font-size="5.60" fill="#1c2a10" text-anchor="middle" font-family="Liberation Serif, serif" opacity="0.55">3012</text><text x="346.0" y="490.3" font-size="5.60" fill="#1c2a10" text-anchor="middle" font-family="Liberation Serif, serif" opacity="0.55">3013</text><text x="346.0" y="530.9" font-size="5.60" fill="#1c2a10" text-anchor="middle" font-family="Liberation Serif, serif" opacity="0.55">3014</text><text x="346.0" y="571.5" font-size="5.60" fill="#1c2a10" text-anchor="middle" font-family="Liberation Serif, serif" opacity="0.55">3015</text><text x="346.0" y="612.1" font-size="5.60" fill="#1c2a10" text-anchor="middle" font-family="Liberation Serif, serif" opacity="0.55">3016</text><text x="346.0" y="652.7" font-size="5.60" fill="#1c2a10" text-anchor="middle" font-family="Liberation Serif, serif" opacity="0.55">3017</text><text x="381.8" y="307.6" font-size="5.60" fill="#1c2a10" text-anchor="middle" font-family="Liberation Serif, serif" opacity="0.55">3108</text><text x="381.8" y="348.2" font-size="5.60" fill="#1c2a10" text-anchor="middle" font-family="Liberation Serif, serif" opacity="0.55">3109</text><text x="381.8" y="388.8" font-size="5.60" fill="#1c2a10" text-anchor="middle" font-family="Liberation Serif, serif" opacity="0.55">3110</text><text x="381.8" y="429.4" font-size="5.60" fill="#1c2a10" text-anchor="middle" font-family="Liberation Serif, serif" opacity="0.55">3111</text><text x="381.8" y="470.0" font-size="5.60" fill="#1c2a10" text-anchor="middle" font-family="Liberation Serif, serif" opacity="0.55">3112</text><text x="381.8" y="510.6" font-size="5.60" fill="#1c2a10" text-anchor="middle" font-family="Liberation Serif, serif" opacity="0.55">3113</text><text x="381.8" y="551.2" font-size="5.60" fill="#1c2a10" text-anchor="middle" font-family="Liberation Serif, serif" opacity="0.55">3114</text><text x="381.8" y="591.8" font-size="5.60" fill="#1c2a10" text-anchor="middle" font-family="Liberation Serif, serif" opacity="0.55">3115</text><text x="381.8" y="632.4" font-size="5.60" fill="#1c2a10" text-anchor="middle" font-family="Liberation Serif, serif" opacity="0.55">3116</text><text x="381.8" y="673.0" font-size="5.60" fill="#1c2a10" text-anchor="middle" font-family="Liberation Serif, serif" opacity="0.55">3117</text><text x="417.5" y="287.3" font-size="5.60" fill="#1c2a10" text-anchor="middle" font-family="Liberation Serif, serif" opacity="0.55">3208</text><text x="417.5" y="327.9" font-size="5.60" fill="#1c2a10" text-anchor="middle" font-family="Liberation Serif, serif" opacity="0.55">3209</text><text x="417.5" y="368.5" font-size="5.60" fill="#1c2a10" text-anchor="middle" font-family="Liberation Serif, serif" opacity="0.55">3210</text><text x="417.5" y="409.1" font-size="5.60" fill="#1c2a10" text-anchor="middle" font-family="Liberation Serif, serif" opacity="0.55">3211</text><text x="417.5" y="449.7" font-size="5.60" fill="#1c2a10" text-anchor="middle" font-family="Liberation Serif, serif" opacity="0.55">3212</text><text x="417.5" y="490.3" font-size="5.60" fill="#1c2a10" text-anchor="middle" font-family="Liberation Serif, serif" opacity="0.55">3213</text><text x="417.5" y="530.9" font-size="5.60" fill="#1c2a10" text-anchor="middle" font-family="Liberation Serif, serif" opacity="0.55">3214</text><text x="417.5" y="571.5" font-size="5.60" fill="#1c2a10" text-anchor="middle" font-family="Liberation Serif, serif" opacity="0.55">3215</text><text x="417.5" y="612.1" font-size="5.60" fill="#1c2a10" text-anchor="middle" font-family="Liberation Serif, serif" opacity="0.55">3216</text><text x="417.5" y="652.7" font-size="5.60" fill="#1c2a10" text-anchor="middle" font-family="Liberation Serif, serif" opacity="0.55">3217</text><text x="453.2" y="307.6" font-size="5.60" fill="#1c2a10" text-anchor="middle" font-family="Liberation Serif, serif" opacity="0.55">3308</text><text x="453.2" y="348.2" font-size="5.60" fill="#1c2a10" text-anchor="middle" font-family="Liberation Serif, serif" opacity="0.55">3309</text><text x="453.2" y="388.8" font-size="5.60" fill="#1c2a10" text-anchor="middle" font-family="Liberation Serif, serif" opacity="0.55">3310</text><text x="453.2" y="429.4" font-size="5.60" fill="#1c2a10" text-anchor="middle" font-family="Liberation Serif, serif" opacity="0.55">3311</text><text x="453.2" y="470.0" font-size="5.60" fill="#1c2a10" text-anchor="middle" font-family="Liberation Serif, serif" opacity="0.55">3312</text><text x="453.2" y="510.6" font-size="5.60" fill="#1c2a10" text-anchor="middle" font-family="Liberation Serif, serif" opacity="0.55">3313</text><text x="453.2" y="551.2" font-size="5.60" fill="#1c2a10" text-anchor="middle" font-family="Liberation Serif, serif" opacity="0.55">3314</text><text x="453.2" y="591.8" font-size="5.60" fill="#1c2a10" text-anchor="middle" font-family="Liberation Serif, serif" opacity="0.55">3315</text><text x="453.2" y="632.4" font-size="5.60" fill="#1c2a10" text-anchor="middle" font-family="Liberation Serif, serif" opacity="0.55">3316</text><text x="453.2" y="673.0" font-size="5.60" fill="#1c2a10" text-anchor="middle" font-family="Liberation Serif, serif" opacity="0.55">3317</text>
<path d="M73.0 388.0 C73.1 389.4 74.4 394.0 73.6 396.3 C72.8 398.7 70.2 401.1 68.1 402.1 C66.0 403.1 63.3 402.3 61.0 402.2 C58.7 402.0 56.3 402.3 54.4 401.1 C52.5 400.0 50.8 397.7 49.6 395.5 C48.4 393.3 47.3 390.6 47.1 388.0 C47.0 385.4 47.2 381.7 48.6 379.8 C49.9 377.8 53.0 377.1 55.1 376.3 C57.2 375.5 58.8 375.2 61.0 374.8 C63.2 374.3 66.4 372.7 68.3 373.6 C70.1 374.6 71.5 378.1 72.3 380.5 C73.1 382.9 72.9 386.8 73.0 388.0Z" fill="url(#forestp)" stroke="#2a7a2a" stroke-width="1.6"/>
<path d="M182.0 371.0 C181.6 372.2 181.5 376.8 179.9 378.5 C178.4 380.2 174.9 380.4 172.7 381.1 C170.5 381.8 169.0 382.4 166.8 382.8 C164.6 383.2 161.5 384.4 159.4 383.6 C157.4 382.8 155.5 380.2 154.4 378.1 C153.2 376.0 152.5 373.2 152.7 371.0 C152.9 368.8 154.5 366.7 155.7 364.7 C156.9 362.7 158.0 360.4 159.9 359.1 C161.7 357.9 164.5 357.3 166.8 357.3 C169.1 357.3 171.9 357.9 173.7 359.2 C175.5 360.5 176.0 363.0 177.4 365.0 C178.8 366.9 181.2 370.0 182.0 371.0Z" fill="url(#forestp)" stroke="#2a7a2a" stroke-width="1.6"/>
<path d="M43.0 397.0 C42.9 399.8 43.2 409.2 42.6 413.8 C42.0 418.5 40.6 421.9 39.4 424.8 C38.2 427.7 36.8 430.9 35.5 431.2 C34.2 431.5 32.4 430.0 31.3 426.8 C30.3 423.5 29.8 416.6 29.3 411.6 C28.9 406.7 28.7 402.5 28.5 397.0 C28.3 391.5 27.3 383.3 27.9 378.8 C28.4 374.4 30.5 372.2 31.7 370.1 C33.0 368.0 34.1 367.1 35.5 366.2 C36.9 365.2 38.9 361.9 40.1 364.3 C41.2 366.7 42.0 375.1 42.4 380.5 C42.9 386.0 42.9 394.3 43.0 397.0Z" fill="url(#forestp)" stroke="#2a7a2a" stroke-width="1.6"/>
<path d="M397.3 367.0 C397.1 367.9 396.9 370.8 395.8 372.2 C394.7 373.5 392.7 374.6 390.9 375.2 C389.2 375.8 387.2 376.1 385.5 375.9 C383.8 375.7 382.4 374.8 380.8 374.1 C379.1 373.4 376.6 373.1 375.6 372.0 C374.6 370.8 374.7 368.7 374.7 367.0 C374.6 365.3 374.4 363.2 375.4 361.9 C376.3 360.6 378.5 359.9 380.2 359.1 C381.9 358.2 383.8 356.8 385.5 356.8 C387.2 356.8 388.9 358.4 390.6 359.3 C392.3 360.1 394.6 360.6 395.7 361.9 C396.9 363.1 397.0 366.1 397.3 367.0Z" fill="url(#forestp)" stroke="#2a7a2a" stroke-width="1.6"/>
<path d="M399.8 445.0 C399.4 445.6 398.6 447.3 397.7 448.4 C396.9 449.6 396.1 451.3 394.6 451.9 C393.0 452.4 390.3 451.7 388.2 451.7 C386.2 451.7 383.8 452.2 382.1 451.6 C380.5 451.1 378.9 449.8 378.1 448.7 C377.4 447.6 377.7 446.2 377.6 445.0 C377.5 443.8 376.8 442.2 377.7 441.2 C378.6 440.2 381.2 439.9 383.0 439.3 C384.7 438.6 386.5 437.5 388.2 437.5 C390.0 437.5 392.0 438.5 393.6 439.2 C395.1 439.9 396.5 440.7 397.6 441.6 C398.6 442.6 399.4 444.4 399.8 445.0Z" fill="url(#forestp)" stroke="#2a7a2a" stroke-width="1.6"/>
<path d="M435.1 435.5 C435.2 436.4 437.0 439.8 435.8 441.1 C434.6 442.4 430.3 442.4 427.8 443.3 C425.4 444.1 423.3 446.1 421.0 446.0 C418.7 446.0 416.3 444.1 414.3 443.2 C412.2 442.2 410.5 441.4 408.7 440.1 C407.0 438.9 403.7 437.0 403.7 435.5 C403.7 434.0 407.3 432.4 408.9 430.9 C410.4 429.4 411.1 427.4 413.1 426.5 C415.1 425.6 418.4 425.6 421.0 425.6 C423.6 425.7 426.3 426.2 428.5 427.0 C430.7 427.8 433.1 429.1 434.1 430.5 C435.2 431.9 434.9 434.7 435.1 435.5Z" fill="url(#forestp)" stroke="#2a7a2a" stroke-width="1.6"/>
<path d="M352.3 437.5 C352.0 438.0 351.5 439.7 350.4 440.5 C349.4 441.3 347.5 441.7 345.9 442.3 C344.2 443.0 342.2 444.3 340.5 444.3 C338.8 444.3 337.1 442.7 335.4 442.1 C333.6 441.5 331.5 441.4 330.2 440.6 C328.9 439.8 327.1 438.5 327.3 437.5 C327.5 436.5 330.2 435.7 331.4 434.8 C332.6 433.9 333.0 432.7 334.5 432.1 C336.0 431.5 338.6 431.0 340.5 431.1 C342.4 431.3 344.0 432.3 345.7 432.8 C347.3 433.4 349.3 433.7 350.4 434.5 C351.5 435.3 352.0 437.0 352.3 437.5Z" fill="url(#forestp)" stroke="#2a7a2a" stroke-width="1.6"/>
<path d="M277.8 381.5 C277.6 382.4 277.2 385.2 276.6 386.9 C275.9 388.5 275.1 390.4 274.1 391.2 C273.1 391.9 271.8 391.4 270.5 391.5 C269.2 391.6 267.8 392.5 266.6 391.8 C265.5 391.1 264.4 389.2 263.8 387.4 C263.2 385.7 262.9 383.3 263.1 381.5 C263.3 379.7 264.3 378.1 264.9 376.5 C265.5 375.0 266.0 372.9 266.9 372.0 C267.9 371.1 269.3 371.0 270.5 371.1 C271.7 371.2 272.7 372.0 273.8 372.7 C275.0 373.4 276.8 373.9 277.4 375.4 C278.1 376.8 277.7 380.5 277.8 381.5Z" fill="url(#forestp)" stroke="#2a7a2a" stroke-width="1.6"/>
<path d="M310.3 335.0 C310.1 335.7 309.9 338.0 309.2 339.3 C308.5 340.7 307.4 342.6 305.8 343.3 C304.3 344.0 301.8 343.6 300.0 343.5 C298.2 343.3 296.3 343.1 294.8 342.4 C293.2 341.7 291.5 340.6 290.7 339.4 C290.0 338.1 290.4 336.4 290.5 335.0 C290.5 333.6 290.2 332.0 290.9 330.7 C291.6 329.4 293.1 328.2 294.6 327.3 C296.1 326.5 298.3 325.6 300.0 325.8 C301.7 325.9 303.2 327.6 304.6 328.4 C306.1 329.3 307.6 329.9 308.6 331.0 C309.5 332.1 310.0 334.3 310.3 335.0Z" fill="url(#forestp)" stroke="#2a7a2a" stroke-width="1.6"/>
<path d="M391.5 326.0 C391.4 326.3 391.5 327.4 390.9 328.0 C390.3 328.6 389.1 329.2 388.0 329.4 C386.8 329.7 385.2 329.5 384.0 329.4 C382.8 329.3 381.8 329.1 380.7 328.9 C379.6 328.6 378.3 328.3 377.6 327.8 C377.0 327.4 377.0 326.6 376.9 326.0 C376.7 325.4 376.3 324.5 376.9 323.9 C377.4 323.4 378.8 322.8 380.0 322.5 C381.2 322.2 382.7 322.1 384.0 322.1 C385.3 322.1 386.7 322.3 387.9 322.7 C389.0 323.0 390.3 323.5 390.9 324.0 C391.5 324.6 391.4 325.7 391.5 326.0Z" fill="url(#forestp)" stroke="#2a7a2a" stroke-width="1.6"/>
<path d="M171.1 327.5 C171.1 328.0 171.4 329.5 170.9 330.2 C170.4 331.0 169.1 331.8 168.0 332.3 C166.8 332.7 165.2 333.3 164.0 333.2 C162.8 333.1 161.5 332.2 160.5 331.6 C159.5 331.1 158.5 330.6 157.9 329.9 C157.3 329.2 157.1 328.3 157.1 327.5 C157.1 326.7 157.4 325.9 157.9 325.1 C158.4 324.3 158.9 323.1 160.0 322.7 C161.0 322.3 162.7 322.8 164.0 322.8 C165.3 322.8 166.8 322.6 167.8 322.9 C168.8 323.3 169.5 324.3 170.1 325.1 C170.6 325.9 170.9 327.1 171.1 327.5Z" fill="url(#forestp)" stroke="#2a7a2a" stroke-width="1.6"/>
<path d="M451.4 565.0 C451.4 566.0 452.2 569.3 451.6 571.0 C451.0 572.7 449.2 574.2 447.7 575.3 C446.2 576.4 444.1 577.9 442.5 577.8 C440.9 577.6 439.2 575.5 437.8 574.3 C436.5 573.0 435.4 571.9 434.4 570.3 C433.4 568.8 432.0 566.9 431.9 565.0 C431.7 563.1 432.5 560.6 433.5 559.1 C434.5 557.5 436.3 556.7 437.8 555.7 C439.3 554.7 440.9 553.1 442.5 553.0 C444.1 553.0 445.8 554.4 447.3 555.4 C448.9 556.4 451.1 557.3 451.8 558.9 C452.5 560.5 451.5 564.0 451.4 565.0Z" fill="url(#forestp)" stroke="#2a7a2a" stroke-width="1.6"/>
<path d="M72.4 346.0 C72.1 346.4 70.8 347.6 70.3 348.5 C69.7 349.3 69.7 350.8 69.0 351.3 C68.3 351.7 67.0 351.1 66.0 351.2 C65.0 351.2 63.5 352.0 62.8 351.6 C62.1 351.1 62.2 349.4 61.7 348.5 C61.2 347.5 59.9 346.9 59.7 346.0 C59.6 345.1 60.3 343.9 60.8 343.0 C61.3 342.1 62.0 341.2 62.9 340.6 C63.7 340.0 65.0 339.4 66.0 339.5 C67.0 339.7 67.9 340.8 68.6 341.4 C69.4 342.0 70.1 342.5 70.7 343.3 C71.3 344.0 72.1 345.5 72.4 346.0Z" fill="url(#forestp)" stroke="#2a7a2a" stroke-width="1.6"/>
<path d="M158.0 500.0 C158.5 496.7 159.7 486.3 161.0 480.0 C162.3 473.7 163.5 467.7 166.0 462.0 C168.5 456.3 171.7 450.8 176.0 446.0 C180.3 441.2 186.0 435.5 192.0 433.0 C198.0 430.5 205.3 430.2 212.0 431.0 C218.7 431.8 225.7 435.5 232.0 438.0 C238.3 440.5 244.3 446.0 250.0 446.0 C255.7 446.0 261.3 441.7 266.0 438.0 C270.7 434.3 275.3 427.7 278.0 424.0 C280.7 420.3 281.3 417.3 282.0 416.0" fill="none" stroke="#2a7a2a" stroke-width="19.4" stroke-linecap="round" stroke-linejoin="round"/>
<path d="M158.0 500.0 C158.5 496.7 159.7 486.3 161.0 480.0 C162.3 473.7 163.5 467.7 166.0 462.0 C168.5 456.3 171.7 450.8 176.0 446.0 C180.3 441.2 186.0 435.5 192.0 433.0 C198.0 430.5 205.3 430.2 212.0 431.0 C218.7 431.8 225.7 435.5 232.0 438.0 C238.3 440.5 244.3 446.0 250.0 446.0 C255.7 446.0 261.3 441.7 266.0 438.0 C270.7 434.3 275.3 427.7 278.0 424.0 C280.7 420.3 281.3 417.3 282.0 416.0" fill="none" stroke="url(#forestp)" stroke-width="17" stroke-linecap="round" stroke-linejoin="round"/>
<path d="M196.0 428.0 C198.3 427.0 205.7 422.3 210.0 422.0 C214.3 421.7 220.0 425.3 222.0 426.0" fill="none" stroke="#2a7a2a" stroke-width="12.4" stroke-linecap="round" stroke-linejoin="round"/>
<path d="M196.0 428.0 C198.3 427.0 205.7 422.3 210.0 422.0 C214.3 421.7 220.0 425.3 222.0 426.0" fill="none" stroke="url(#forestp)" stroke-width="10" stroke-linecap="round" stroke-linejoin="round"/>
<path d="M330.0 436.0 C332.5 436.7 341.3 439.8 345.0 440.0 C348.7 440.2 350.8 437.5 352.0 437.0" fill="none" stroke="#2a7a2a" stroke-width="11.4" stroke-linecap="round" stroke-linejoin="round"/>
<path d="M330.0 436.0 C332.5 436.7 341.3 439.8 345.0 440.0 C348.7 440.2 350.8 437.5 352.0 437.0" fill="none" stroke="url(#forestp)" stroke-width="9" stroke-linecap="round" stroke-linejoin="round"/>
<path d="M274 508 L290 503 L313 527 L309 540 L296 538 Z" fill="url(#forestp)" stroke="#2a7a2a" stroke-width="1.2"/>
<path d="M150 482 L166 482 L160 497 L150 493Z" fill="url(#forestp)" stroke="#2a7a2a" stroke-width="1"/>
<path d="M141.9 484.9 C143.5 486.8 147.3 491.6 151.6 496.2 C155.9 500.8 162.4 508.9 167.8 512.4 C173.2 515.9 178.6 515.9 184.0 517.3 C189.4 518.6 193.4 521.6 200.2 520.5 C206.9 519.4 217.0 512.9 224.5 510.8 C232.0 508.7 238.6 506.8 245.0 508.0 C251.4 509.2 254.6 512.9 262.7 518.0 C270.8 523.1 286.4 534.2 293.5 538.5 C300.6 542.8 300.6 544.6 305.5 543.7 C310.4 542.9 317.6 535.4 322.7 533.4 C327.8 531.4 330.7 530.3 336.4 531.7 C342.1 533.1 350.7 538.3 357.0 542.0 C363.3 545.7 368.3 551.7 374.0 554.0 C379.7 556.3 385.5 553.1 391.2 555.7 C396.9 558.3 402.6 564.9 408.3 569.4 C414.0 573.9 419.4 579.6 425.5 583.0 C431.6 586.4 439.2 588.2 445.0 590.0 C450.8 591.8 457.5 593.3 460.0 594.0" fill="none" stroke="#a4dcec" stroke-width="7" stroke-linejoin="round" stroke-linecap="round" stroke-dasharray="9 0.1 5 0.1" />
<path d="M141.9 484.9 C143.5 486.8 147.3 491.6 151.6 496.2 C155.9 500.8 162.4 508.9 167.8 512.4 C173.2 515.9 178.6 515.9 184.0 517.3 C189.4 518.6 193.4 521.6 200.2 520.5 C206.9 519.4 217.0 512.9 224.5 510.8 C232.0 508.7 238.6 506.8 245.0 508.0 C251.4 509.2 254.6 512.9 262.7 518.0 C270.8 523.1 286.4 534.2 293.5 538.5 C300.6 542.8 300.6 544.6 305.5 543.7 C310.4 542.9 317.6 535.4 322.7 533.4 C327.8 531.4 330.7 530.3 336.4 531.7 C342.1 533.1 350.7 538.3 357.0 542.0 C363.3 545.7 368.3 551.7 374.0 554.0 C379.7 556.3 385.5 553.1 391.2 555.7 C396.9 558.3 402.6 564.9 408.3 569.4 C414.0 573.9 419.4 579.6 425.5 583.0 C431.6 586.4 439.2 588.2 445.0 590.0 C450.8 591.8 457.5 593.3 460.0 594.0" fill="none" stroke="#b6eaf6" stroke-width="4.6" stroke-linejoin="round"/>
<path d="M107.0 320.0 C109.2 322.2 113.5 328.8 120.0 333.0 C126.5 337.2 141.8 340.5 146.3 345.3 C150.8 350.1 147.3 356.2 147.0 362.0 C146.7 367.8 142.5 376.0 144.7 380.0 C146.9 384.0 155.3 384.7 160.0 386.0 C164.7 387.3 168.2 384.6 173.0 387.8 C177.8 391.0 189.1 399.5 188.8 405.0 C188.6 410.5 178.3 416.7 171.5 420.9 C164.7 425.1 152.4 424.0 147.9 430.3 C143.4 436.6 144.7 450.5 144.7 458.6 C144.7 466.7 147.0 474.4 147.9 479.0 C148.8 483.6 149.7 484.8 150.0 486.0" fill="none" stroke="#3a2e8c" stroke-width="4" stroke-linejoin="round" stroke-linecap="round"/>
<path d="M34.6 353.2 C35.8 354.3 41.2 352.9 42.0 360.0 C42.8 367.1 39.0 383.5 39.3 395.7 C39.6 407.9 44.3 422.9 44.0 433.4 C43.7 443.9 39.0 451.0 37.7 458.6 C36.4 466.2 36.7 475.4 36.2 479.0 C35.8 482.6 34.7 477.7 35.0 480.0 C35.3 482.3 33.6 489.5 38.2 493.0 C42.8 496.5 56.3 498.8 62.5 501.0 C68.7 503.2 70.4 506.5 75.5 506.0 C80.6 505.5 86.0 497.6 93.3 497.8 C100.6 498.1 113.6 505.1 119.2 507.5 C124.8 509.9 125.7 511.2 127.0 512.0" fill="none" stroke="#3a2e8c" stroke-width="4" stroke-linejoin="round" stroke-linecap="round"/>
<path d="M75.5 506.0 C76.3 509.8 80.8 523.2 80.3 528.6 C79.8 534.0 71.7 534.5 72.2 538.3 C72.8 542.1 82.8 543.7 83.6 551.3 C84.4 558.9 79.5 574.0 77.1 583.7 C74.7 593.4 73.9 602.6 69.0 609.6 C64.1 616.6 54.8 621.5 47.9 625.8 C41.0 630.1 31.1 633.9 27.7 635.5" fill="none" stroke="#3a2e8c" stroke-width="4" stroke-linejoin="round" stroke-linecap="round"/>
<path d="M27.7 512.4 C30.2 513.5 38.5 515.1 43.0 518.9 C47.5 522.7 54.9 530.1 54.4 535.0 C53.9 539.9 44.5 544.2 40.0 548.0 C35.5 551.8 29.8 556.2 27.7 557.8" fill="none" stroke="#3a2e8c" stroke-width="4" stroke-linejoin="round" stroke-linecap="round"/>
<path d="M154.8 512.4 C151.6 515.9 141.9 527.6 135.4 533.5 C128.9 539.4 118.7 541.8 116.0 548.0 C113.3 554.2 119.8 564.8 119.2 570.7 C118.7 576.7 114.6 577.2 112.7 583.7 C110.8 590.2 108.7 605.3 107.9 609.6" fill="none" stroke="#3a2e8c" stroke-width="4" stroke-linejoin="round" stroke-linecap="round"/>
<path d="M107.9 621.0 C113.0 621.3 130.8 619.9 138.6 622.6 C146.4 625.3 152.6 632.2 154.8 637.1 C157.0 642.0 152.5 649.5 152.0 652.0" fill="none" stroke="#3a2e8c" stroke-width="4" stroke-linejoin="round" stroke-linecap="round"/>
<path d="M112.7 625.8 L111.0 652.0" fill="none" stroke="#3a2e8c" stroke-width="4" stroke-linejoin="round" stroke-linecap="round"/>
<path d="M188.9 621.0 C188.6 618.8 184.0 611.0 187.2 608.0 C190.4 605.0 202.1 602.8 208.3 603.1 C214.5 603.4 220.4 610.7 224.5 609.6 C228.6 608.5 228.8 598.5 232.6 596.6 C236.4 594.8 241.4 600.2 247.3 598.5 C253.2 596.8 265.8 590.8 267.8 586.5 C269.8 582.2 261.9 579.4 259.3 572.8 C256.7 566.2 253.3 554.1 252.4 547.0 C251.5 539.9 252.4 534.5 254.0 530.0 C255.6 525.5 260.7 521.7 262.0 520.0" fill="none" stroke="#3a2e8c" stroke-width="4" stroke-linejoin="round" stroke-linecap="round"/>
<path d="M257.5 322.0 C259.6 324.2 265.6 331.4 270.0 335.0 C274.4 338.6 278.2 342.1 284.2 343.8 C290.2 345.5 298.3 346.6 306.2 345.3 C314.1 344.0 325.8 337.1 331.4 335.9 C337.0 334.7 338.6 337.6 340.0 338.0" fill="none" stroke="#3a2e8c" stroke-width="4" stroke-linejoin="round" stroke-linecap="round"/>
<path d="M252.7 461.8 C253.9 459.5 257.4 451.9 260.0 448.0 C262.6 444.1 261.8 441.7 268.5 438.2 C275.2 434.7 290.6 430.2 300.0 427.1 C309.4 424.0 318.6 422.2 325.1 419.3 C331.7 416.4 334.1 411.1 339.3 409.8 C344.6 408.5 350.6 409.0 356.6 411.4 C362.6 413.8 368.4 420.3 375.5 424.0 C382.6 427.7 395.1 431.8 399.0 433.4" fill="none" stroke="#3a2e8c" stroke-width="4" stroke-linejoin="round" stroke-linecap="round"/>
<path d="M237.0 462.0 L252.7 461.8" fill="none" stroke="#3a2e8c" stroke-width="4" stroke-linejoin="round" stroke-linecap="round"/>
<path d="M386.5 394.1 C389.1 396.2 394.9 404.3 402.2 406.7 C409.5 409.1 423.9 406.2 430.5 408.3 C437.1 410.4 437.7 415.6 441.6 419.3 C445.5 423.0 452.0 428.5 454.1 430.3" fill="none" stroke="#3a2e8c" stroke-width="4" stroke-linejoin="round" stroke-linecap="round"/>
<path d="M322.7 542.0 C323.3 545.4 325.0 554.5 326.1 562.5 C327.2 570.5 328.1 581.7 329.5 590.0 C330.9 598.3 335.6 605.9 334.7 612.2 C333.8 618.5 326.4 621.0 324.4 627.6 C322.4 634.2 323.0 647.9 322.7 652.0" fill="none" stroke="#3a2e8c" stroke-width="4" stroke-linejoin="round" stroke-linecap="round"/>
<path d="M291.8 652.0 C292.4 648.8 292.3 635.8 295.3 632.8 C298.3 629.8 305.1 632.8 310.0 634.0 C314.9 635.2 322.0 639.0 324.4 640.0" fill="none" stroke="#3a2e8c" stroke-width="4" stroke-linejoin="round" stroke-linecap="round"/>
<path d="M425.5 487.0 C427.8 488.4 436.6 492.0 439.2 495.7 C441.8 499.4 438.3 506.8 440.9 509.4 C443.5 511.9 452.6 510.7 455.0 511.0" fill="none" stroke="#3a2e8c" stroke-width="4" stroke-linejoin="round" stroke-linecap="round"/>
<path d="M27.0 430.0 L44.0 433.4" fill="none" stroke="#3a2e8c" stroke-width="4" stroke-linejoin="round" stroke-linecap="round"/>
<path d="M146.3 390.7 L140.6 396.0 L142.4 403.1 L133.3 400.8 L129.9 407.3 L126.3 398.9 L119.0 398.3 L122.5 391.2 L118.1 383.3 L126.3 382.8 L129.1 376.6 L134.6 382.0 L141.5 380.5 L141.3 387.5Z" fill="#e2782a" stroke="#c8601c" stroke-width="0.6"/><path d="M118.8 392.6 L145.6 390.2 M122.0 385.0 L143.3 400.0 M124.8 381.7 L137.5 399.1 M130.8 381.8 L133.1 403.0 M140.5 381.3 L126.5 401.4 M140.7 385.4 L121.9 395.7 " stroke="#ffd84a" stroke-width="1.1" fill="none"/>
<path d="M142.3 429.9 L136.2 434.8 L138.9 441.5 L131.1 438.8 L125.7 444.1 L125.5 436.5 L118.6 436.7 L123.1 431.7 L120.1 425.0 L126.0 425.0 L127.7 417.3 L132.6 423.0 L136.6 422.1 L136.2 427.8Z" fill="#e2782a" stroke="#c8601c" stroke-width="0.6"/><path d="M118.0 431.8 L139.5 430.9 M121.6 425.2 L138.8 438.5 M121.2 421.9 L135.6 440.3 M131.7 423.3 L130.0 441.5 M137.0 418.7 L126.6 440.4 M139.5 427.0 L118.3 437.3 " stroke="#ffd84a" stroke-width="1.1" fill="none"/>
<path d="M74.6 475.1 L67.6 477.0 L70.5 486.1 L61.2 482.6 L56.9 488.1 L53.9 480.5 L47.1 480.8 L50.9 474.9 L45.3 468.2 L53.6 466.2 L56.7 460.6 L63.2 464.6 L68.9 460.2 L69.4 470.3Z" fill="#e2782a" stroke="#c8601c" stroke-width="0.6"/><path d="M47.6 473.1 L74.1 473.6 M49.7 467.6 L74.0 477.3 M54.0 463.8 L65.1 485.8 M60.1 460.4 L59.3 487.3 M67.7 462.6 L55.6 481.8 M68.6 471.5 L48.6 480.5 " stroke="#ffd84a" stroke-width="1.1" fill="none"/>
<path d="M207.5 389.6 L203.0 393.6 L205.6 399.6 L199.4 397.3 L194.9 400.6 L193.0 395.4 L185.4 395.2 L190.3 390.1 L186.3 385.5 L191.8 384.4 L193.6 378.9 L198.7 383.0 L204.6 379.5 L204.2 386.6Z" fill="#e2782a" stroke="#c8601c" stroke-width="0.6"/><path d="M187.9 390.1 L209.8 388.0 M189.7 384.4 L207.8 396.4 M191.5 378.9 L202.0 397.6 M194.7 382.1 L196.3 399.0 M200.7 380.9 L189.6 396.4 M204.0 383.2 L186.6 395.7 " stroke="#ffd84a" stroke-width="1.1" fill="none"/>
<path d="M215.3 346.3 L207.8 348.2 L210.2 357.6 L201.6 353.8 L195.9 357.6 L193.4 352.4 L184.8 350.6 L191.4 345.6 L185.8 336.6 L194.6 336.7 L196.1 329.7 L201.7 336.8 L209.6 333.3 L208.6 341.7Z" fill="#e2782a" stroke="#c8601c" stroke-width="0.6"/><path d="M189.1 345.8 L213.4 346.0 M189.3 337.9 L208.7 351.4 M192.4 333.5 L205.7 353.0 M198.7 335.0 L201.5 357.9 M207.6 331.8 L191.4 354.2 M209.0 340.2 L190.2 351.2 " stroke="#ffd84a" stroke-width="1.1" fill="none"/>
<path d="M251.1 373.2 L245.7 377.2 L245.0 383.1 L239.2 381.8 L235.2 386.3 L232.5 380.5 L225.3 379.0 L230.6 373.4 L226.5 369.4 L232.8 367.8 L235.8 362.6 L239.7 366.8 L245.6 363.9 L244.8 370.9Z" fill="#e2782a" stroke="#c8601c" stroke-width="0.6"/><path d="M226.8 375.1 L246.7 372.2 M226.6 367.8 L247.9 379.8 M232.4 365.5 L243.3 380.4 M237.9 363.9 L237.6 385.0 M245.0 364.2 L231.9 382.7 M246.4 367.3 L225.9 379.1 " stroke="#ffd84a" stroke-width="1.1" fill="none"/>
<path d="M214.6 471.5 L208.0 476.8 L209.7 484.3 L202.7 480.1 L197.5 486.8 L194.0 479.9 L187.0 477.2 L191.6 472.1 L186.6 467.1 L194.6 465.2 L195.9 459.3 L201.4 464.0 L208.5 461.8 L208.8 467.0Z" fill="#e2782a" stroke="#c8601c" stroke-width="0.6"/><path d="M188.0 469.1 L212.7 472.8 M188.4 465.5 L208.7 480.2 M192.4 462.5 L205.1 480.2 M200.8 461.0 L202.0 483.9 M206.7 462.2 L195.0 481.0 M210.7 466.4 L189.8 480.5 " stroke="#ffd84a" stroke-width="1.1" fill="none"/>
<path d="M323.0 332.0 L317.1 334.6 L318.7 339.6 L312.0 337.9 L307.8 341.8 L306.3 338.0 L299.5 336.7 L303.4 330.5 L298.1 324.8 L305.9 325.4 L307.1 317.7 L313.2 323.1 L319.1 322.5 L317.7 327.7Z" fill="#e2782a" stroke="#c8601c" stroke-width="0.6"/><path d="M301.6 330.0 L320.8 330.7 M303.0 325.1 L320.2 333.8 M304.8 322.4 L314.6 338.6 M312.5 322.8 L310.8 342.2 M315.0 323.6 L307.0 340.6 M322.3 325.5 L302.1 336.5 " stroke="#ffd84a" stroke-width="1.1" fill="none"/>
<path d="M359.0 347.7 L353.5 352.2 L353.3 358.5 L346.6 355.4 L341.6 361.4 L340.2 355.4 L334.5 352.6 L336.8 347.3 L334.9 342.5 L339.9 340.1 L343.8 334.9 L347.6 340.2 L353.6 337.8 L352.6 344.4Z" fill="#e2782a" stroke="#c8601c" stroke-width="0.6"/><path d="M333.5 349.3 L355.8 349.1 M337.3 341.0 L356.2 355.4 M340.1 337.3 L349.3 356.6 M347.3 337.3 L347.2 360.5 M351.5 338.8 L341.3 358.5 M352.6 341.6 L334.7 355.4 " stroke="#ffd84a" stroke-width="1.1" fill="none"/>
<path d="M319.1 370.9 L315.2 374.7 L314.2 379.9 L309.5 378.4 L307.1 382.2 L304.1 376.8 L299.0 375.4 L302.6 371.9 L297.7 366.8 L304.9 366.7 L306.4 361.5 L310.6 364.5 L316.4 363.2 L315.1 368.4Z" fill="#e2782a" stroke="#c8601c" stroke-width="0.6"/><path d="M300.0 371.5 L316.1 370.8 M300.3 367.7 L315.2 377.4 M303.8 362.4 L312.1 378.7 M306.8 362.1 L309.1 380.2 M312.0 361.5 L303.0 378.9 M314.8 367.0 L302.3 376.6 " stroke="#ffd84a" stroke-width="1.1" fill="none"/>
<path d="M357.0 386.8 L352.0 391.3 L352.7 395.9 L347.1 394.0 L341.5 400.7 L339.1 393.0 L334.3 393.1 L336.0 386.3 L334.1 382.5 L340.3 381.1 L341.6 374.9 L346.8 380.4 L353.8 377.4 L351.5 384.2Z" fill="#e2782a" stroke="#c8601c" stroke-width="0.6"/><path d="M334.9 386.0 L355.9 385.4 M333.9 380.0 L352.8 393.8 M341.9 377.1 L351.1 396.6 M345.6 374.5 L343.9 396.1 M351.5 379.7 L340.2 395.7 M355.0 378.1 L335.9 392.3 " stroke="#ffd84a" stroke-width="1.1" fill="none"/>
<path d="M322.2 409.7 L318.2 414.2 L318.8 419.3 L311.4 417.3 L306.9 421.6 L305.4 416.5 L297.0 416.8 L301.0 409.4 L299.3 403.8 L304.9 403.2 L307.4 397.9 L312.3 400.6 L318.1 398.2 L317.3 406.5Z" fill="#e2782a" stroke="#c8601c" stroke-width="0.6"/><path d="M301.4 410.0 L321.5 407.7 M300.0 404.0 L321.0 418.1 M303.0 399.9 L313.6 416.7 M307.0 396.3 L310.0 422.7 M314.0 401.4 L305.8 421.4 M320.1 403.0 L299.7 412.9 " stroke="#ffd84a" stroke-width="1.1" fill="none"/>
<path d="M146.4 515.0 L138.8 519.3 L139.6 525.2 L133.5 525.0 L127.3 529.8 L126.0 522.3 L118.6 523.8 L123.0 515.9 L118.8 511.4 L126.3 509.8 L127.9 502.7 L133.7 508.3 L138.5 506.7 L138.3 513.2Z" fill="#e2782a" stroke="#c8601c" stroke-width="0.6"/><path d="M120.3 518.0 L140.2 516.9 M118.2 511.0 L141.7 522.3 M125.7 507.1 L140.9 526.2 M131.6 504.9 L131.0 528.1 M135.8 506.7 L123.0 528.3 M143.7 513.4 L122.8 523.3 " stroke="#ffd84a" stroke-width="1.1" fill="none"/>
<path d="M176.7 531.4 L172.8 535.0 L175.1 540.9 L167.3 538.9 L163.1 544.2 L161.7 538.0 L154.8 537.4 L158.4 531.4 L153.9 527.2 L160.8 525.9 L164.3 521.4 L167.8 523.9 L174.3 523.4 L173.8 528.8Z" fill="#e2782a" stroke="#c8601c" stroke-width="0.6"/><path d="M158.0 533.2 L175.5 531.8 M155.1 529.7 L174.3 537.9 M158.3 523.1 L170.1 542.0 M166.9 525.1 L167.5 542.2 M170.9 522.4 L158.8 541.5 M174.9 525.3 L155.3 534.7 " stroke="#ffd84a" stroke-width="1.1" fill="none"/>
<path d="M107.8 616.6 L103.4 620.9 L103.6 627.1 L96.4 624.9 L90.7 631.6 L90.5 623.2 L81.8 623.4 L86.8 616.3 L81.7 611.2 L89.3 609.5 L90.7 602.1 L97.2 609.4 L102.1 606.7 L101.9 613.3Z" fill="#e2782a" stroke="#c8601c" stroke-width="0.6"/><path d="M83.6 618.0 L108.1 617.3 M83.9 610.9 L105.9 619.9 M89.9 607.5 L100.4 627.6 M93.6 606.5 L96.7 628.9 M99.6 606.8 L88.3 627.2 M104.2 614.2 L86.0 623.3 " stroke="#ffd84a" stroke-width="1.1" fill="none"/>
<path d="M321.2 569.2 L316.2 573.7 L316.9 578.3 L311.3 576.4 L305.7 583.1 L303.3 575.4 L298.5 575.5 L300.2 568.7 L298.3 564.9 L304.5 563.5 L305.8 557.3 L311.0 562.8 L318.0 559.8 L315.7 566.6Z" fill="#e2782a" stroke="#c8601c" stroke-width="0.6"/><path d="M299.1 568.4 L320.1 567.8 M298.1 562.4 L317.0 576.2 M306.1 559.5 L315.3 579.0 M309.8 556.9 L308.1 578.5 M315.7 562.1 L304.4 578.1 M319.2 560.5 L300.1 574.7 " stroke="#ffd84a" stroke-width="1.1" fill="none"/>
<path d="M423.6 322.8 L419.4 324.5 L419.2 327.7 L415.8 326.5 L413.1 328.6 L412.4 325.8 L407.1 325.8 L409.6 321.6 L407.5 318.6 L412.3 318.2 L413.8 314.1 L416.1 317.1 L419.1 315.6 L418.9 320.0Z" fill="#e2782a" stroke="#c8601c" stroke-width="0.6"/><path d="M410.9 321.6 L423.0 321.4 M408.0 319.7 L418.0 325.0 M413.4 313.8 L418.7 326.4 M412.6 313.6 L413.5 327.8 M418.9 315.8 L413.3 326.0 M419.1 316.8 L407.5 323.6 " stroke="#ffd84a" stroke-width="1.1" fill="none"/>
<path d="M311.0 571.0 C316.4 572.7 327.6 572.8 343.2 581.4 C358.8 590.0 392.1 613.6 404.9 622.5 C417.7 631.4 417.5 632.9 420.0 635.0" fill="none" stroke="#8a3a1c" stroke-width="2.6"/><path d="M311.0 571.0 C316.4 572.7 327.6 572.8 343.2 581.4 C358.8 590.0 392.1 613.6 404.9 622.5 C417.7 631.4 417.5 632.9 420.0 635.0" fill="none" stroke="#c8783a" stroke-width="0.8"/>
<path d="M310.7 613.9 L310.7 652.0" fill="none" stroke="#8a3a1c" stroke-width="2.6"/><path d="M310.7 613.9 L310.7 652.0" fill="none" stroke="#c8783a" stroke-width="0.8"/>
<path d="M27.5 332.7 C29.6 333.2 34.6 333.5 40.0 336.0 C45.4 338.5 47.6 340.4 59.8 347.7 C72.0 355.0 101.2 372.7 113.3 379.9 C125.4 387.1 122.5 386.4 132.2 391.0 C141.9 395.6 164.9 404.8 171.5 407.5" fill="none" stroke="#d88a10" stroke-width="3.2" stroke-linejoin="round"/>
<path d="M59.8 347.7 C62.8 346.1 71.7 340.2 78.0 338.0 C84.3 335.8 90.8 334.0 97.5 334.3 C104.2 334.6 113.3 337.4 118.0 340.0 C122.7 342.6 123.7 345.0 125.9 350.0 C128.1 355.0 129.7 363.2 131.0 370.0 C132.3 376.8 133.0 383.6 133.7 391.0 C134.4 398.4 137.4 407.5 135.3 414.6 C133.2 421.7 123.1 425.8 121.1 433.4 C119.0 441.0 122.5 451.6 123.0 460.0 C123.5 468.4 124.1 473.4 124.3 483.8 C124.5 494.2 124.0 515.7 124.0 522.1" fill="none" stroke="#d88a10" stroke-width="3.2" stroke-linejoin="round"/>
<path d="M27.5 452.3 L132.2 392.5" fill="none" stroke="#d88a10" stroke-width="3.2" stroke-linejoin="round"/>
<path d="M122.7 433.4 C136.1 440.0 186.4 464.7 203.0 472.8 C219.6 480.9 218.8 480.5 222.0 482.0" fill="none" stroke="#d88a10" stroke-width="3.2" stroke-linejoin="round"/>
<path d="M27.5 458.6 C29.6 460.0 34.6 464.4 40.0 467.0 C45.4 469.6 50.6 472.8 59.8 474.3 C69.0 475.8 84.2 476.2 95.0 476.0 C105.8 475.8 119.4 473.3 124.3 472.8" fill="none" stroke="#d88a10" stroke-width="3.2" stroke-linejoin="round"/>
<path d="M86.5 322.5 L89.7 335.9" fill="none" stroke="#d88a10" stroke-width="3.2" stroke-linejoin="round"/>
<path d="M132.2 322.5 C140.1 325.0 161.9 332.4 179.4 337.5 C196.9 342.6 210.6 343.8 237.0 353.0 C263.4 362.2 320.9 385.9 337.7 392.5" fill="none" stroke="#d88a10" stroke-width="3.2" stroke-linejoin="round"/>
<path d="M212.4 322.5 C212.3 327.1 212.3 340.4 212.0 350.0 C211.7 359.6 212.3 372.9 210.8 379.9 C209.3 386.9 205.9 388.9 203.0 392.0 C200.1 395.1 195.1 397.7 193.5 398.8" fill="none" stroke="#d88a10" stroke-width="3.2" stroke-linejoin="round"/>
<path d="M237.0 369.0 L311.0 406.7" fill="none" stroke="#d88a10" stroke-width="3.2" stroke-linejoin="round"/>
<path d="M246.0 444.0 C238.3 448.8 210.8 465.1 199.8 472.8 C188.8 480.5 191.8 482.9 180.0 490.0 C168.2 497.1 137.4 511.3 128.9 515.6" fill="none" stroke="#d88a10" stroke-width="3.2" stroke-linejoin="round"/>
<path d="M27.0 583.0 C39.2 576.7 82.0 554.7 100.0 545.0 C118.0 535.3 129.2 528.3 135.0 525.0" fill="none" stroke="#d88a10" stroke-width="3.2" stroke-linejoin="round"/>
<path d="M237.0 447.6 C249.3 440.8 293.9 415.6 311.0 406.7 C328.1 397.8 329.6 394.4 339.3 394.1 C349.0 393.8 364.2 403.3 369.2 405.1" fill="none" stroke="#d88a10" stroke-width="3.2" stroke-linejoin="round"/>
<path d="M358.2 346.9 C357.5 347.4 355.0 344.5 354.0 350.0 C353.0 355.5 352.6 370.8 352.0 380.0 C351.4 389.2 350.3 398.4 350.3 405.1 C350.3 411.8 350.9 416.3 352.0 420.0 C353.1 423.7 353.6 424.4 356.6 427.1 C359.6 429.8 366.9 433.6 370.0 436.0 C373.1 438.4 374.1 439.3 375.5 441.3 C376.9 443.3 378.2 446.2 378.5 448.0 C378.8 449.8 379.4 450.0 377.0 452.3 C374.6 454.6 368.4 459.1 364.0 462.0 C359.6 464.9 356.0 467.6 350.3 469.6 C344.6 471.6 336.3 471.6 330.0 474.0 C323.7 476.4 316.5 478.6 312.4 483.7 C308.3 488.8 307.2 496.3 305.5 504.3 C303.8 512.3 302.7 527.1 302.1 531.7" fill="none" stroke="#d88a10" stroke-width="3.2" stroke-linejoin="round"/>
<path d="M358.2 346.9 C359.2 347.8 361.1 348.6 364.0 352.0 C366.9 355.4 371.5 365.1 375.5 367.4 C379.5 369.7 382.2 368.9 388.0 366.0 C393.8 363.1 405.4 354.3 410.1 350.0 C414.8 345.7 414.4 344.7 416.0 340.0 C417.6 335.3 418.9 325.0 419.5 322.0" fill="none" stroke="#d88a10" stroke-width="3.2" stroke-linejoin="round"/>
<path d="M410.1 350.0 C413.4 351.0 424.0 352.8 430.0 356.0 C436.0 359.2 443.0 358.3 446.3 369.0 C449.6 379.7 448.9 400.3 450.0 420.0 C451.1 439.7 452.4 470.7 452.6 487.0 C452.8 503.3 452.9 511.4 451.2 518.0 C449.5 524.6 444.0 525.1 442.6 526.5" fill="none" stroke="#d88a10" stroke-width="3.2" stroke-linejoin="round"/>
<path d="M412.0 351.0 C412.6 353.5 415.0 360.6 415.5 366.0 C416.0 371.4 416.4 378.8 414.8 383.1 C413.2 387.4 409.4 389.4 406.0 392.0 C402.6 394.6 400.5 396.6 394.4 398.8 C388.3 401.0 376.6 404.7 369.2 405.1 C361.8 405.5 353.2 401.7 350.0 401.0" fill="none" stroke="#d88a10" stroke-width="3.2" stroke-linejoin="round"/>
<path d="M311.0 406.7 C311.3 409.8 312.5 418.4 313.0 425.0 C313.5 431.6 312.6 440.3 314.1 446.0 C315.6 451.7 318.1 455.3 322.0 459.0 C325.9 462.7 333.0 466.3 337.7 468.1 C342.4 469.9 348.2 469.4 350.3 469.6" fill="none" stroke="#d88a10" stroke-width="3.2" stroke-linejoin="round"/>
<path d="M369.2 405.1 C375.5 409.3 396.9 426.7 407.0 430.3 C417.1 433.9 421.7 429.1 430.0 427.0 C438.3 424.9 452.5 419.2 457.0 417.7" fill="none" stroke="#d88a10" stroke-width="3.2" stroke-linejoin="round"/>
<path d="M377.0 452.3 L457.0 460.2" fill="none" stroke="#d88a10" stroke-width="3.2" stroke-linejoin="round"/>
<path d="M60.9 480.0 C61.2 482.5 62.7 490.9 63.0 495.0 C63.3 499.1 64.8 499.5 62.5 504.3 C60.2 509.1 55.3 519.1 49.5 523.7 C43.7 528.3 31.3 530.4 27.7 531.8" fill="none" stroke="#d88a10" stroke-width="3.2" stroke-linejoin="round"/>
<path d="M27.7 577.2 C32.1 578.6 43.5 584.5 54.4 585.3 C65.3 586.1 86.8 582.5 93.3 582.0" fill="none" stroke="#d88a10" stroke-width="3.2" stroke-linejoin="round"/>
<path d="M125.7 522.1 C122.2 523.1 110.1 524.8 105.0 528.0 C99.9 531.2 96.9 532.9 94.9 541.6 C92.9 550.3 93.5 567.0 93.0 580.0 C92.5 593.0 97.3 607.9 91.7 619.3 C86.1 630.7 64.7 643.6 59.3 648.5" fill="none" stroke="#d88a10" stroke-width="3.2" stroke-linejoin="round"/>
<path d="M128.9 520.5 L167.8 541.6" fill="none" stroke="#d88a10" stroke-width="3.2" stroke-linejoin="round"/>
<path d="M167.8 528.6 C168.2 533.0 168.7 548.0 170.0 555.0 C171.3 562.0 170.1 563.7 175.9 570.7 C181.7 577.7 195.6 589.2 205.0 597.0 C214.4 604.8 226.9 608.9 232.6 617.7 C238.3 626.5 238.0 644.6 239.1 650.0" fill="none" stroke="#d88a10" stroke-width="3.2" stroke-linejoin="round"/>
<path d="M167.8 541.6 C164.0 542.0 150.4 542.1 145.0 544.0 C139.6 545.9 137.2 546.9 135.4 552.9 C133.6 558.9 134.3 570.5 134.0 580.0 C133.7 589.5 133.6 599.0 133.8 609.6 C134.0 620.2 135.1 637.9 135.4 643.6" fill="none" stroke="#d88a10" stroke-width="3.2" stroke-linejoin="round"/>
<path d="M94.9 622.6 C101.7 626.1 126.7 641.9 135.4 643.6 C144.1 645.3 142.9 636.0 147.0 633.0 C151.1 630.0 153.5 626.2 159.7 625.8 C165.9 625.4 174.8 626.7 184.0 630.7 C193.2 634.7 209.7 646.8 214.8 650.0" fill="none" stroke="#d88a10" stroke-width="3.2" stroke-linejoin="round"/>
<path d="M283.3 495.7 C288.4 496.0 301.8 493.4 314.1 497.4 C326.4 501.4 345.3 515.4 357.0 519.7 C368.7 524.0 375.8 523.4 384.4 523.1 C392.9 522.8 398.6 517.4 408.3 518.0 C418.0 518.6 434.8 524.2 442.6 526.5 C450.4 528.8 452.9 531.1 455.0 532.0" fill="none" stroke="#d88a10" stroke-width="3.2" stroke-linejoin="round"/>
<path d="M384.4 470.0 C384.8 472.5 385.9 480.7 387.0 485.0 C388.1 489.3 387.1 490.5 391.2 495.7 C395.3 500.9 408.4 512.9 411.8 516.3" fill="none" stroke="#d88a10" stroke-width="3.2" stroke-linejoin="round"/>
<path d="M237.0 566.0 C237.8 568.0 239.2 574.0 242.0 578.0 C244.8 582.0 249.2 586.9 254.1 590.0 C259.0 593.1 264.7 597.7 271.3 596.8 C277.9 595.9 287.2 589.1 293.5 584.8 C299.8 580.5 306.4 573.4 309.0 571.1" fill="none" stroke="#d88a10" stroke-width="3.2" stroke-linejoin="round"/>
<path d="M309.0 571.1 C309.3 578.2 312.5 605.6 310.7 613.9 C308.9 622.2 301.7 618.7 298.0 621.0 C294.3 623.3 292.0 622.8 288.4 627.6 C284.8 632.4 278.4 646.3 276.4 650.0" fill="none" stroke="#d88a10" stroke-width="3.2" stroke-linejoin="round"/>
<path d="M237.0 619.0 L240.5 650.0" fill="none" stroke="#d88a10" stroke-width="3.2" stroke-linejoin="round"/>
<path d="M346.7 470.0 L312.4 483.7" fill="none" stroke="#d88a10" stroke-width="3.2" stroke-linejoin="round"/>
<path d="M193.0 480.0 L128.9 515.6" fill="none" stroke="#d88a10" stroke-width="3.2" stroke-linejoin="round"/>
<path d="M27.5 332.7 C29.6 333.2 34.6 333.5 40.0 336.0 C45.4 338.5 47.6 340.4 59.8 347.7 C72.0 355.0 101.2 372.7 113.3 379.9 C125.4 387.1 122.5 386.4 132.2 391.0 C141.9 395.6 164.9 404.8 171.5 407.5" fill="none" stroke="#ffdf52" stroke-width="1.9" stroke-linejoin="round"/>
<path d="M59.8 347.7 C62.8 346.1 71.7 340.2 78.0 338.0 C84.3 335.8 90.8 334.0 97.5 334.3 C104.2 334.6 113.3 337.4 118.0 340.0 C122.7 342.6 123.7 345.0 125.9 350.0 C128.1 355.0 129.7 363.2 131.0 370.0 C132.3 376.8 133.0 383.6 133.7 391.0 C134.4 398.4 137.4 407.5 135.3 414.6 C133.2 421.7 123.1 425.8 121.1 433.4 C119.0 441.0 122.5 451.6 123.0 460.0 C123.5 468.4 124.1 473.4 124.3 483.8 C124.5 494.2 124.0 515.7 124.0 522.1" fill="none" stroke="#ffdf52" stroke-width="1.9" stroke-linejoin="round"/>
<path d="M27.5 452.3 L132.2 392.5" fill="none" stroke="#ffdf52" stroke-width="1.9" stroke-linejoin="round"/>
<path d="M122.7 433.4 C136.1 440.0 186.4 464.7 203.0 472.8 C219.6 480.9 218.8 480.5 222.0 482.0" fill="none" stroke="#ffdf52" stroke-width="1.9" stroke-linejoin="round"/>
<path d="M27.5 458.6 C29.6 460.0 34.6 464.4 40.0 467.0 C45.4 469.6 50.6 472.8 59.8 474.3 C69.0 475.8 84.2 476.2 95.0 476.0 C105.8 475.8 119.4 473.3 124.3 472.8" fill="none" stroke="#ffdf52" stroke-width="1.9" stroke-linejoin="round"/>
<path d="M86.5 322.5 L89.7 335.9" fill="none" stroke="#ffdf52" stroke-width="1.9" stroke-linejoin="round"/>
<path d="M132.2 322.5 C140.1 325.0 161.9 332.4 179.4 337.5 C196.9 342.6 210.6 343.8 237.0 353.0 C263.4 362.2 320.9 385.9 337.7 392.5" fill="none" stroke="#ffdf52" stroke-width="1.9" stroke-linejoin="round"/>
<path d="M212.4 322.5 C212.3 327.1 212.3 340.4 212.0 350.0 C211.7 359.6 212.3 372.9 210.8 379.9 C209.3 386.9 205.9 388.9 203.0 392.0 C200.1 395.1 195.1 397.7 193.5 398.8" fill="none" stroke="#ffdf52" stroke-width="1.9" stroke-linejoin="round"/>
<path d="M237.0 369.0 L311.0 406.7" fill="none" stroke="#ffdf52" stroke-width="1.9" stroke-linejoin="round"/>
<path d="M246.0 444.0 C238.3 448.8 210.8 465.1 199.8 472.8 C188.8 480.5 191.8 482.9 180.0 490.0 C168.2 497.1 137.4 511.3 128.9 515.6" fill="none" stroke="#ffdf52" stroke-width="1.9" stroke-linejoin="round"/>
<path d="M27.0 583.0 C39.2 576.7 82.0 554.7 100.0 545.0 C118.0 535.3 129.2 528.3 135.0 525.0" fill="none" stroke="#ffdf52" stroke-width="1.9" stroke-linejoin="round"/>
<path d="M237.0 447.6 C249.3 440.8 293.9 415.6 311.0 406.7 C328.1 397.8 329.6 394.4 339.3 394.1 C349.0 393.8 364.2 403.3 369.2 405.1" fill="none" stroke="#ffdf52" stroke-width="1.9" stroke-linejoin="round"/>
<path d="M358.2 346.9 C357.5 347.4 355.0 344.5 354.0 350.0 C353.0 355.5 352.6 370.8 352.0 380.0 C351.4 389.2 350.3 398.4 350.3 405.1 C350.3 411.8 350.9 416.3 352.0 420.0 C353.1 423.7 353.6 424.4 356.6 427.1 C359.6 429.8 366.9 433.6 370.0 436.0 C373.1 438.4 374.1 439.3 375.5 441.3 C376.9 443.3 378.2 446.2 378.5 448.0 C378.8 449.8 379.4 450.0 377.0 452.3 C374.6 454.6 368.4 459.1 364.0 462.0 C359.6 464.9 356.0 467.6 350.3 469.6 C344.6 471.6 336.3 471.6 330.0 474.0 C323.7 476.4 316.5 478.6 312.4 483.7 C308.3 488.8 307.2 496.3 305.5 504.3 C303.8 512.3 302.7 527.1 302.1 531.7" fill="none" stroke="#ffdf52" stroke-width="1.9" stroke-linejoin="round"/>
<path d="M358.2 346.9 C359.2 347.8 361.1 348.6 364.0 352.0 C366.9 355.4 371.5 365.1 375.5 367.4 C379.5 369.7 382.2 368.9 388.0 366.0 C393.8 363.1 405.4 354.3 410.1 350.0 C414.8 345.7 414.4 344.7 416.0 340.0 C417.6 335.3 418.9 325.0 419.5 322.0" fill="none" stroke="#ffdf52" stroke-width="1.9" stroke-linejoin="round"/>
<path d="M410.1 350.0 C413.4 351.0 424.0 352.8 430.0 356.0 C436.0 359.2 443.0 358.3 446.3 369.0 C449.6 379.7 448.9 400.3 450.0 420.0 C451.1 439.7 452.4 470.7 452.6 487.0 C452.8 503.3 452.9 511.4 451.2 518.0 C449.5 524.6 444.0 525.1 442.6 526.5" fill="none" stroke="#ffdf52" stroke-width="1.9" stroke-linejoin="round"/>
<path d="M412.0 351.0 C412.6 353.5 415.0 360.6 415.5 366.0 C416.0 371.4 416.4 378.8 414.8 383.1 C413.2 387.4 409.4 389.4 406.0 392.0 C402.6 394.6 400.5 396.6 394.4 398.8 C388.3 401.0 376.6 404.7 369.2 405.1 C361.8 405.5 353.2 401.7 350.0 401.0" fill="none" stroke="#ffdf52" stroke-width="1.9" stroke-linejoin="round"/>
<path d="M311.0 406.7 C311.3 409.8 312.5 418.4 313.0 425.0 C313.5 431.6 312.6 440.3 314.1 446.0 C315.6 451.7 318.1 455.3 322.0 459.0 C325.9 462.7 333.0 466.3 337.7 468.1 C342.4 469.9 348.2 469.4 350.3 469.6" fill="none" stroke="#ffdf52" stroke-width="1.9" stroke-linejoin="round"/>
<path d="M369.2 405.1 C375.5 409.3 396.9 426.7 407.0 430.3 C417.1 433.9 421.7 429.1 430.0 427.0 C438.3 424.9 452.5 419.2 457.0 417.7" fill="none" stroke="#ffdf52" stroke-width="1.9" stroke-linejoin="round"/>
<path d="M377.0 452.3 L457.0 460.2" fill="none" stroke="#ffdf52" stroke-width="1.9" stroke-linejoin="round"/>
<path d="M60.9 480.0 C61.2 482.5 62.7 490.9 63.0 495.0 C63.3 499.1 64.8 499.5 62.5 504.3 C60.2 509.1 55.3 519.1 49.5 523.7 C43.7 528.3 31.3 530.4 27.7 531.8" fill="none" stroke="#ffdf52" stroke-width="1.9" stroke-linejoin="round"/>
<path d="M27.7 577.2 C32.1 578.6 43.5 584.5 54.4 585.3 C65.3 586.1 86.8 582.5 93.3 582.0" fill="none" stroke="#ffdf52" stroke-width="1.9" stroke-linejoin="round"/>
<path d="M125.7 522.1 C122.2 523.1 110.1 524.8 105.0 528.0 C99.9 531.2 96.9 532.9 94.9 541.6 C92.9 550.3 93.5 567.0 93.0 580.0 C92.5 593.0 97.3 607.9 91.7 619.3 C86.1 630.7 64.7 643.6 59.3 648.5" fill="none" stroke="#ffdf52" stroke-width="1.9" stroke-linejoin="round"/>
<path d="M128.9 520.5 L167.8 541.6" fill="none" stroke="#ffdf52" stroke-width="1.9" stroke-linejoin="round"/>
<path d="M167.8 528.6 C168.2 533.0 168.7 548.0 170.0 555.0 C171.3 562.0 170.1 563.7 175.9 570.7 C181.7 577.7 195.6 589.2 205.0 597.0 C214.4 604.8 226.9 608.9 232.6 617.7 C238.3 626.5 238.0 644.6 239.1 650.0" fill="none" stroke="#ffdf52" stroke-width="1.9" stroke-linejoin="round"/>
<path d="M167.8 541.6 C164.0 542.0 150.4 542.1 145.0 544.0 C139.6 545.9 137.2 546.9 135.4 552.9 C133.6 558.9 134.3 570.5 134.0 580.0 C133.7 589.5 133.6 599.0 133.8 609.6 C134.0 620.2 135.1 637.9 135.4 643.6" fill="none" stroke="#ffdf52" stroke-width="1.9" stroke-linejoin="round"/>
<path d="M94.9 622.6 C101.7 626.1 126.7 641.9 135.4 643.6 C144.1 645.3 142.9 636.0 147.0 633.0 C151.1 630.0 153.5 626.2 159.7 625.8 C165.9 625.4 174.8 626.7 184.0 630.7 C193.2 634.7 209.7 646.8 214.8 650.0" fill="none" stroke="#ffdf52" stroke-width="1.9" stroke-linejoin="round"/>
<path d="M283.3 495.7 C288.4 496.0 301.8 493.4 314.1 497.4 C326.4 501.4 345.3 515.4 357.0 519.7 C368.7 524.0 375.8 523.4 384.4 523.1 C392.9 522.8 398.6 517.4 408.3 518.0 C418.0 518.6 434.8 524.2 442.6 526.5 C450.4 528.8 452.9 531.1 455.0 532.0" fill="none" stroke="#ffdf52" stroke-width="1.9" stroke-linejoin="round"/>
<path d="M384.4 470.0 C384.8 472.5 385.9 480.7 387.0 485.0 C388.1 489.3 387.1 490.5 391.2 495.7 C395.3 500.9 408.4 512.9 411.8 516.3" fill="none" stroke="#ffdf52" stroke-width="1.9" stroke-linejoin="round"/>
<path d="M237.0 566.0 C237.8 568.0 239.2 574.0 242.0 578.0 C244.8 582.0 249.2 586.9 254.1 590.0 C259.0 593.1 264.7 597.7 271.3 596.8 C277.9 595.9 287.2 589.1 293.5 584.8 C299.8 580.5 306.4 573.4 309.0 571.1" fill="none" stroke="#ffdf52" stroke-width="1.9" stroke-linejoin="round"/>
<path d="M309.0 571.1 C309.3 578.2 312.5 605.6 310.7 613.9 C308.9 622.2 301.7 618.7 298.0 621.0 C294.3 623.3 292.0 622.8 288.4 627.6 C284.8 632.4 278.4 646.3 276.4 650.0" fill="none" stroke="#ffdf52" stroke-width="1.9" stroke-linejoin="round"/>
<path d="M237.0 619.0 L240.5 650.0" fill="none" stroke="#ffdf52" stroke-width="1.9" stroke-linejoin="round"/>
<path d="M346.7 470.0 L312.4 483.7" fill="none" stroke="#ffdf52" stroke-width="1.9" stroke-linejoin="round"/>
<path d="M193.0 480.0 L128.9 515.6" fill="none" stroke="#ffdf52" stroke-width="1.9" stroke-linejoin="round"/>
<path d="M27.5 359.2 L102.3 359.2" fill="none" stroke="#16161a" stroke-width="3.6" stroke-linejoin="round"/>
<path d="M27.5 359.2 L102.3 359.2" fill="none" stroke="#f4f4f4" stroke-width="1.6" stroke-dasharray="4.2 3.2"/>
<path d="M96.0 322.5 C96.7 326.2 97.7 337.3 100.0 345.0 C102.3 352.7 105.8 358.9 110.1 368.9 C114.4 378.9 122.5 392.8 125.9 405.1 C129.3 417.4 129.8 429.8 130.6 442.9 C131.4 456.0 130.6 472.2 130.6 483.8 C130.6 495.4 130.5 507.6 130.5 512.4" fill="none" stroke="#16161a" stroke-width="3.6" stroke-linejoin="round"/>
<path d="M96.0 322.5 C96.7 326.2 97.7 337.3 100.0 345.0 C102.3 352.7 105.8 358.9 110.1 368.9 C114.4 378.9 122.5 392.8 125.9 405.1 C129.3 417.4 129.8 429.8 130.6 442.9 C131.4 456.0 130.6 472.2 130.6 483.8 C130.6 495.4 130.5 507.6 130.5 512.4" fill="none" stroke="#f4f4f4" stroke-width="1.6" stroke-dasharray="4.2 3.2"/>
<path d="M179.4 339.0 C182.0 339.5 191.3 340.4 195.0 342.0 C198.7 343.6 199.7 344.7 201.4 348.5 C203.1 352.3 204.5 359.8 205.0 365.0 C205.5 370.2 204.0 375.2 204.5 379.9 C205.0 384.6 205.6 389.3 208.0 393.0 C210.4 396.7 213.0 399.7 218.7 402.0 C224.4 404.3 232.4 407.8 242.0 406.7 C251.6 405.6 264.8 395.4 276.3 395.7 C287.8 396.0 305.2 406.2 311.0 408.3" fill="none" stroke="#16161a" stroke-width="3.6" stroke-linejoin="round"/>
<path d="M179.4 339.0 C182.0 339.5 191.3 340.4 195.0 342.0 C198.7 343.6 199.7 344.7 201.4 348.5 C203.1 352.3 204.5 359.8 205.0 365.0 C205.5 370.2 204.0 375.2 204.5 379.9 C205.0 384.6 205.6 389.3 208.0 393.0 C210.4 396.7 213.0 399.7 218.7 402.0 C224.4 404.3 232.4 407.8 242.0 406.7 C251.6 405.6 264.8 395.4 276.3 395.7 C287.8 396.0 305.2 406.2 311.0 408.3" fill="none" stroke="#f4f4f4" stroke-width="1.6" stroke-dasharray="4.2 3.2"/>
<path d="M236.0 442.3 C233.6 441.5 227.9 438.9 221.5 437.5 C215.1 436.1 204.7 432.9 197.4 434.0 C190.2 435.1 182.3 439.3 178.0 444.0 C173.7 448.7 173.5 455.0 171.5 462.0 C169.5 469.0 169.3 479.5 166.0 486.0 C162.7 492.5 157.8 496.1 151.6 501.0 C145.4 505.9 137.8 510.2 128.9 515.6 C120.0 521.0 103.8 526.5 98.1 533.5 C92.4 540.5 95.2 549.4 94.9 557.8 C94.6 566.2 97.8 575.1 96.5 583.7 C95.2 592.3 92.5 601.0 86.8 609.6 C81.1 618.2 70.1 628.9 62.5 635.5 C54.9 642.1 44.9 647.0 41.4 649.3" fill="none" stroke="#16161a" stroke-width="3.6" stroke-linejoin="round"/>
<path d="M236.0 442.3 C233.6 441.5 227.9 438.9 221.5 437.5 C215.1 436.1 204.7 432.9 197.4 434.0 C190.2 435.1 182.3 439.3 178.0 444.0 C173.7 448.7 173.5 455.0 171.5 462.0 C169.5 469.0 169.3 479.5 166.0 486.0 C162.7 492.5 157.8 496.1 151.6 501.0 C145.4 505.9 137.8 510.2 128.9 515.6 C120.0 521.0 103.8 526.5 98.1 533.5 C92.4 540.5 95.2 549.4 94.9 557.8 C94.6 566.2 97.8 575.1 96.5 583.7 C95.2 592.3 92.5 601.0 86.8 609.6 C81.1 618.2 70.1 628.9 62.5 635.5 C54.9 642.1 44.9 647.0 41.4 649.3" fill="none" stroke="#f4f4f4" stroke-width="1.6" stroke-dasharray="4.2 3.2"/>
<path d="M237.0 325.0 C253.8 334.9 308.9 367.1 337.7 384.7 C366.5 402.2 394.0 420.9 410.0 430.3 C426.0 439.7 425.9 439.7 433.7 441.3 C441.5 442.9 453.1 440.0 457.0 439.7" fill="none" stroke="#16161a" stroke-width="3.6" stroke-linejoin="round"/>
<path d="M237.0 325.0 C253.8 334.9 308.9 367.1 337.7 384.7 C366.5 402.2 394.0 420.9 410.0 430.3 C426.0 439.7 425.9 439.7 433.7 441.3 C441.5 442.9 453.1 440.0 457.0 439.7" fill="none" stroke="#f4f4f4" stroke-width="1.6" stroke-dasharray="4.2 3.2"/>
<path d="M300.0 322.5 C305.8 325.4 327.4 334.9 335.0 340.0 C342.6 345.1 343.6 346.5 345.6 353.2 C347.6 359.9 347.4 370.3 347.1 380.0 C346.8 389.7 346.1 403.0 344.0 411.4 C341.9 419.8 339.9 425.3 334.6 430.3 C329.4 435.3 318.5 439.4 312.5 441.3 C306.5 443.2 304.9 443.6 298.5 441.7 C292.1 439.8 278.4 431.7 274.4 429.7" fill="none" stroke="#16161a" stroke-width="3.6" stroke-linejoin="round"/>
<path d="M300.0 322.5 C305.8 325.4 327.4 334.9 335.0 340.0 C342.6 345.1 343.6 346.5 345.6 353.2 C347.6 359.9 347.4 370.3 347.1 380.0 C346.8 389.7 346.1 403.0 344.0 411.4 C341.9 419.8 339.9 425.3 334.6 430.3 C329.4 435.3 318.5 439.4 312.5 441.3 C306.5 443.2 304.9 443.6 298.5 441.7 C292.1 439.8 278.4 431.7 274.4 429.7" fill="none" stroke="#f4f4f4" stroke-width="1.6" stroke-dasharray="4.2 3.2"/>
<path d="M236.0 442.3 C239.4 441.6 250.0 440.1 256.4 438.0 C262.8 435.9 265.6 434.4 274.4 429.7 C283.2 425.0 298.8 416.8 309.4 409.8 C319.9 402.9 333.0 391.6 337.7 388.0" fill="none" stroke="#16161a" stroke-width="3.6" stroke-linejoin="round"/>
<path d="M236.0 442.3 C239.4 441.6 250.0 440.1 256.4 438.0 C262.8 435.9 265.6 434.4 274.4 429.7 C283.2 425.0 298.8 416.8 309.4 409.8 C319.9 402.9 333.0 391.6 337.7 388.0" fill="none" stroke="#f4f4f4" stroke-width="1.6" stroke-dasharray="4.2 3.2"/>
<path d="M334.6 430.3 C338.8 432.2 352.7 437.3 360.0 442.0 C367.3 446.7 375.0 451.1 378.6 458.6 C382.2 466.1 380.8 476.5 381.8 487.0 C382.8 497.5 384.5 510.5 384.4 521.4 C384.2 532.3 385.5 542.2 380.9 552.2 C376.3 562.2 362.7 574.5 357.0 581.4 C351.3 588.3 348.7 581.6 346.7 593.4 C344.7 605.2 345.2 642.2 344.9 652.0" fill="none" stroke="#16161a" stroke-width="3.6" stroke-linejoin="round"/>
<path d="M334.6 430.3 C338.8 432.2 352.7 437.3 360.0 442.0 C367.3 446.7 375.0 451.1 378.6 458.6 C382.2 466.1 380.8 476.5 381.8 487.0 C382.8 497.5 384.5 510.5 384.4 521.4 C384.2 532.3 385.5 542.2 380.9 552.2 C376.3 562.2 362.7 574.5 357.0 581.4 C351.3 588.3 348.7 581.6 346.7 593.4 C344.7 605.2 345.2 642.2 344.9 652.0" fill="none" stroke="#f4f4f4" stroke-width="1.6" stroke-dasharray="4.2 3.2"/>
<path d="M133.8 517.3 C140.6 521.3 163.3 535.3 174.3 541.6 C185.3 547.9 195.7 552.8 200.0 555.0" fill="none" stroke="#16161a" stroke-width="3.6" stroke-linejoin="round"/>
<path d="M133.8 517.3 C140.6 521.3 163.3 535.3 174.3 541.6 C185.3 547.9 195.7 552.8 200.0 555.0" fill="none" stroke="#f4f4f4" stroke-width="1.6" stroke-dasharray="4.2 3.2"/>
<path d="M230.0 575.0 C231.2 575.5 230.1 576.5 237.0 578.0 C243.9 579.5 259.9 583.7 271.3 584.0 C282.7 584.3 295.2 580.1 305.5 579.7 C315.8 579.3 325.9 579.4 333.0 581.4 C340.1 583.4 341.6 586.9 348.4 591.7 C355.2 596.6 366.3 605.4 374.0 610.5 C381.7 615.6 386.9 619.2 394.6 622.5 C402.3 625.8 415.8 628.8 420.0 630.0" fill="none" stroke="#16161a" stroke-width="3.6" stroke-linejoin="round"/>
<path d="M230.0 575.0 C231.2 575.5 230.1 576.5 237.0 578.0 C243.9 579.5 259.9 583.7 271.3 584.0 C282.7 584.3 295.2 580.1 305.5 579.7 C315.8 579.3 325.9 579.4 333.0 581.4 C340.1 583.4 341.6 586.9 348.4 591.7 C355.2 596.6 366.3 605.4 374.0 610.5 C381.7 615.6 386.9 619.2 394.6 622.5 C402.3 625.8 415.8 628.8 420.0 630.0" fill="none" stroke="#f4f4f4" stroke-width="1.6" stroke-dasharray="4.2 3.2"/>
<path d="M303 531 L301.5 549" stroke="#22301c" stroke-width="1.6"/><rect x="300" y="538" width="4" height="5" fill="#b8b0c8" stroke="#333" stroke-width="0.6"/>
<text x="171.5" y="333.5" font-size="9.60" fill="#16180e" font-weight="bold" font-family="Liberation Serif, serif" textLength="46.4" lengthAdjust="spacingAndGlyphs">Jaworzno</text>
<text x="79.4" y="399.6" font-size="9.60" fill="#16180e" font-weight="bold" font-family="Liberation Serif, serif" textLength="33.1" lengthAdjust="spacingAndGlyphs">Imielin</text>
<text x="83.7" y="427.9" font-size="9.60" fill="#16180e" font-weight="bold" font-family="Liberation Serif, serif" textLength="30.3" lengthAdjust="spacingAndGlyphs">Chełm</text>
<text x="69.2" y="464.9" font-size="9.60" fill="#16180e" font-weight="bold" font-family="Liberation Serif, serif" textLength="31.0" lengthAdjust="spacingAndGlyphs">Bieruń</text>
<text x="177.0" y="382.8" font-size="9.60" fill="#16180e" font-weight="bold" font-family="Liberation Serif, serif" textLength="22.8" lengthAdjust="spacingAndGlyphs">Jeleń</text>
<text x="221.8" y="366.6" font-size="9.60" fill="#16180e" font-weight="bold" font-family="Liberation Serif, serif" textLength="38.8" lengthAdjust="spacingAndGlyphs">Byczyna</text>
<text x="338.5" y="342.2" font-size="9.60" fill="#16180e" font-weight="bold" font-family="Liberation Serif, serif" textLength="64.5" lengthAdjust="spacingAndGlyphs">Myślachowice</text>
<text x="295.2" y="361.8" font-size="9.60" fill="#16180e" font-weight="bold" font-family="Liberation Serif, serif" textLength="30.7" lengthAdjust="spacingAndGlyphs">Wodna</text>
<text x="359.7" y="384.7" font-size="9.60" fill="#16180e" font-weight="bold" font-family="Liberation Serif, serif" textLength="43.3" lengthAdjust="spacingAndGlyphs">Trzebinia</text>
<text x="244.9" y="409.8" font-size="9.60" fill="#16180e" font-weight="bold" font-family="Liberation Serif, serif" textLength="47.2" lengthAdjust="spacingAndGlyphs">Chrzanów</text>
<text x="64.1" y="527.0" font-size="9.60" fill="#16180e" font-weight="bold" font-family="Liberation Serif, serif" textLength="46.2" lengthAdjust="spacingAndGlyphs">Brzezinka</text>
<text x="111.9" y="613.6" font-size="9.60" fill="#16180e" font-weight="bold" font-family="Liberation Serif, serif" textLength="45.4" lengthAdjust="spacingAndGlyphs">Brzeszcze</text>
<text x="267.8" y="562.5" font-size="9.60" fill="#16180e" font-weight="bold" font-family="Liberation Serif, serif" textLength="24.9" lengthAdjust="spacingAndGlyphs">Zator</text>
<text x="311.0" y="327.5" font-size="9.60" fill="#16180e" font-weight="bold" font-family="Liberation Serif, serif" textLength="33.0" lengthAdjust="spacingAndGlyphs">Siersza</text>
<path d="M330.4 556.1 L360.7 556.1" stroke="#ffd21e" stroke-width="4.2"/><path d="M335.5 565.5 L354.5 547.5" stroke="#ffd21e" stroke-width="4.2"/>
<text x="314.1" y="580.5" font-size="12.40" fill="#ffd21e" textLength="68.5" lengthAdjust="spacingAndGlyphs">Pałczowice</text>
<g transform="translate(256.3,497) rotate(-34)"><rect x="-20.5" y="-38" width="41.5" height="20" fill="#f6f6f6"/><g transform="translate(-1,-22) scale(1.45,1.5)"><path d="M-15 -3 Q0 -6 15 -3 L15 0 Q0 2 -15 0Z" fill="#4a4a44"/><path d="M-1.6 -8 L1.6 -8 L1 12 L-1 12Z" fill="#4a4a44"/><ellipse cx="0" cy="12" rx="5" ry="1.6" fill="#4a4a44"/><path d="M-13 -2.5 L-3 -3.8 L-3 -1 L-13 0Z M13 -2.5 L3 -3.8 L3 -1 L13 0Z" fill="#d8b0a8" opacity="0.8"/></g><rect x="-20.5" y="-19.5" width="41.5" height="39.5" fill="#0a40ff"/><g transform="translate(-1,-8) scale(1.22)"><path d="M-15 -3 Q0 -6 15 -3 L15 0 Q0 2 -15 0Z" fill="#9a8c66"/><path d="M-1.6 -8 L1.6 -8 L1 12 L-1 12Z" fill="#9a8c66"/><ellipse cx="0" cy="12" rx="5" ry="1.6" fill="#9a8c66"/><path d="M-13 -2.5 L-3 -3.8 L-3 -1 L-13 0Z M13 -2.5 L3 -3.8 L3 -1 L13 0Z" fill="#d8b0a8" opacity="0.8"/></g></g>
<g transform="translate(216.25,552) rotate(18)"><rect x="-39.5" y="-20" width="20" height="40" fill="#f6f6f6"/><path d="M-30.5 -20 L-30.5 20 M-27.5 -20 L-27.5 20" stroke="#d0d0d0" stroke-width="1.2"/><g transform="translate(-27,1) rotate(-90) scale(1.3,1.1)"><path d="M-15 -3 Q0 -6 15 -3 L15 0 Q0 2 -15 0Z" fill="#3c3c36"/><path d="M-1.6 -8 L1.6 -8 L1 12 L-1 12Z" fill="#3c3c36"/><ellipse cx="0" cy="12" rx="5" ry="1.6" fill="#3c3c36"/><path d="M-13 -2.5 L-3 -3.8 L-3 -1 L-13 0Z M13 -2.5 L3 -3.8 L3 -1 L13 0Z" fill="#d8b0a8" opacity="0.8"/></g><rect x="-20" y="-20" width="40.5" height="40" fill="#52ff12"/><g transform="translate(-8.5,-1) rotate(-90) scale(1.22)"><path d="M-15 -3 Q0 -6 15 -3 L15 0 Q0 2 -15 0Z" fill="#3e3e22"/><path d="M-1.6 -8 L1.6 -8 L1 12 L-1 12Z" fill="#3e3e22"/><ellipse cx="0" cy="12" rx="5" ry="1.6" fill="#3e3e22"/><path d="M-13 -2.5 L-3 -3.8 L-3 -1 L-13 0Z M13 -2.5 L3 -3.8 L3 -1 L13 0Z" fill="#d8b0a8" opacity="0.8"/></g></g>
</g></g>
<g id="cockpit"><rect x="696" y="474.8" width="118" height="57" fill="#6b6a45"/><rect x="625.7" y="531.3" width="258.8" height="9.3" fill="#8c8c8c"/><rect x="625.7" y="540.4" width="258.8" height="70" fill="#454545"/><path d="M840.3 508 L840.3 532 Q840.6 550 858 559 L882 571" fill="none" stroke="#dadade" stroke-width="6.8"/>
<path d="M497 510 L542 510 L651.8 575.3 L651.8 600 L858.2 600 L858.2 575 L968 510 L1013 510 L1033.6 536.2 L1054.0 560.0 L1067.1 577.9 L1107.4 626.2 L1126.0 650.5 L1134.2 658.4 L1161.6 688.8 L1187.9 714.8 L1214.8 740.3 L1241.0 763.0 L1262.8 780.0 L1306.6 817.7 L1347.4 851.3 L1388.1 886.0 L1428.9 926.7 L1459.4 959.3 L1482.9 987.8 L1492.7 1001.5 Q1494.6 1004.5 1493.5 1007.5 L1472 1080 L40 1080 L16.5 1007.5 Q15.4 1004.5 17.3 1001.5 L27.1 987.8 L50.6 959.3 L81.1 926.7 L121.9 886.0 L162.6 851.3 L203.4 817.7 L247.2 780.0 L269.0 763.0 L295.2 740.3 L322.1 714.8 L348.4 688.8 L375.8 658.4 L384.0 650.5 L402.6 626.2 L442.9 577.9 L456.0 560.0 L476.4 536.2 L497.0 510.0 Z" fill="#070e16"/>
<rect x="651.8" y="575" width="206.4" height="45" fill="#454545"/><rect x="744" y="559" width="30.4" height="16" fill="#8e8e8e"/><rect x="791.8" y="559" width="29.4" height="16" fill="#8e8e8e"/><rect x="774.4" y="555" width="17.4" height="62" fill="#3d3d3d"/><ellipse cx="751.5" cy="566.8" rx="3.2" ry="2.8" fill="#3a3a3a"/><ellipse cx="761.5" cy="566.8" rx="3.2" ry="2.8" fill="#3a3a3a"/><ellipse cx="801.5" cy="566.8" rx="3.2" ry="2.8" fill="#3a3a3a"/><ellipse cx="811.5" cy="566.8" rx="3.2" ry="2.8" fill="#3a3a3a"/><circle cx="783.2" cy="567" r="6.4" fill="#8e8e8e"/><rect x="651.8" y="588.1" width="59.5" height="15.7" fill="#d2d2d2"/><rect x="711.3" y="588.1" width="63.1" height="27.8" fill="#838383"/><rect x="791.9" y="585.9" width="11" height="31.9" fill="#838383"/><path d="M802.9 588 L858.2 588 L858.2 597 L833.8 597 L817 591.2 L802.9 591.2Z" fill="#d2d2d2"/><rect x="833.8" y="596.9" width="24.4" height="8.2" fill="#fcfcfc"/><path d="M651.8 617.5 Q755 590 858.2 612.5 L858.2 660 L651.8 660Z" fill="#0f1b23"/><path d="M651.8 617.5 Q755 590 858.2 612.5 L858.2 616 Q755 594 651.8 621Z" fill="#2a343a" opacity="0.8"/><rect x="711.3" y="600" width="63.1" height="15.9" fill="#838383"/><rect x="774.4" y="600" width="17.4" height="17" fill="#3d3d3d"/><rect x="791.9" y="600" width="11" height="17.8" fill="#838383"/>
<path d="M651.8 643 A103.2 91.3 0 0 0 858.2 643Z" fill="#8d8d8d"/><path d="M657.5 645 A97.5 83.5 0 0 0 852.5 645Z" fill="#a9acc9"/><ellipse cx="755" cy="643" rx="103.2" ry="18" fill="#c9c5b6"/><path d="M651.8 643 A103.2 18 0 0 0 858.2 643 A103.2 21 0 0 1 651.8 643Z" fill="#8d8d8d"/><ellipse cx="755" cy="647.5" rx="90" ry="15.6" fill="#b5b7d7"/><ellipse cx="755" cy="650" rx="86" ry="13.5" fill="#a9acc9"/><ellipse cx="755" cy="652" rx="79.4" ry="12" fill="#8f91b1"/><path d="M665 648 A90 15.6 0 0 0 845 648" fill="none" stroke="#b9bbda" stroke-width="2.4" opacity="0.9"/><rect x="686.9" y="653" width="136.1" height="36.5" fill="#8e92b3" opacity="0.92"/><path d="M689.4 655.6 L689.4 664.4 M693.3 655.6 L693.3 660 M697.2 655.6 L697.2 664.4 M701.1 655.6 L701.1 660 M705.1 655.6 L705.1 664.4 M709.0 655.6 L709.0 660 M712.9 655.6 L712.9 664.4 M716.8 655.6 L716.8 660 M720.7 655.6 L720.7 664.4 M724.6 655.6 L724.6 660 M728.5 655.6 L728.5 664.4 M732.5 655.6 L732.5 660 M736.4 655.6 L736.4 664.4 M740.3 655.6 L740.3 660 M744.2 655.6 L744.2 664.4 M748.1 655.6 L748.1 660 M752.0 655.6 L752.0 664.4 M756.0 655.6 L756.0 660 M759.9 655.6 L759.9 664.4 M763.8 655.6 L763.8 660 M767.7 655.6 L767.7 664.4 M771.6 655.6 L771.6 660 M775.5 655.6 L775.5 664.4 M779.4 655.6 L779.4 660 M783.4 655.6 L783.4 664.4 M787.3 655.6 L787.3 660 M791.2 655.6 L791.2 664.4 M795.1 655.6 L795.1 660 M799.0 655.6 L799.0 664.4 M802.9 655.6 L802.9 660 M806.8 655.6 L806.8 664.4 M810.8 655.6 L810.8 660 M814.7 655.6 L814.7 664.4 M818.6 655.6 L818.6 660 M822.5 655.6 L822.5 664.4 " stroke="#e6e6f2" stroke-width="0.9"/><text x="711.5" y="672.6" font-size="6.80" fill="#e4e4f0" textLength="15.0" lengthAdjust="spacingAndGlyphs">340</text><text x="727.6" y="672.6" font-size="6.80" fill="#e4e4f0" textLength="15.0" lengthAdjust="spacingAndGlyphs">320</text><text x="743.4" y="672.6" font-size="6.80" fill="#e4e4f0" textLength="15.0" lengthAdjust="spacingAndGlyphs">300</text><text x="760.0" y="672.6" font-size="6.80" fill="#e4e4f0" textLength="15.0" lengthAdjust="spacingAndGlyphs">280</text><text x="776.5" y="672.6" font-size="6.80" fill="#e4e4f0" textLength="15.0" lengthAdjust="spacingAndGlyphs">260</text><text x="792.5" y="672.6" font-size="6.80" fill="#e4e4f0" textLength="15.0" lengthAdjust="spacingAndGlyphs">240</text><text x="809.3" y="672.6" font-size="6.80" fill="#e4e4f0" textLength="13.5" lengthAdjust="spacingAndGlyphs">220</text><text x="686.5" y="672.6" font-size="6.80" fill="#e4e4f0" textLength="3.5" lengthAdjust="spacingAndGlyphs">0</text><text x="695.4" y="679.2" font-size="16.50" fill="#eeeef6" textLength="12.2" lengthAdjust="spacingAndGlyphs">N</text><text x="765.5" y="685.0" font-size="16.50" fill="#eeeef6" textLength="17.5" lengthAdjust="spacingAndGlyphs">W</text><text x="732.5" y="688.6" font-size="5.20" fill="#e4e4f0" textLength="8.5" lengthAdjust="spacingAndGlyphs">NW</text><text x="808.5" y="688.6" font-size="5.20" fill="#e4e4f0" textLength="7.5" lengthAdjust="spacingAndGlyphs">SW</text><path d="M755.3 631 L755.3 728.3" stroke="#f4f4f4" stroke-width="1.2"/>
<circle cx="495.5" cy="550.3" r="3.6" fill="#8b8d90"/><circle cx="1014.5" cy="550.3" r="3.6" fill="#8b8d90"/><circle cx="1051.3" cy="599.5" r="3.6" fill="#8b8d90"/><circle cx="421.6" cy="647.4" r="3.6" fill="#8b8d90"/><circle cx="1088.4" cy="647.4" r="3.6" fill="#8b8d90"/><circle cx="378.6" cy="692.3" r="3.6" fill="#8b8d90"/><circle cx="1131.4" cy="692.3" r="3.6" fill="#8b8d90"/><circle cx="336.3" cy="731.0" r="3.6" fill="#8b8d90"/><circle cx="1173.7" cy="731.0" r="3.6" fill="#8b8d90"/><circle cx="288.4" cy="774.0" r="3.6" fill="#8b8d90"/><circle cx="1221.6" cy="774.0" r="3.6" fill="#8b8d90"/><circle cx="239.6" cy="817.4" r="3.6" fill="#8b8d90"/><circle cx="1270.4" cy="817.4" r="3.6" fill="#8b8d90"/><circle cx="192.3" cy="854.8" r="3.6" fill="#8b8d90"/><circle cx="1317.7" cy="854.8" r="3.6" fill="#8b8d90"/><circle cx="144.7" cy="897.5" r="3.6" fill="#8b8d90"/><circle cx="1365.3" cy="897.5" r="3.6" fill="#8b8d90"/><circle cx="91.3" cy="946.8" r="3.6" fill="#8b8d90"/><circle cx="1418.7" cy="946.8" r="3.6" fill="#8b8d90"/><circle cx="43.6" cy="1002.9" r="3.6" fill="#8b8d90"/><circle cx="1466.4" cy="1002.9" r="3.6" fill="#8b8d90"/><circle cx="923.7" cy="993.3" r="3.6" fill="#8b8d90"/><circle cx="947.6" cy="993.3" r="3.6" fill="#8b8d90"/><circle cx="935.6" cy="1016.4" r="3.6" fill="#8b8d90"/>
<rect x="873.4" y="579.5" width="109.9" height="133.1" fill="#f0e6ea"/><path d="M879.4 579.5 L879.4 707.3 L975.6 707.3 L975.6 579.5" fill="none" stroke="#8e8890" stroke-width="0.9"/><path d="M908.7 579 A18.8 18.8 0 0 0 946.3 579Z" fill="#070e16"/><circle cx="888.5" cy="602.5" r="3.8" fill="#c4bcc2"/><circle cx="965.8" cy="602.5" r="3.8" fill="#c4bcc2"/><circle cx="888.5" cy="696.3" r="3.8" fill="#c4bcc2"/><circle cx="966.4" cy="696.3" r="3.8" fill="#c4bcc2"/>
<rect x="910.9" y="737.9" width="54.1" height="238.1" fill="#f0e6ea"/><rect x="913.4" y="740.0999999999999" width="6.4" height="6.4" rx="1.2" fill="#5a5a5a"/><path d="M914.60 745.30 L918.60 741.30" stroke="#8a8a8a" stroke-width="0.8" stroke-linecap="butt"/><rect x="956.0999999999999" y="740.0999999999999" width="6.4" height="6.4" rx="1.2" fill="#5a5a5a"/><path d="M957.30 745.30 L961.30 741.30" stroke="#8a8a8a" stroke-width="0.8" stroke-linecap="butt"/><rect x="913.4" y="967.5999999999999" width="6.4" height="6.4" rx="1.2" fill="#5a5a5a"/><path d="M914.60 972.80 L918.60 968.80" stroke="#8a8a8a" stroke-width="0.8" stroke-linecap="butt"/><rect x="956.0999999999999" y="967.5999999999999" width="6.4" height="6.4" rx="1.2" fill="#5a5a5a"/><path d="M957.30 972.80 L961.30 968.80" stroke="#8a8a8a" stroke-width="0.8" stroke-linecap="butt"/><circle cx="947.2" cy="750.6" r="7.4" fill="#7c7c7c"/><path d="M942.6 755.2 L951.8 746.0" stroke="#3e3c3e" stroke-width="1.0"/><circle cx="948.3" cy="963.0" r="7.4" fill="#7c7c7c"/><path d="M943.7 967.6 L952.9 958.4" stroke="#3e3c3e" stroke-width="1.0"/><path d="M921.9 856.3 L921.9 757 Q921.9 749 930 749 Q938.1 749 938.1 757 L938.1 856.3Z" fill="#ffffff" stroke="#9a949a" stroke-width="0.8"/><path d="M921.9 856.3 L938.1 856.3 L938.1 956 Q938.1 964 930 964 Q921.9 964 921.9 956Z" fill="#ff0000"/><path d="M940.80 766.00 L946.60 766.00" stroke="#111" stroke-width="1.4" stroke-linecap="butt"/><text x="948.2" y="769.7" font-size="10.60" fill="#111" textLength="11.3" lengthAdjust="spacingAndGlyphs">20</text><path d="M942.00 790.00 L946.60 790.00" stroke="#111" stroke-width="1.4" stroke-linecap="butt"/><text x="948.2" y="793.7" font-size="10.60" fill="#111" textLength="11.3" lengthAdjust="spacingAndGlyphs">15</text><path d="M940.80 809.50 L946.60 809.50" stroke="#111" stroke-width="1.4" stroke-linecap="butt"/><text x="948.2" y="813.2" font-size="10.60" fill="#111" textLength="11.3" lengthAdjust="spacingAndGlyphs">10</text><path d="M942.00 831.90 L946.60 831.90" stroke="#111" stroke-width="1.4" stroke-linecap="butt"/><text x="948.2" y="835.6" font-size="10.60" fill="#111" textLength="5.6" lengthAdjust="spacingAndGlyphs">5</text><path d="M940.40 856.30 L947.40 856.30" stroke="#111" stroke-width="1.6" stroke-linecap="butt"/><text x="949.0" y="861.9" font-size="17.00" fill="#111" textLength="9.5" lengthAdjust="spacingAndGlyphs">0</text><path d="M942.00 880.30 L946.60 880.30" stroke="#111" stroke-width="1.4" stroke-linecap="butt"/><text x="948.2" y="884.0" font-size="10.60" fill="#111" textLength="5.6" lengthAdjust="spacingAndGlyphs">5</text><path d="M940.80 901.90 L946.60 901.90" stroke="#111" stroke-width="1.4" stroke-linecap="butt"/><text x="948.2" y="905.6" font-size="10.60" fill="#111" textLength="11.3" lengthAdjust="spacingAndGlyphs">10</text><path d="M942.00 923.50 L946.60 923.50" stroke="#111" stroke-width="1.4" stroke-linecap="butt"/><text x="948.2" y="927.2" font-size="10.60" fill="#111" textLength="11.3" lengthAdjust="spacingAndGlyphs">15</text><path d="M940.80 946.70 L946.60 946.70" stroke="#111" stroke-width="1.4" stroke-linecap="butt"/><text x="948.2" y="950.4" font-size="10.60" fill="#111" textLength="11.3" lengthAdjust="spacingAndGlyphs">20</text>
<path d="M635.8 1062 L635.8 871 A122.1 122.1 0 0 1 880 871 L880 1062 Q880 1070 872 1070 L643.8 1070 Q635.8 1070 635.8 1062Z" fill="#13202a"/><path d="M665 1052 L665 860.8 A93.75 93.75 0 0 1 852.5 860.8 L852.5 1052 Q852.5 1059 845.5 1059 L672 1059 Q665 1059 665 1052Z" fill="#08121a"/><circle cx="651.4" cy="873.5" r="7.3" fill="#a19d9f"/><path d="M646.9 878.0 L655.9 869.0" stroke="#3e3c3e" stroke-width="1.0"/><circle cx="871.1" cy="871.6" r="7.3" fill="#a19d9f"/><path d="M866.6 876.1 L875.6 867.1" stroke="#3e3c3e" stroke-width="1.0"/><circle cx="673.5" cy="915.7" r="7.3" fill="#a19d9f"/><path d="M669.0 920.2 L678.0 911.2" stroke="#3e3c3e" stroke-width="1.0"/><circle cx="843.6" cy="914.7" r="7.3" fill="#a19d9f"/><path d="M839.1 919.2 L848.1 910.2" stroke="#3e3c3e" stroke-width="1.0"/><circle cx="675.5" cy="1048.4" r="7.3" fill="#a19d9f"/><path d="M671.0 1052.9 L680.0 1043.9" stroke="#3e3c3e" stroke-width="1.0"/><circle cx="842.5" cy="1048.4" r="7.3" fill="#a19d9f"/><path d="M838.0 1052.9 L847.0 1043.9" stroke="#3e3c3e" stroke-width="1.0"/><circle cx="651.4" cy="1058.9" r="7.3" fill="#a19d9f"/><path d="M646.9 1063.4 L655.9 1054.4" stroke="#3e3c3e" stroke-width="1.0"/><circle cx="872.0" cy="1058.3" r="7.3" fill="#a19d9f"/><path d="M867.5 1062.8 L876.5 1053.8" stroke="#3e3c3e" stroke-width="1.0"/>
<rect x="444.6" y="598.7" width="185.7" height="187.7" rx="5.5" fill="#111d25"/><circle cx="458.4" cy="613.3" r="7.3" fill="#a19d9f"/><path d="M453.9 617.8 L462.9 608.8" stroke="#3e3c3e" stroke-width="1.0"/><circle cx="615.3" cy="613.3" r="7.3" fill="#a19d9f"/><path d="M610.8 617.8 L619.8 608.8" stroke="#3e3c3e" stroke-width="1.0"/><circle cx="458.4" cy="770.4" r="7.3" fill="#a19d9f"/><path d="M453.9 774.9 L462.9 765.9" stroke="#3e3c3e" stroke-width="1.0"/><circle cx="615.3" cy="770.4" r="7.3" fill="#a19d9f"/><path d="M610.8 774.9 L619.8 765.9" stroke="#3e3c3e" stroke-width="1.0"/><circle cx="537.3" cy="692.5" r="92.5" fill="#000"/><circle cx="537.3" cy="692.5" r="84" fill="#e8613c"/><path d="M508.91 770.49 A83.00 83.00 0 1 1 565.69 770.49 M511.14 764.39 A76.50 76.50 0 1 1 563.46 764.39 M511.14 764.39 L508.91 770.49 M507.16 762.81 L504.60 768.79 M503.29 761.02 L500.40 766.84 M499.51 759.02 L496.30 764.67 M495.86 756.80 L492.34 762.27 M492.33 754.39 L488.51 759.65 M488.95 751.78 L484.84 756.82 M485.72 748.99 L481.33 753.79 M482.64 746.02 L478.00 750.57 M479.74 742.89 L474.85 747.17 M477.02 739.60 L471.90 743.60 M474.48 736.16 L469.14 739.87 M472.14 732.58 L466.61 735.99 M470.01 728.89 L464.29 731.98 M468.08 725.07 L462.20 727.84 M466.37 721.16 L460.34 723.59 M464.88 717.15 L458.73 719.25 M463.62 713.07 L457.36 714.82 M462.58 708.93 L456.24 710.32 M461.78 704.73 L455.37 705.77 M461.22 700.50 L454.75 701.18 M460.89 696.24 L454.40 696.55 M460.80 691.97 L454.30 691.92 M460.95 687.70 L454.46 687.29 M461.34 683.44 L454.88 682.67 M461.96 679.22 L455.56 678.09 M462.82 675.03 L456.49 673.55 M463.91 670.90 L457.68 669.07 M465.23 666.84 L459.11 664.66 M466.78 662.86 L460.79 660.34 M468.54 658.96 L462.70 656.12 M470.52 655.18 L464.85 652.01 M472.71 651.51 L467.22 648.03 M475.10 647.97 L469.81 644.18 M477.68 644.56 L472.61 640.49 M480.45 641.31 L475.62 636.96 M483.40 638.22 L478.82 633.61 M486.51 635.29 L482.19 630.43 M489.78 632.55 L485.74 627.45 M493.20 629.99 L489.46 624.68 M496.76 627.62 L493.32 622.11 M500.45 625.46 L497.31 619.77 M504.25 623.51 L501.44 617.65 M508.15 621.77 L505.67 615.76 M512.14 620.26 L510.00 614.12 M516.21 618.96 L514.42 612.72 M520.35 617.90 L518.91 611.56 M524.54 617.07 L523.46 610.66 M528.77 616.48 L528.05 610.02 M533.03 616.12 L532.67 609.63 M537.30 616.00 L537.30 609.50 M541.57 616.12 L541.93 609.63 M545.83 616.48 L546.55 610.02 M550.06 617.07 L551.14 610.66 M554.25 617.90 L555.69 611.56 M558.39 618.96 L560.18 612.72 M562.46 620.26 L564.60 614.12 M566.45 621.77 L568.93 615.76 M570.35 623.51 L573.16 617.65 M574.15 625.46 L577.29 619.77 M577.84 627.62 L581.28 622.11 M581.40 629.99 L585.14 624.68 M584.82 632.55 L588.86 627.45 M588.09 635.29 L592.41 630.43 M591.20 638.22 L595.78 633.61 M594.15 641.31 L598.98 636.96 M596.92 644.56 L601.99 640.49 M599.50 647.97 L604.79 644.18 M601.89 651.51 L607.38 648.03 M604.08 655.18 L609.75 652.01 M606.06 658.96 L611.90 656.12 M607.82 662.86 L613.81 660.34 M609.37 666.84 L615.49 664.66 M610.69 670.90 L616.92 669.07 M611.78 675.03 L618.11 673.55 M612.64 679.22 L619.04 678.09 M613.26 683.44 L619.72 682.67 M613.65 687.70 L620.14 687.29 M613.80 691.97 L620.30 691.92 M613.71 696.24 L620.20 696.55 M613.38 700.50 L619.85 701.18 M612.82 704.73 L619.23 705.77 M612.02 708.93 L618.36 710.32 M610.98 713.07 L617.24 714.82 M609.72 717.15 L615.87 719.25 M608.23 721.16 L614.26 723.59 M606.52 725.07 L612.40 727.84 M604.59 728.89 L610.31 731.98 M602.46 732.58 L607.99 735.99 M600.12 736.16 L605.46 739.87 M597.58 739.60 L602.70 743.60 M594.86 742.89 L599.75 747.17 M591.96 746.02 L596.60 750.57 M588.88 748.99 L593.27 753.79 M585.65 751.78 L589.76 756.82 M582.27 754.39 L586.09 759.65 M578.74 756.80 L582.26 762.27 M575.09 759.02 L578.30 764.67 M571.31 761.02 L574.20 766.84 M567.44 762.81 L570.00 768.79 M563.46 764.39 L565.69 770.49 " fill="none" stroke="#ffd61e" stroke-width="0.7"/><path d="M511.31 763.92 L508.74 770.96 M471.48 730.50 L464.99 734.25 M462.45 679.30 L455.07 678.00 M488.45 634.28 L483.63 628.54 M537.30 616.50 L537.30 609.00 M586.15 634.28 L590.97 628.54 M612.15 679.30 L619.53 678.00 M603.12 730.50 L609.61 734.25 M563.29 763.92 L565.86 770.96 " fill="none" stroke="#ffd61e" stroke-width="2.6"/><text x="537.3" y="632.3" font-size="12.20" fill="#ffd61e" font-weight="bold" text-anchor="middle" textLength="7.2" lengthAdjust="spacingAndGlyphs">0</text><text x="499.1" y="647.9" font-size="12.20" fill="#ffd61e" font-weight="bold" text-anchor="middle" textLength="15.0" lengthAdjust="spacingAndGlyphs">01</text><text x="575.5" y="647.9" font-size="12.20" fill="#ffd61e" font-weight="bold" text-anchor="middle" textLength="15.0" lengthAdjust="spacingAndGlyphs">01</text><text x="475.4" y="685.3" font-size="12.20" fill="#ffd61e" font-weight="bold" text-anchor="middle" textLength="15.0" lengthAdjust="spacingAndGlyphs">02</text><text x="599.2" y="685.3" font-size="12.20" fill="#ffd61e" font-weight="bold" text-anchor="middle" textLength="15.0" lengthAdjust="spacingAndGlyphs">02</text><text x="483.3" y="729.2" font-size="12.20" fill="#ffd61e" font-weight="bold" text-anchor="middle" textLength="15.0" lengthAdjust="spacingAndGlyphs">03</text><text x="591.3" y="729.2" font-size="12.20" fill="#ffd61e" font-weight="bold" text-anchor="middle" textLength="15.0" lengthAdjust="spacingAndGlyphs">03</text><text x="517.2" y="758.6" font-size="12.20" fill="#ffd61e" font-weight="bold" text-anchor="middle" textLength="15.0" lengthAdjust="spacingAndGlyphs">04</text><text x="557.4" y="758.6" font-size="12.20" fill="#ffd61e" font-weight="bold" text-anchor="middle" textLength="15.0" lengthAdjust="spacingAndGlyphs">04</text><text x="537.3" y="664.9" font-size="10.40" fill="#ffd61e" font-weight="bold" text-anchor="middle" textLength="51.5" lengthAdjust="spacingAndGlyphs">CIŚNIENIE</text><text x="537.3" y="678.5" font-size="10.40" fill="#ffd61e" font-weight="bold" text-anchor="middle" textLength="68.4" lengthAdjust="spacingAndGlyphs">ŁADOWANIA</text><rect x="509.2" y="690.8" width="11.4" height="1.9" fill="#ffd61e"/><rect x="552.3" y="690.8" width="11.4" height="1.9" fill="#ffd61e"/><rect x="557.05" y="686" width="1.9" height="11.5" fill="#ffd61e"/><text x="538.3" y="729.6" font-size="7.40" fill="#ffd61e" text-anchor="middle" textLength="42.0" lengthAdjust="spacingAndGlyphs">G.GERLACH</text><text x="538.8" y="742.6" font-size="8.00" fill="#ffd61e" text-anchor="middle" textLength="30.5" lengthAdjust="spacingAndGlyphs">kg/cm²</text><path d="M536.53 723.53 L553.88 617.31 L553.00 617.12 L525.28 721.12Z" fill="#e6e3b0"/><circle cx="537.3" cy="692.5" r="5" fill="#e6e3b0"/><circle cx="537.3" cy="692.5" r="0.8" fill="#111"/>
<rect x="344.7" y="803.0" width="135.1" height="134.0" rx="5.5" fill="#111d25"/><circle cx="356.4" cy="814.2" r="7.3" fill="#a19d9f"/><path d="M351.9 818.7 L360.9 809.7" stroke="#3e3c3e" stroke-width="1.0"/><circle cx="469.4" cy="814.2" r="7.3" fill="#a19d9f"/><path d="M464.9 818.7 L473.9 809.7" stroke="#3e3c3e" stroke-width="1.0"/><circle cx="356.4" cy="925.0" r="7.3" fill="#a19d9f"/><path d="M351.9 929.5 L360.9 920.5" stroke="#3e3c3e" stroke-width="1.0"/><circle cx="469.4" cy="925.0" r="7.3" fill="#a19d9f"/><path d="M464.9 929.5 L473.9 920.5" stroke="#3e3c3e" stroke-width="1.0"/><circle cx="412.2" cy="871.25" r="62" fill="#000"/><circle cx="412.2" cy="871.25" r="57.6" fill="#0f1c27"/><path d="M376.58 915.24 A56.60 56.60 0 1 1 464.30 849.13 M379.98 911.04 A51.20 51.20 0 1 1 459.33 851.24 M379.98 911.04 L376.58 915.24 M378.21 909.54 L374.62 913.58 M376.51 907.96 L372.74 911.83 M374.88 906.30 L370.94 910.00 M373.33 904.57 L369.23 908.08 M371.85 902.77 L367.60 906.10 M370.47 900.91 L366.06 904.04 M369.16 898.99 L364.62 901.91 M367.95 897.00 L363.28 899.72 M366.83 894.97 L362.04 897.47 M365.80 892.89 L360.90 895.17 M364.86 890.76 L359.87 892.82 M364.03 888.59 L358.95 890.42 M363.29 886.39 L358.13 887.99 M362.65 884.16 L357.43 885.52 M362.12 881.90 L356.84 883.02 M361.69 879.61 L356.36 880.49 M361.36 877.31 L356.00 877.95 M361.14 875.00 L355.75 875.40 M361.02 872.68 L355.62 872.83 M361.01 870.36 L355.61 870.26 M361.10 868.04 L355.71 867.70 M361.30 865.72 L355.93 865.14 M361.60 863.42 L356.27 862.59 M362.01 861.13 L356.72 860.06 M362.52 858.86 L357.28 857.56 M363.13 856.62 L357.96 855.08 M363.85 854.41 L358.75 852.64 M364.66 852.24 L359.65 850.23 M365.57 850.10 L360.66 847.87 M366.58 848.01 L361.77 845.55 M367.68 845.96 L362.99 843.29 M368.87 843.97 L364.31 841.09 M370.16 842.03 L365.72 838.95 M371.53 840.15 L367.24 836.87 M372.98 838.34 L368.84 834.87 M374.51 836.59 L370.54 832.94 M376.12 834.92 L372.32 831.09 M377.81 833.32 L374.18 829.32 M379.56 831.80 L376.12 827.64 M381.39 830.36 L378.14 826.05 M383.27 829.00 L380.22 824.55 M385.22 827.74 L382.37 823.15 M387.22 826.56 L384.59 821.84 M389.27 825.47 L386.86 820.64 M391.38 824.48 L389.18 819.54 M393.52 823.58 L391.55 818.55 M395.70 822.78 L393.96 817.67 M397.92 822.08 L396.41 816.90 M400.16 821.49 L398.89 816.24 M402.43 820.99 L401.40 815.69 M404.72 820.60 L403.93 815.26 M407.03 820.31 L406.48 814.94 M409.34 820.13 L409.04 814.74 M411.66 820.05 L411.61 814.65 M413.99 820.08 L414.18 814.68 M416.31 820.21 L416.74 814.83 M418.62 820.45 L419.29 815.10 M420.91 820.80 L421.83 815.48 M423.19 821.24 L424.35 815.97 M425.45 821.79 L426.85 816.58 M427.68 822.45 L429.31 817.30 M429.88 823.20 L431.74 818.13 M432.04 824.05 L434.13 819.07 M434.16 825.00 L436.48 820.12 M436.24 826.04 L438.77 821.28 M438.26 827.18 L441.01 822.53 M440.24 828.41 L443.19 823.89 M442.15 829.72 L445.31 825.34 M444.00 831.12 L447.36 826.89 M445.79 832.61 L449.33 828.53 M447.51 834.17 L451.23 830.26 M449.15 835.81 L453.05 832.07 M450.72 837.53 L454.79 833.97 M452.21 839.31 L456.43 835.94 M453.62 841.16 L457.99 837.98 M454.94 843.07 L459.45 840.09 M456.18 845.03 L460.82 842.27 M457.32 847.06 L462.08 844.50 M458.37 849.13 L463.24 846.79 M459.33 851.24 L464.30 849.13 " fill="none" stroke="#ffd61e" stroke-width="0.85"/><path d="M464.30 849.13 A56.60 56.60 0 0 1 376.58 915.24 M459.33 851.24 A51.20 51.20 0 0 1 379.98 911.04" fill="none" stroke="#ffd61e" stroke-width="0.85"/><path d="M459.8 855.8 L466.4 853.6 M459.8 886.7 L466.4 888.9 M458.6 890.0 L465.0 892.6 M433.3 916.6 L436.3 922.9 M391.1 916.6 L388.1 922.9 " stroke="#ffd61e" stroke-width="1.1"/><path d="M381.05 909.72 L375.70 916.32" stroke="#ffd61e" stroke-width="2" stroke-linecap="butt"/><text x="386.9" y="909.9" font-size="12.30" fill="#ffd61e" font-weight="bold" text-anchor="middle" font-family="Liberation Serif, serif" textLength="12.6" lengthAdjust="spacingAndGlyphs">40</text><text x="373.6" y="891.1" font-size="12.30" fill="#ffd61e" font-weight="bold" text-anchor="middle" font-family="Liberation Serif, serif" textLength="12.6" lengthAdjust="spacingAndGlyphs">60</text><text x="369.2" y="874.1" font-size="12.30" fill="#ffd61e" font-weight="bold" text-anchor="middle" font-family="Liberation Serif, serif" textLength="12.6" lengthAdjust="spacingAndGlyphs">70</text><text x="376.3" y="851.3" font-size="12.30" fill="#ffd61e" font-weight="bold" text-anchor="middle" font-family="Liberation Serif, serif" textLength="12.6" lengthAdjust="spacingAndGlyphs">80</text><text x="392.4" y="840.1" font-size="12.30" fill="#ffd61e" font-weight="bold" text-anchor="middle" font-family="Liberation Serif, serif" textLength="12.6" lengthAdjust="spacingAndGlyphs">90</text><text x="412.2" y="831.8" font-size="12.30" fill="#ffd61e" font-weight="bold" text-anchor="middle" font-family="Liberation Serif, serif" textLength="19.8" lengthAdjust="spacingAndGlyphs">100</text><text x="431.3" y="840.4" font-size="12.30" fill="#ffd61e" font-weight="bold" text-anchor="middle" font-family="Liberation Serif, serif" textLength="19.8" lengthAdjust="spacingAndGlyphs">110</text><text x="447.8" y="860.7" font-size="12.30" fill="#ffd61e" font-weight="bold" text-anchor="middle" font-family="Liberation Serif, serif" textLength="19.8" lengthAdjust="spacingAndGlyphs">120</text><text x="448.6" y="888.0" font-size="12.30" fill="#ffd61e" font-weight="bold" text-anchor="middle" font-family="Liberation Serif, serif" textLength="19.8" lengthAdjust="spacingAndGlyphs">130</text><text x="422.8" y="916.9" font-size="12.30" fill="#ffd61e" font-weight="bold" text-anchor="middle" font-family="Liberation Serif, serif" textLength="19.8" lengthAdjust="spacingAndGlyphs">140</text><text x="400.1" y="917.8" font-size="12.30" fill="#ffd61e" font-weight="bold" text-anchor="middle" font-family="Liberation Serif, serif" textLength="12.6" lengthAdjust="spacingAndGlyphs">25</text><text x="416.0" y="844.8" font-size="9.60" fill="#ffd61e" font-weight="bold" text-anchor="middle" textLength="9.5" lengthAdjust="spacingAndGlyphs">°C</text><text x="412.5" y="857.1" font-size="11.40" fill="#ffd61e" font-weight="bold" text-anchor="middle" textLength="35.6" lengthAdjust="spacingAndGlyphs">SMAR</text><text x="385.0" y="882.1" font-size="7.30" fill="#ffd61e" textLength="52.7" lengthAdjust="spacingAndGlyphs">TEMPERATURA</text><text x="379.2" y="897.0" font-size="6.60" fill="#fff" font-weight="bold" textLength="67.2" lengthAdjust="spacingAndGlyphs">G.Gerlach Warszawa</text><circle cx="412.2" cy="861.5" r="2.4" fill="#7a7a86"/><circle cx="412.2" cy="887.2" r="2.4" fill="#7a7a86"/><path d="M412.20 870.45 L452.50 874.35" stroke="#05070a" stroke-width="3.2" stroke-linecap="round"/><circle cx="450.7" cy="874.25" r="3.6" fill="#05070a"/><circle cx="412.2" cy="870.45" r="4.3" fill="#05070a"/><path d="M410.20 870.25 L378.20 867.25" stroke="#f0f0e0" stroke-width="0.9" stroke-linecap="butt"/><path d="M371.7 866.65 l4 -3.4 l-0.5 2.5 l4.5 -1.2 l-2.5 2.6 l2.8 2.4 l-4.6 -0.6 l0.8 2.6Z" fill="#ece9c4"/>
<rect x="489.0" y="803.0" width="134.6" height="134.0" rx="5.5" fill="#111d25"/><circle cx="500.2" cy="814.2" r="7.3" fill="#a19d9f"/><path d="M495.7 818.7 L504.7 809.7" stroke="#3e3c3e" stroke-width="1.0"/><circle cx="613.4" cy="814.2" r="7.3" fill="#a19d9f"/><path d="M608.9 818.7 L617.9 809.7" stroke="#3e3c3e" stroke-width="1.0"/><circle cx="500.2" cy="929.0" r="7.3" fill="#a19d9f"/><path d="M495.7 933.5 L504.7 924.5" stroke="#3e3c3e" stroke-width="1.0"/><circle cx="613.4" cy="929.0" r="7.3" fill="#a19d9f"/><path d="M608.9 933.5 L617.9 924.5" stroke="#3e3c3e" stroke-width="1.0"/><circle cx="556.4" cy="871.25" r="62" fill="#000"/><circle cx="556.4" cy="871.25" r="57.6" fill="#6d392e"/><path d="M528.20 920.09 A56.40 56.40 0 1 1 584.60 920.09 M530.70 915.76 A51.40 51.40 0 1 1 582.10 915.76 M530.70 915.76 L528.20 920.09 M526.59 913.12 L523.69 917.19 M522.75 910.10 L519.47 913.88 M519.21 906.73 L515.59 910.18 M516.01 903.04 L512.08 906.13 M513.17 899.06 L508.97 901.76 M510.73 894.82 L506.28 897.12 M508.69 890.38 L504.05 892.24 M507.09 885.76 L502.29 887.17 M505.94 881.01 L501.03 881.96 M505.24 876.18 L500.26 876.66 M505.00 871.29 L500.00 871.30 M505.23 866.41 L500.25 865.94 M505.92 861.57 L501.01 860.63 M507.07 856.82 L502.27 855.42 M508.66 852.20 L504.02 850.35 M510.68 847.76 L506.24 845.47 M513.12 843.52 L508.91 840.82 M515.95 839.53 L512.02 836.45 M519.15 835.84 L515.52 832.39 M522.68 832.46 L519.40 828.68 M526.52 829.43 L523.61 825.36 M530.62 826.78 L528.11 822.46 M534.96 824.53 L532.88 819.99 M539.50 822.71 L537.85 817.99 M544.18 821.32 L542.99 816.47 M548.98 820.39 L548.26 815.44 M553.84 819.91 L553.60 814.92 M558.73 819.90 L558.96 814.91 M563.60 820.36 L564.30 815.41 M568.40 821.27 L569.57 816.41 M573.09 822.64 L574.72 817.91 M577.63 824.44 L579.70 819.89 M581.98 826.67 L584.47 822.33 M586.10 829.30 L588.99 825.22 M589.95 832.31 L593.22 828.52 M593.50 835.67 L597.11 832.21 M596.71 839.36 L600.63 836.26 M599.56 843.33 L603.75 840.61 M602.01 847.56 L606.45 845.25 M604.06 852.00 L608.69 850.12 M605.67 856.61 L610.46 855.18 M606.84 861.35 L611.74 860.39 M607.55 866.19 L612.53 865.70 M607.80 871.07 L612.80 871.05 M607.58 875.95 L612.56 876.41 M606.91 880.79 L611.82 881.72 M605.77 885.55 L610.57 886.94 M604.19 890.17 L608.84 892.01 M602.18 894.63 L606.63 896.90 M599.75 898.87 L603.97 901.55 M596.93 902.86 L600.87 905.93 M593.75 906.57 L597.38 910.00 M590.22 909.95 L593.51 913.72 M586.39 912.99 L589.31 917.05 M582.29 915.65 L584.81 919.97 " fill="none" stroke="#ffcf1e" stroke-width="0.9"/><path d="M530.95 915.33 L527.95 920.53 M506.27 880.09 L500.36 881.13 M517.41 838.53 L512.81 834.68 M556.40 820.35 L556.40 814.35 M595.39 838.53 L599.99 834.68 M606.53 880.09 L612.44 881.13 M581.85 915.33 L584.85 920.53 " fill="none" stroke="#ffcf1e" stroke-width="1.8"/><text x="538.5" y="912.9" font-size="9.60" fill="#ffcf1e" text-anchor="middle" textLength="5.0" lengthAdjust="spacingAndGlyphs">0</text><text x="517.3" y="883.2" font-size="9.60" fill="#ffcf1e" text-anchor="middle" textLength="13.6" lengthAdjust="spacingAndGlyphs">0,1</text><text x="528.3" y="845.7" font-size="9.60" fill="#ffcf1e" text-anchor="middle" textLength="13.6" lengthAdjust="spacingAndGlyphs">0,2</text><text x="557.2" y="831.6" font-size="9.60" fill="#ffcf1e" text-anchor="middle" textLength="13.6" lengthAdjust="spacingAndGlyphs">0,3</text><text x="583.7" y="845.7" font-size="9.60" fill="#ffcf1e" text-anchor="middle" textLength="13.6" lengthAdjust="spacingAndGlyphs">0,4</text><text x="595.5" y="883.2" font-size="9.60" fill="#ffcf1e" text-anchor="middle" textLength="13.6" lengthAdjust="spacingAndGlyphs">0,5</text><text x="575.0" y="912.6" font-size="9.60" fill="#ffcf1e" text-anchor="middle" textLength="13.6" lengthAdjust="spacingAndGlyphs">0,6</text><text x="556.1" y="855.3" font-size="11.20" fill="#ffcf1e" font-weight="bold" text-anchor="middle" textLength="38.3" lengthAdjust="spacingAndGlyphs">PALIWO</text><text x="556.0" y="883.8" font-size="11.20" fill="#ffcf1e" font-weight="bold" text-anchor="middle" textLength="48.0" lengthAdjust="spacingAndGlyphs">CIŚNIENIE</text><text x="523.0" y="897.0" font-size="6.60" fill="#fff" font-weight="bold" textLength="67.2" lengthAdjust="spacingAndGlyphs">G.Gerlach Warszawa</text><text x="560.0" y="904.2" font-size="7.00" fill="#ffcf1e" text-anchor="middle" textLength="25.8" lengthAdjust="spacingAndGlyphs">kg/cm²</text><circle cx="556.4" cy="861.5" r="2.2" fill="#4a2a26"/><circle cx="556.4" cy="887.2" r="2.2" fill="#4a2a26"/><path d="M517.40 871.25 L556.40 871.25" stroke="#3a2422" stroke-width="2.4" stroke-linecap="round"/><circle cx="517.4" cy="871.25" r="3.4" fill="#3a2422"/><circle cx="556.4" cy="871.25" r="3.8" fill="#3a2422"/><path d="M559.40 871.25 L598.40 871.25" stroke="#f0b030" stroke-width="0.9" stroke-linecap="butt"/><path d="M604.9 871.25 l-13 -3.4 l2.6 3.4 l-2.6 3.4Z" fill="#f4b838"/><path d="M618.00 883.00 L618.00 910.00" stroke="#e8e4a8" stroke-width="1.5" stroke-linecap="butt"/>
<rect x="344.7" y="951.0" width="135.1" height="134.0" rx="5.5" fill="#111d25"/><circle cx="356.4" cy="961.3" r="7.3" fill="#a19d9f"/><path d="M351.9 965.8 L360.9 956.8" stroke="#3e3c3e" stroke-width="1.0"/><circle cx="469.4" cy="961.3" r="7.3" fill="#a19d9f"/><path d="M464.9 965.8 L473.9 956.8" stroke="#3e3c3e" stroke-width="1.0"/><circle cx="356.4" cy="1073.0" r="7.3" fill="#a19d9f"/><path d="M351.9 1077.5 L360.9 1068.5" stroke="#3e3c3e" stroke-width="1.0"/><circle cx="469.4" cy="1073.0" r="7.3" fill="#a19d9f"/><path d="M464.9 1077.5 L473.9 1068.5" stroke="#3e3c3e" stroke-width="1.0"/><circle cx="412.2" cy="1018.3" r="62" fill="#000"/><circle cx="412.2" cy="1018.3" r="57.6" fill="#8b7703"/><path d="M376.58 1062.29 A56.60 56.60 0 1 1 464.30 996.18 M379.98 1058.09 A51.20 51.20 0 1 1 459.33 998.29 M379.98 1058.09 L376.58 1062.29 M378.21 1056.59 L374.62 1060.63 M376.51 1055.01 L372.74 1058.88 M374.88 1053.35 L370.94 1057.05 M373.33 1051.62 L369.23 1055.13 M371.85 1049.82 L367.60 1053.15 M370.47 1047.96 L366.06 1051.09 M369.16 1046.04 L364.62 1048.96 M367.95 1044.05 L363.28 1046.77 M366.83 1042.02 L362.04 1044.52 M365.80 1039.94 L360.90 1042.22 M364.86 1037.81 L359.87 1039.87 M364.03 1035.64 L358.95 1037.47 M363.29 1033.44 L358.13 1035.04 M362.65 1031.21 L357.43 1032.57 M362.12 1028.95 L356.84 1030.07 M361.69 1026.66 L356.36 1027.54 M361.36 1024.36 L356.00 1025.00 M361.14 1022.05 L355.75 1022.45 M361.02 1019.73 L355.62 1019.88 M361.01 1017.41 L355.61 1017.31 M361.10 1015.09 L355.71 1014.75 M361.30 1012.77 L355.93 1012.19 M361.60 1010.47 L356.27 1009.64 M362.01 1008.18 L356.72 1007.11 M362.52 1005.91 L357.28 1004.61 M363.13 1003.67 L357.96 1002.13 M363.85 1001.46 L358.75 999.69 M364.66 999.29 L359.65 997.28 M365.57 997.15 L360.66 994.92 M366.58 995.06 L361.77 992.60 M367.68 993.01 L362.99 990.34 M368.87 991.02 L364.31 988.14 M370.16 989.08 L365.72 986.00 M371.53 987.20 L367.24 983.92 M372.98 985.39 L368.84 981.92 M374.51 983.64 L370.54 979.99 M376.12 981.97 L372.32 978.14 M377.81 980.37 L374.18 976.37 M379.56 978.85 L376.12 974.69 M381.39 977.41 L378.14 973.10 M383.27 976.05 L380.22 971.60 M385.22 974.79 L382.37 970.20 M387.22 973.61 L384.59 968.89 M389.27 972.52 L386.86 967.69 M391.38 971.53 L389.18 966.59 M393.52 970.63 L391.55 965.60 M395.70 969.83 L393.96 964.72 M397.92 969.13 L396.41 963.95 M400.16 968.54 L398.89 963.29 M402.43 968.04 L401.40 962.74 M404.72 967.65 L403.93 962.31 M407.03 967.36 L406.48 961.99 M409.34 967.18 L409.04 961.79 M411.66 967.10 L411.61 961.70 M413.99 967.13 L414.18 961.73 M416.31 967.26 L416.74 961.88 M418.62 967.50 L419.29 962.15 M420.91 967.85 L421.83 962.53 M423.19 968.29 L424.35 963.02 M425.45 968.84 L426.85 963.63 M427.68 969.50 L429.31 964.35 M429.88 970.25 L431.74 965.18 M432.04 971.10 L434.13 966.12 M434.16 972.05 L436.48 967.17 M436.24 973.09 L438.77 968.33 M438.26 974.23 L441.01 969.58 M440.24 975.46 L443.19 970.94 M442.15 976.77 L445.31 972.39 M444.00 978.17 L447.36 973.94 M445.79 979.66 L449.33 975.58 M447.51 981.22 L451.23 977.31 M449.15 982.86 L453.05 979.12 M450.72 984.58 L454.79 981.02 M452.21 986.36 L456.43 982.99 M453.62 988.21 L457.99 985.03 M454.94 990.12 L459.45 987.14 M456.18 992.08 L460.82 989.32 M457.32 994.11 L462.08 991.55 M458.37 996.18 L463.24 993.84 M459.33 998.29 L464.30 996.18 " fill="none" stroke="#ffd61e" stroke-width="0.85"/><path d="M464.30 996.18 A56.60 56.60 0 0 1 376.58 1062.29 M459.33 998.29 A51.20 51.20 0 0 1 379.98 1058.09" fill="none" stroke="#ffd61e" stroke-width="0.85"/><path d="M459.8 1002.8 L466.4 1000.7 M459.8 1033.8 L466.4 1035.9 M458.6 1037.0 L465.0 1039.7 M433.3 1063.6 L436.3 1070.0 M391.1 1063.6 L388.1 1070.0 " stroke="#ffd61e" stroke-width="1.1"/><path d="M381.05 1056.77 L375.70 1063.37" stroke="#ffd61e" stroke-width="2" stroke-linecap="butt"/><text x="386.9" y="1057.0" font-size="12.30" fill="#ffd61e" font-weight="bold" text-anchor="middle" font-family="Liberation Serif, serif" textLength="12.6" lengthAdjust="spacingAndGlyphs">40</text><text x="373.6" y="1038.2" font-size="12.30" fill="#ffd61e" font-weight="bold" text-anchor="middle" font-family="Liberation Serif, serif" textLength="12.6" lengthAdjust="spacingAndGlyphs">60</text><text x="369.2" y="1021.1" font-size="12.30" fill="#ffd61e" font-weight="bold" text-anchor="middle" font-family="Liberation Serif, serif" textLength="12.6" lengthAdjust="spacingAndGlyphs">70</text><text x="376.3" y="998.4" font-size="12.30" fill="#ffd61e" font-weight="bold" text-anchor="middle" font-family="Liberation Serif, serif" textLength="12.6" lengthAdjust="spacingAndGlyphs">80</text><text x="392.4" y="987.2" font-size="12.30" fill="#ffd61e" font-weight="bold" text-anchor="middle" font-family="Liberation Serif, serif" textLength="12.6" lengthAdjust="spacingAndGlyphs">90</text><text x="412.2" y="978.9" font-size="12.30" fill="#ffd61e" font-weight="bold" text-anchor="middle" font-family="Liberation Serif, serif" textLength="19.8" lengthAdjust="spacingAndGlyphs">100</text><text x="431.3" y="987.5" font-size="12.30" fill="#ffd61e" font-weight="bold" text-anchor="middle" font-family="Liberation Serif, serif" textLength="19.8" lengthAdjust="spacingAndGlyphs">110</text><text x="447.8" y="1007.8" font-size="12.30" fill="#ffd61e" font-weight="bold" text-anchor="middle" font-family="Liberation Serif, serif" textLength="19.8" lengthAdjust="spacingAndGlyphs">120</text><text x="448.6" y="1035.1" font-size="12.30" fill="#ffd61e" font-weight="bold" text-anchor="middle" font-family="Liberation Serif, serif" textLength="19.8" lengthAdjust="spacingAndGlyphs">130</text><text x="422.8" y="1064.0" font-size="12.30" fill="#ffd61e" font-weight="bold" text-anchor="middle" font-family="Liberation Serif, serif" textLength="19.8" lengthAdjust="spacingAndGlyphs">140</text><text x="400.1" y="1064.8" font-size="12.30" fill="#ffd61e" font-weight="bold" text-anchor="middle" font-family="Liberation Serif, serif" textLength="12.6" lengthAdjust="spacingAndGlyphs">25</text><text x="416.0" y="991.8" font-size="9.60" fill="#ffd61e" font-weight="bold" text-anchor="middle" textLength="9.5" lengthAdjust="spacingAndGlyphs">°C</text><text x="412.5" y="1004.2" font-size="11.40" fill="#ffd61e" font-weight="bold" text-anchor="middle" textLength="35.6" lengthAdjust="spacingAndGlyphs">SMAR</text><text x="385.0" y="1029.2" font-size="7.30" fill="#ffd61e" textLength="52.7" lengthAdjust="spacingAndGlyphs">TEMPERATURA</text><text x="379.2" y="1044.0" font-size="6.60" fill="#fff" font-weight="bold" textLength="67.2" lengthAdjust="spacingAndGlyphs">G.Gerlach Warszawa</text><circle cx="412.2" cy="1008.6" r="2.4" fill="#7a7a86"/><circle cx="412.2" cy="1034.3" r="2.4" fill="#7a7a86"/><path d="M411.78 1017.07 L369.42 1032.29 L369.88 1033.61 L412.62 1019.53Z" fill="#ece9c4"/><circle cx="412.7" cy="1018.0" r="3.6" fill="#ece9c4"/><path d="M415.2 1015.8 l5.5 -5 l1.2 2.6 l0.8 3 l-2.6 0.2 l-3 1.8Z" fill="#ece9c4"/>
<rect x="489.0" y="951.0" width="134.6" height="134.0" rx="5.5" fill="#111d25"/><circle cx="500.2" cy="961.3" r="7.3" fill="#a19d9f"/><path d="M495.7 965.8 L504.7 956.8" stroke="#3e3c3e" stroke-width="1.0"/><circle cx="613.4" cy="961.3" r="7.3" fill="#a19d9f"/><path d="M608.9 965.8 L617.9 956.8" stroke="#3e3c3e" stroke-width="1.0"/><circle cx="500.2" cy="1073.0" r="7.3" fill="#a19d9f"/><path d="M495.7 1077.5 L504.7 1068.5" stroke="#3e3c3e" stroke-width="1.0"/><circle cx="613.4" cy="1073.0" r="7.3" fill="#a19d9f"/><path d="M608.9 1077.5 L617.9 1068.5" stroke="#3e3c3e" stroke-width="1.0"/><circle cx="556.4" cy="1018.3" r="62" fill="#000"/><circle cx="556.4" cy="1018.3" r="57.6" fill="#8b7703"/><path d="M528.20 1067.14 A56.40 56.40 0 1 1 584.60 1067.14 M530.70 1062.81 A51.40 51.40 0 1 1 582.10 1062.81 M530.70 1062.81 L528.20 1067.14 M526.19 1059.88 L523.25 1063.93 M522.01 1056.50 L518.66 1060.21 M518.20 1052.69 L514.49 1056.04 M514.82 1048.51 L510.77 1051.45 M511.89 1044.00 L507.56 1046.50 M509.44 1039.21 L504.88 1041.24 M507.52 1034.18 L502.76 1035.73 M506.12 1028.99 L501.23 1030.03 M505.28 1023.67 L500.31 1024.20 M505.00 1018.30 L500.00 1018.30 M505.28 1012.93 L500.31 1012.40 M506.12 1007.61 L501.23 1006.57 M507.52 1002.42 L502.76 1000.87 M509.44 997.39 L504.88 995.36 M511.89 992.60 L507.56 990.10 M514.82 988.09 L510.77 985.15 M518.20 983.91 L514.49 980.56 M522.01 980.10 L518.66 976.39 M526.19 976.72 L523.25 972.67 M530.70 973.79 L528.20 969.46 M535.49 971.34 L533.46 966.78 M540.52 969.42 L538.97 964.66 M545.71 968.02 L544.67 963.13 M551.03 967.18 L550.50 962.21 M556.40 966.90 L556.40 961.90 M561.77 967.18 L562.30 962.21 M567.09 968.02 L568.13 963.13 M572.28 969.42 L573.83 964.66 M577.31 971.34 L579.34 966.78 M582.10 973.79 L584.60 969.46 M586.61 976.72 L589.55 972.67 M590.79 980.10 L594.14 976.39 M594.60 983.91 L598.31 980.56 M597.98 988.09 L602.03 985.15 M600.91 992.60 L605.24 990.10 M603.36 997.39 L607.92 995.36 M605.28 1002.42 L610.04 1000.87 M606.68 1007.61 L611.57 1006.57 M607.52 1012.93 L612.49 1012.40 M607.80 1018.30 L612.80 1018.30 M607.52 1023.67 L612.49 1024.20 M606.68 1028.99 L611.57 1030.03 M605.28 1034.18 L610.04 1035.73 M603.36 1039.21 L607.92 1041.24 M600.91 1044.00 L605.24 1046.50 M597.98 1048.51 L602.03 1051.45 M594.60 1052.69 L598.31 1056.04 M590.79 1056.50 L594.14 1060.21 M586.61 1059.88 L589.55 1063.93 M582.10 1062.81 L584.60 1067.14 " fill="none" stroke="#ffd61e" stroke-width="0.9"/><path d="M530.95 1062.38 L527.95 1067.58 M512.32 1043.75 L507.12 1046.75 M505.50 1018.30 L499.50 1018.30 M512.32 992.85 L507.12 989.85 M530.95 974.22 L527.95 969.02 M556.40 967.40 L556.40 961.40 M581.85 974.22 L584.85 969.02 M600.48 992.85 L605.68 989.85 M607.30 1018.30 L613.30 1018.30 M600.48 1043.75 L605.68 1046.75 M581.85 1062.38 L584.85 1067.58 " fill="none" stroke="#ffd61e" stroke-width="1.6"/><text x="535.2" y="1059.3" font-size="12.60" fill="#ffd61e" font-weight="bold" text-anchor="middle" textLength="7.0" lengthAdjust="spacingAndGlyphs">0</text><text x="519.8" y="1043.9" font-size="12.60" fill="#ffd61e" font-weight="bold" text-anchor="middle" textLength="7.0" lengthAdjust="spacingAndGlyphs">1</text><text x="514.1" y="1022.7" font-size="12.60" fill="#ffd61e" font-weight="bold" text-anchor="middle" textLength="7.0" lengthAdjust="spacingAndGlyphs">2</text><text x="519.8" y="1001.6" font-size="12.60" fill="#ffd61e" font-weight="bold" text-anchor="middle" textLength="7.0" lengthAdjust="spacingAndGlyphs">3</text><text x="556.4" y="980.4" font-size="12.60" fill="#ffd61e" font-weight="bold" text-anchor="middle" textLength="7.0" lengthAdjust="spacingAndGlyphs">5</text><text x="577.5" y="986.1" font-size="12.60" fill="#ffd61e" font-weight="bold" text-anchor="middle" textLength="7.0" lengthAdjust="spacingAndGlyphs">6</text><text x="593.0" y="1001.6" font-size="12.60" fill="#ffd61e" font-weight="bold" text-anchor="middle" textLength="7.0" lengthAdjust="spacingAndGlyphs">7</text><text x="598.7" y="1022.7" font-size="12.60" fill="#ffd61e" font-weight="bold" text-anchor="middle" textLength="7.0" lengthAdjust="spacingAndGlyphs">8</text><text x="593.0" y="1043.9" font-size="12.60" fill="#ffd61e" font-weight="bold" text-anchor="middle" textLength="7.0" lengthAdjust="spacingAndGlyphs">9</text><text x="577.5" y="1059.3" font-size="12.60" fill="#ffd61e" font-weight="bold" text-anchor="middle" textLength="13.5" lengthAdjust="spacingAndGlyphs">10</text><text x="556.1" y="1001.0" font-size="11.20" fill="#ffd61e" font-weight="bold" text-anchor="middle" textLength="33.0" lengthAdjust="spacingAndGlyphs">SMAR</text><text x="556.0" y="1030.0" font-size="11.20" fill="#ffd61e" font-weight="bold" text-anchor="middle" textLength="48.0" lengthAdjust="spacingAndGlyphs">CIŚNIENIE</text><text x="523.0" y="1043.3" font-size="6.60" fill="#fff" font-weight="bold" textLength="67.2" lengthAdjust="spacingAndGlyphs">G.Gerlach Warszawa</text><text x="556.4" y="1064.6" font-size="4.60" fill="#ffd61e" text-anchor="middle" textLength="18.0" lengthAdjust="spacingAndGlyphs">kg/cm²</text><circle cx="556.4" cy="1008.6" r="2.2" fill="#7a7a86"/><circle cx="556.4" cy="1034.3" r="2.2" fill="#7a7a86"/><path d="M556.40 1018.30 L574.40 1051.90" stroke="#5a5a4c" stroke-width="2.2" stroke-linecap="round"/><circle cx="574.6" cy="1052.5" r="3" fill="#5a5a4c"/><circle cx="556.4" cy="1018.3" r="3.8" fill="#5a5a4c"/><path d="M555.40 1016.30 L539.00 983.00" stroke="#f0c030" stroke-width="0.9" stroke-linecap="butt"/><path d="M534.8 974 l6.6 3.2 l-2 2.4 l3.6 5.6 l-6.6 -3 l-3.4 1.8Z" fill="#f4c43a"/>
<rect x="72.2" y="954.4" width="127.5" height="135.6" rx="5.5" fill="#111d25"/><circle cx="82.5" cy="967.1" r="7.3" fill="#a19d9f"/><path d="M78.0 971.6 L87.0 962.6" stroke="#3e3c3e" stroke-width="1.0"/><circle cx="189.4" cy="967.1" r="7.3" fill="#a19d9f"/><path d="M184.9 971.6 L193.9 962.6" stroke="#3e3c3e" stroke-width="1.0"/><circle cx="83.4" cy="1075.3" r="7.3" fill="#a19d9f"/><path d="M78.9 1079.8 L87.9 1070.8" stroke="#3e3c3e" stroke-width="1.0"/><circle cx="190.3" cy="1075.3" r="7.3" fill="#a19d9f"/><path d="M185.8 1079.8 L194.8 1070.8" stroke="#3e3c3e" stroke-width="1.0"/><circle cx="136.3" cy="1020" r="63.2" fill="#000"/><circle cx="136.3" cy="1020" r="59" fill="#7c3025"/><path d="M114.87 1073.03 A57.20 57.20 0 1 1 157.73 1073.03 M116.60 1068.77 A52.60 52.60 0 1 1 156.00 1068.77 M116.60 1068.77 L114.87 1073.03 M108.50 1064.66 L106.07 1068.56 M101.24 1059.21 L98.17 1062.64 M95.02 1052.60 L91.41 1055.45 M90.03 1045.02 L85.98 1047.21 M86.42 1036.69 L82.06 1038.15 M84.29 1027.87 L79.74 1028.55 M83.71 1018.81 L79.11 1018.70 M84.70 1009.78 L80.19 1008.89 M87.23 1001.06 L82.94 999.41 M91.21 992.91 L87.27 990.54 M96.54 985.56 L93.07 982.55 M103.06 979.24 L100.15 975.67 M110.56 974.13 L108.31 970.12 M118.83 970.39 L117.30 966.05 M127.62 968.12 L126.86 963.58 M136.67 967.40 L136.70 962.80 M145.70 968.25 L146.53 963.72 M154.46 970.64 L156.05 966.32 M162.68 974.49 L164.99 970.51 M170.11 979.71 L173.07 976.18 M176.53 986.12 L180.05 983.16 M181.76 993.54 L185.74 991.23 M185.63 1001.75 L189.95 1000.16 M188.04 1010.50 L192.56 1009.67 M188.90 1019.54 L193.50 1019.50 M188.19 1028.59 L192.73 1029.34 M185.94 1037.39 L190.29 1038.91 M182.22 1045.66 L186.23 1047.91 M177.12 1053.17 L180.69 1056.07 M170.81 1059.70 L173.83 1063.17 M163.47 1065.04 L165.85 1068.98 " fill="none" stroke="#ffd61e" stroke-width="0.9"/><path d="M116.78 1068.31 L114.69 1073.50 M90.47 1044.78 L85.54 1047.44 M85.19 1009.88 L79.70 1008.79 M103.37 979.63 L99.83 975.29 M136.66 967.90 L136.70 962.30 M169.79 980.09 L173.39 975.80 M187.54 1010.59 L193.05 1009.58 M181.78 1045.42 L186.67 1048.15 M155.82 1068.31 L157.91 1073.50 " fill="none" stroke="#ffd61e" stroke-width="1.8"/><text x="121.9" y="1064.7" font-size="8.80" fill="#ffd61e" text-anchor="middle" textLength="5.0" lengthAdjust="spacingAndGlyphs">0</text><text x="102.8" y="1049.7" font-size="8.80" fill="#ffd61e" text-anchor="middle" textLength="11.5" lengthAdjust="spacingAndGlyphs">40</text><text x="93.3" y="1023.8" font-size="8.80" fill="#ffd61e" text-anchor="middle" textLength="11.5" lengthAdjust="spacingAndGlyphs">80</text><text x="105.0" y="995.9" font-size="8.80" fill="#ffd61e" text-anchor="middle" textLength="16.5" lengthAdjust="spacingAndGlyphs">120</text><text x="120.9" y="983.7" font-size="8.80" fill="#ffd61e" text-anchor="middle" textLength="16.5" lengthAdjust="spacingAndGlyphs">160</text><text x="150.9" y="983.7" font-size="8.80" fill="#ffd61e" text-anchor="middle" textLength="16.5" lengthAdjust="spacingAndGlyphs">200</text><text x="168.6" y="997.8" font-size="8.80" fill="#ffd61e" text-anchor="middle" textLength="16.5" lengthAdjust="spacingAndGlyphs">240</text><text x="177.8" y="1023.8" font-size="8.80" fill="#ffd61e" text-anchor="middle" textLength="16.5" lengthAdjust="spacingAndGlyphs">280</text><text x="167.8" y="1051.8" font-size="8.80" fill="#ffd61e" text-anchor="middle" textLength="16.5" lengthAdjust="spacingAndGlyphs">320</text><text x="135.9" y="1007.8" font-size="10.20" fill="#ffd61e" text-anchor="middle" textLength="40.3" lengthAdjust="spacingAndGlyphs">BENZYNA</text><text x="136.9" y="993.6" font-size="5.60" fill="#fff" font-weight="bold" text-anchor="middle" textLength="12.0" lengthAdjust="spacingAndGlyphs">LITR</text><text x="136.9" y="1033.2" font-size="5.60" fill="#fff" font-weight="bold" text-anchor="middle" textLength="16.0" lengthAdjust="spacingAndGlyphs">P.11C</text><text x="137.5" y="1041.8" font-size="6.40" fill="#fff" font-weight="bold" text-anchor="middle" textLength="67.0" lengthAdjust="spacingAndGlyphs">G.Gerlach Warszawa</text><text x="136.9" y="1056.8" font-size="5.60" fill="#fff" font-weight="bold" text-anchor="middle" textLength="14.5" lengthAdjust="spacingAndGlyphs">TYP2</text><circle cx="136.3" cy="997.5" r="2.2" fill="#5e4a48"/><circle cx="136.3" cy="1045.7" r="2.2" fill="#5e4a48"/><path d="M123.68 1047.82 L158.84 978.18 L157.77 977.63 L120.66 1046.24Z" fill="#e9e6b4"/><circle cx="121.9" cy="1047.2" r="4.2" fill="#e9e6b4"/><circle cx="136.3" cy="1020" r="5.2" fill="#f2eef2" stroke="#f2eef2" stroke-width="1.4" stroke-dasharray="1.6 1.2"/><circle cx="136.3" cy="1020" r="0.8" fill="#111"/>
<circle cx="272" cy="1018.2" r="60" fill="#111d25"/><path d="M212 1038.2 L212 1080.2 L332 1080.2 L332 1038.2Z" fill="#111d25" opacity="0"/><path d="M225.9 1042.2 A52 52 0 0 1 302.0 975.8 L289.3 993.7 A30 30 0 0 0 245.4 1032.1Z" fill="#fdfdfd"/><circle cx="272" cy="1018.2" r="25.7" fill="#0d1921"/><circle cx="274" cy="1018.2" r="17" fill="none" stroke="#142029" stroke-width="5"/><text x="231.0" y="1021.4" font-size="9.5" font-weight="bold" fill="#111" text-anchor="middle" transform="rotate(-90 231.0 1018.2)">0</text><text x="236.5" y="1000.9" font-size="9.5" font-weight="bold" fill="#111" text-anchor="middle" transform="rotate(-60 236.5 997.7)">1</text><text x="250.3" y="986.6" font-size="9.5" font-weight="bold" fill="#111" text-anchor="middle" transform="rotate(-32 250.3 983.4)">2</text><text x="262.7" y="979.8" font-size="8.20" fill="#111" textLength="16.5" lengthAdjust="spacingAndGlyphs">1+2</text><circle cx="239.6" cy="1030.0" r="0.9" fill="#111"/><circle cx="238.8" cy="1008.7" r="0.9" fill="#111"/><circle cx="247.6" cy="993.8" r="0.9" fill="#111"/><circle cx="272.0" cy="983.7" r="0.9" fill="#111"/><circle cx="287.7" cy="987.5" r="0.9" fill="#111"/><path d="M239.3 1018.2 L245.5 1012.0 L351 1012.0 L351 1024.4 L245.5 1024.4Z" fill="#000"/><circle cx="275.4" cy="951.5" r="7.5" fill="#a19d9f"/><path d="M270.8 956.1 L280.0 946.9" stroke="#3e3c3e" stroke-width="1.0"/><circle cx="215.4" cy="1056.4" r="7.5" fill="#a19d9f"/><path d="M210.8 1061.1 L220.1 1051.8" stroke="#3e3c3e" stroke-width="1.0"/><circle cx="330.3" cy="1053.6" r="7.5" fill="#a19d9f"/><path d="M325.7 1058.2 L334.9 1048.9" stroke="#3e3c3e" stroke-width="1.0"/><circle cx="320.6" cy="1010.3" r="3.6" fill="#8b8d90"/><circle cx="270.3" cy="1069.3" r="3.6" fill="#8b8d90"/>
<circle cx="760.5" cy="859.5" r="87.2" fill="#000"/><circle cx="760.5" cy="859.5" r="83.6" fill="#0f1c2b"/><circle cx="760.5" cy="859.5" r="81" fill="none" stroke="#ffd61e" stroke-width="0.8"/><circle cx="760.5" cy="859.5" r="75.6" fill="none" stroke="#ffd61e" stroke-width="0.8"/><path d="M737.6 789.1 L735.0 781.0 M769.3 786.0 L770.3 777.6 M795.8 794.5 L799.9 787.0 M818.8 813.9 L825.5 808.7 M832.6 842.9 L840.9 840.9 M832.3 877.4 L840.5 879.5 M815.9 908.5 L822.3 914.2 M791.1 926.9 L794.6 934.6 M726.4 925.2 L722.5 932.7 M706.8 910.4 L700.7 916.3 M691.0 884.8 L683.0 887.7 M686.8 865.7 L678.3 866.4 M688.3 843.5 L680.0 841.6 M698.2 819.5 L691.1 814.9 M713.4 802.4 L708.0 795.8 M715.0 919.9 L711.8 924.2 M696.4 899.6 L691.8 902.4 M686.3 873.9 L681.0 875.0 " stroke="#ffd61e" stroke-width="1.1"/><text x="740.4" y="803.1" font-size="15.60" fill="#ffd61e" font-weight="bold" text-anchor="middle" textLength="18.4" lengthAdjust="spacingAndGlyphs">26</text><text x="768.1" y="801.4" font-size="15.60" fill="#ffd61e" font-weight="bold" text-anchor="middle" textLength="18.4" lengthAdjust="spacingAndGlyphs">28</text><text x="790.6" y="809.6" font-size="15.60" fill="#ffd61e" font-weight="bold" text-anchor="middle" textLength="18.4" lengthAdjust="spacingAndGlyphs">30</text><text x="809.4" y="826.8" font-size="15.60" fill="#ffd61e" font-weight="bold" text-anchor="middle" textLength="18.4" lengthAdjust="spacingAndGlyphs">32</text><text x="822.4" y="850.7" font-size="15.60" fill="#ffd61e" font-weight="bold" text-anchor="middle" textLength="18.4" lengthAdjust="spacingAndGlyphs">34</text><text x="821.6" y="880.2" font-size="15.60" fill="#ffd61e" font-weight="bold" text-anchor="middle" textLength="18.4" lengthAdjust="spacingAndGlyphs">36</text><text x="808.8" y="907.7" font-size="15.60" fill="#ffd61e" font-weight="bold" text-anchor="middle" textLength="18.4" lengthAdjust="spacingAndGlyphs">38</text><text x="787.8" y="925.1" font-size="15.60" fill="#ffd61e" font-weight="bold" text-anchor="middle" textLength="18.4" lengthAdjust="spacingAndGlyphs">40</text><text x="729.2" y="925.3" font-size="15.60" fill="#ffd61e" font-weight="bold" text-anchor="middle" textLength="9.0" lengthAdjust="spacingAndGlyphs">8</text><text x="713.4" y="909.7" font-size="15.60" fill="#ffd61e" font-weight="bold" text-anchor="middle" textLength="18.4" lengthAdjust="spacingAndGlyphs">12</text><text x="698.5" y="887.5" font-size="15.60" fill="#ffd61e" font-weight="bold" text-anchor="middle" textLength="18.4" lengthAdjust="spacingAndGlyphs">16</text><text x="695.2" y="870.4" font-size="15.60" fill="#ffd61e" font-weight="bold" text-anchor="middle" textLength="18.4" lengthAdjust="spacingAndGlyphs">18</text><text x="696.6" y="850.8" font-size="15.60" fill="#ffd61e" font-weight="bold" text-anchor="middle" textLength="18.4" lengthAdjust="spacingAndGlyphs">20</text><text x="705.4" y="829.6" font-size="15.60" fill="#ffd61e" font-weight="bold" text-anchor="middle" textLength="18.4" lengthAdjust="spacingAndGlyphs">22</text><text x="718.5" y="814.0" font-size="15.60" fill="#ffd61e" font-weight="bold" text-anchor="middle" textLength="18.4" lengthAdjust="spacingAndGlyphs">24</text><text x="702.0" y="896.0" font-size="8.00" fill="#e8c020" text-anchor="middle" textLength="10.0" lengthAdjust="spacingAndGlyphs">14</text><text x="721.7" y="918.8" font-size="8.00" fill="#e8c020" text-anchor="middle" textLength="9.0" lengthAdjust="spacingAndGlyphs">10</text><text x="756.9" y="823.0" font-size="6.20" fill="#fff" font-weight="bold" text-anchor="middle" textLength="45.5" lengthAdjust="spacingAndGlyphs">x10 km / godz</text><text x="761.3" y="847.6" font-size="18.50" fill="#ffd61e" font-weight="bold" text-anchor="middle" textLength="80.0" lengthAdjust="spacingAndGlyphs">SZYBKOŚĆ</text><rect x="755.3" y="872" width="10.4" height="10.4" fill="#0f1c2b" stroke="#fff" stroke-width="1"/><path d="M757.0 880.5 L757.0 874 L763.5 874 M759.5 880.5 Q759.5 876.5 763.9 876.5 M762.0 880.5 L763.9 878.6" stroke="#fff" stroke-width="0.9" fill="none"/><text x="760.5" y="894.6" font-size="6.60" fill="#fff" font-weight="bold" text-anchor="middle" textLength="68.0" lengthAdjust="spacingAndGlyphs">G.Gerlach Warszawa</text><text x="759.9" y="906.6" font-size="6.60" fill="#fff" font-weight="bold" text-anchor="middle" textLength="44.0" lengthAdjust="spacingAndGlyphs">Lic. Badin 9 U</text><text x="757.3" y="916.6" font-size="6.60" fill="#fff" font-weight="bold" text-anchor="middle" textLength="27.5" lengthAdjust="spacingAndGlyphs">WZ.1931</text><path d="M760.50 859.50 L739.60 901.60" stroke="#04060a" stroke-width="2.6" stroke-linecap="round"/><circle cx="739.3" cy="902" r="3.2" fill="#04060a"/><path d="M760.50 859.50 L781.00 816.00" stroke="#f4f4ee" stroke-width="1.8" stroke-linecap="round"/><path d="M781.00 816.00 L792.60 791.40" stroke="#e4e070" stroke-width="0.9" stroke-linecap="butt"/><path d="M782.6 812.6 L777.4 806.6 L785 798.4 L790.4 804.4Z" fill="none" stroke="#e4e050" stroke-width="0.9"/><circle cx="760.5" cy="859.5" r="5.4" fill="#f4eef2"/><circle cx="760.5" cy="859.5" r="0.7" fill="#111"/>
<rect x="677.2" y="960.2" width="167.2" height="44.4" rx="4" fill="#152430"/><circle cx="681.5" cy="965.9" r="3.3" fill="#7e8288"/><circle cx="839.3" cy="964.2" r="3.3" fill="#7e8288"/><circle cx="681.5" cy="1000.0" r="3.3" fill="#7e8288"/><circle cx="839.3" cy="1000.0" r="3.3" fill="#7e8288"/><path d="M680.00 979.30 L841.50 979.30" stroke="#98a0a6" stroke-width="1" stroke-linecap="butt"/><path d="M690.80 962.30 L690.80 978.20" stroke="#ffd61e" stroke-width="2" stroke-linecap="butt"/><path d="M717.80 962.30 L717.80 978.20" stroke="#ffd61e" stroke-width="2" stroke-linecap="butt"/><path d="M802.80 962.30 L802.80 978.20" stroke="#ffd61e" stroke-width="2" stroke-linecap="butt"/><path d="M830.00 962.30 L830.00 978.20" stroke="#ffd61e" stroke-width="2" stroke-linecap="butt"/><path d="M703.5 971.8 l2.7 2.7 l-2.7 2.7 l-2.7 -2.7Z" fill="#ffd61e"/><path d="M736.5 971.8 l2.7 2.7 l-2.7 2.7 l-2.7 -2.7Z" fill="#ffd61e"/><path d="M784.5 971.8 l2.7 2.7 l-2.7 2.7 l-2.7 -2.7Z" fill="#ffd61e"/><path d="M816.4 971.8 l2.7 2.7 l-2.7 2.7 l-2.7 -2.7Z" fill="#ffd61e"/><text x="719.5" y="995.8" font-size="18.30" fill="#f6f6f6" textLength="9.1" lengthAdjust="spacingAndGlyphs">S</text><text x="736.8" y="995.8" font-size="18.30" fill="#f6f6f6" textLength="9.2" lengthAdjust="spacingAndGlyphs">K</text><text x="755.6" y="995.8" font-size="18.30" fill="#f6f6f6" textLength="9.0" lengthAdjust="spacingAndGlyphs">R</text><text x="772.6" y="995.8" font-size="18.30" fill="#f6f6f6" textLength="7.6" lengthAdjust="spacingAndGlyphs">Ę</text><text x="792.0" y="995.8" font-size="18.30" fill="#f6f6f6" textLength="8.6" lengthAdjust="spacingAndGlyphs">T</text><path d="M753.5 965.2 L765.9 965.2 L765.9 967 L761.9 975.2 L761.9 977.4 L765.5 983.1 L765.5 999.6 L754.7 999.6 L754.7 983.1 L757.6 977.4 L757.6 975.2 L753.5 967Z" fill="#e8e4a4"/><path d="M697 1017 Q760 1023.8 823 1017 A11.3 11.3 0 0 1 826 1039 Q760 1048.4 694 1039 A11.3 11.3 0 0 1 697 1017Z" fill="#e3d8ae"/><circle cx="764" cy="1031.2" r="11" fill="#000"/><path d="M753.5 1057.7 L763.6 1044.8 L774 1057.7" fill="none" stroke="#f6f6f6" stroke-width="1.8"/>
<circle cx="687.7" cy="943.7" r="20.4" fill="#ece4ea"/><circle cx="688.2" cy="944.2" r="8.4" fill="#d8d2d8" stroke="#9a9a9a" stroke-width="1.4"/><circle cx="688.2" cy="944.2" r="4.8" fill="#0a0a0a"/><text x="687.7" y="934.2" font-size="7" font-weight="bold" fill="#222" text-anchor="middle">½</text><text x="675.2" y="946.7" font-size="8" fill="#6a6a6a" text-anchor="middle" transform="rotate(-70 675.2 943.7)">N</text><text x="700.7" y="946.7" font-size="8" fill="#6a6a6a" text-anchor="middle" transform="rotate(80 700.7 943.7)">O</text>
<rect x="993.2" y="705.8" width="157.5" height="157.5" rx="5.5" fill="#111d25"/><circle cx="1008.5" cy="720.3" r="7.3" fill="#a19d9f"/><path d="M1004.0 724.8 L1013.0 715.8" stroke="#3e3c3e" stroke-width="1.0"/><circle cx="1137.5" cy="718.1" r="7.3" fill="#a19d9f"/><path d="M1133.0 722.6 L1142.0 713.6" stroke="#3e3c3e" stroke-width="1.0"/><circle cx="1009.6" cy="851.9" r="7.3" fill="#a19d9f"/><path d="M1005.1 856.4 L1014.1 847.4" stroke="#3e3c3e" stroke-width="1.0"/><circle cx="1136.6" cy="852.2" r="7.3" fill="#a19d9f"/><path d="M1132.1 856.7 L1141.1 847.7" stroke="#3e3c3e" stroke-width="1.0"/><circle cx="1071.5" cy="785" r="76.5" fill="#000"/><circle cx="1071.5" cy="785" r="70" fill="#141d23"/><path d="M1003.30 785.00 A68.20 68.20 0 1 1 1139.70 785.00 A68.20 68.20 0 1 1 1003.30 785.00 M1008.60 785.00 A62.90 62.90 0 1 1 1134.40 785.00 A62.90 62.90 0 1 1 1008.60 785.00 M1071.50 847.90 L1071.50 853.20 M1065.70 847.63 L1065.21 852.91 M1059.94 846.83 L1058.97 852.04 M1054.29 845.50 L1052.84 850.60 M1048.78 843.65 L1046.86 848.59 M1043.46 841.31 L1041.10 846.05 M1038.39 838.48 L1035.60 842.99 M1033.60 835.20 L1030.40 839.43 M1029.13 831.48 L1025.55 835.40 M1025.02 827.38 L1021.10 830.95 M1021.31 822.91 L1017.08 826.10 M1018.02 818.11 L1013.52 820.90 M1015.19 813.04 L1010.45 815.40 M1012.85 807.72 L1007.91 809.64 M1011.00 802.22 L1005.90 803.67 M1009.67 796.56 L1004.46 797.53 M1008.87 790.81 L1003.59 791.29 M1008.60 785.00 L1003.30 785.00 M1008.87 779.20 L1003.59 778.71 M1009.67 773.44 L1004.46 772.47 M1011.00 767.79 L1005.90 766.34 M1012.85 762.28 L1007.90 760.37 M1015.19 756.97 L1010.45 754.60 M1018.02 751.89 L1013.51 749.10 M1021.30 747.10 L1017.07 743.90 M1025.01 742.63 L1021.10 739.06 M1029.12 738.52 L1025.55 734.60 M1033.59 734.81 L1030.40 730.58 M1038.38 731.52 L1035.59 727.02 M1043.46 728.70 L1041.10 723.95 M1048.77 726.35 L1046.86 721.41 M1054.28 724.50 L1052.83 719.40 M1059.94 723.17 L1058.96 717.96 M1065.69 722.37 L1065.20 717.09 M1071.50 722.10 L1071.50 716.80 M1077.30 722.37 L1077.79 717.09 M1083.05 723.17 L1084.03 717.96 M1088.71 724.50 L1090.16 719.40 M1094.22 726.35 L1096.13 721.40 M1099.53 728.69 L1101.89 723.95 M1104.61 731.52 L1107.40 727.01 M1109.40 734.80 L1112.60 730.57 M1113.87 738.51 L1117.44 734.60 M1117.98 742.62 L1121.90 739.05 M1121.69 747.09 L1125.92 743.90 M1124.98 751.88 L1129.48 749.09 M1127.80 756.96 L1132.55 754.59 M1130.15 762.27 L1135.09 760.36 M1132.00 767.78 L1137.09 766.33 M1133.33 773.44 L1138.54 772.46 M1134.13 779.19 L1139.41 778.70 M1134.40 784.99 L1139.70 784.99 M1134.13 790.80 L1139.41 791.29 M1133.33 796.55 L1138.54 797.52 M1132.00 802.21 L1137.10 803.66 M1130.16 807.72 L1135.10 809.63 M1127.81 813.03 L1132.55 815.39 M1124.98 818.11 L1129.49 820.90 M1121.70 822.90 L1125.93 826.09 M1117.99 827.37 L1121.91 830.94 M1113.88 831.48 L1117.45 835.39 M1109.41 835.19 L1112.61 839.42 M1104.62 838.47 L1107.41 842.98 M1099.54 841.30 L1101.91 846.05 M1094.23 843.65 L1096.15 848.59 M1088.72 845.50 L1090.17 850.59 M1083.07 846.83 L1084.04 852.04 M1077.31 847.63 L1077.80 852.91 M1071.51 847.90 L1071.51 853.20 " fill="none" stroke="#ffd61e" stroke-width="0.75"/><text x="1035.5" y="827.9" font-size="17.00" fill="#ffd61e" text-anchor="middle" font-family="Liberation Serif, serif" textLength="9.5" lengthAdjust="spacingAndGlyphs">6</text><text x="1021.5" y="791.0" font-size="17.00" fill="#ffd61e" text-anchor="middle" font-family="Liberation Serif, serif" textLength="19.5" lengthAdjust="spacingAndGlyphs">10</text><text x="1037.2" y="756.7" font-size="17.00" fill="#ffd61e" text-anchor="middle" font-family="Liberation Serif, serif" textLength="19.5" lengthAdjust="spacingAndGlyphs">14</text><text x="1071.5" y="740.0" font-size="17.00" fill="#ffd61e" text-anchor="middle" font-family="Liberation Serif, serif" textLength="19.5" lengthAdjust="spacingAndGlyphs">18</text><text x="1105.8" y="756.7" font-size="17.00" fill="#ffd61e" text-anchor="middle" font-family="Liberation Serif, serif" textLength="19.5" lengthAdjust="spacingAndGlyphs">22</text><text x="1119.0" y="791.0" font-size="17.00" fill="#ffd61e" text-anchor="middle" font-family="Liberation Serif, serif" textLength="19.5" lengthAdjust="spacingAndGlyphs">26</text><text x="1106.1" y="826.8" font-size="17.00" fill="#ffd61e" text-anchor="middle" font-family="Liberation Serif, serif" textLength="19.5" lengthAdjust="spacingAndGlyphs">30</text><text x="1019.6" y="811.2" font-size="9.40" fill="#f4f4f4" text-anchor="middle" textLength="5.5" lengthAdjust="spacingAndGlyphs">8</text><text x="1022.5" y="768.2" font-size="9.40" fill="#f4f4f4" text-anchor="middle" textLength="12.0" lengthAdjust="spacingAndGlyphs">12</text><text x="1049.0" y="738.7" font-size="9.40" fill="#f4f4f4" text-anchor="middle" textLength="12.0" lengthAdjust="spacingAndGlyphs">16</text><text x="1092.4" y="737.9" font-size="9.40" fill="#f4f4f4" text-anchor="middle" textLength="12.0" lengthAdjust="spacingAndGlyphs">20</text><text x="1121.6" y="768.1" font-size="9.40" fill="#f4f4f4" text-anchor="middle" textLength="12.0" lengthAdjust="spacingAndGlyphs">24</text><text x="1121.8" y="810.5" font-size="9.40" fill="#f4f4f4" text-anchor="middle" textLength="12.0" lengthAdjust="spacingAndGlyphs">28</text><text x="1101.4" y="837.5" font-size="9.40" fill="#f4f4f4" text-anchor="middle" textLength="12.0" lengthAdjust="spacingAndGlyphs">32</text><text x="1044.2" y="839.4" font-size="9.40" fill="#f4f4f4" text-anchor="middle" textLength="5.5" lengthAdjust="spacingAndGlyphs">2</text><text x="1070.8" y="753.0" font-size="8.20" fill="#fff" font-weight="bold" text-anchor="middle" textLength="18.5" lengthAdjust="spacingAndGlyphs">R=½</text><text x="1070.0" y="767.4" font-size="12.60" fill="#ffd61e" font-weight="bold" text-anchor="middle" textLength="54.0" lengthAdjust="spacingAndGlyphs">OBROTY</text><text x="1071.5" y="775.9" font-size="6.60" fill="#fff" font-weight="bold" text-anchor="middle" textLength="45.7" lengthAdjust="spacingAndGlyphs">x100 obr/min</text><text x="1073.5" y="795.6" font-size="6.60" fill="#fff" font-weight="bold" text-anchor="middle" textLength="67.2" lengthAdjust="spacingAndGlyphs">G.Gerlach Warszawa</text><circle cx="1070.6" cy="824.1" r="24.6" fill="#141d23" stroke="#fff" stroke-width="0.9"/><circle cx="1070.6" cy="824.1" r="21.2" fill="none" stroke="#fff" stroke-width="0.8"/><circle cx="1070.6" cy="824.1" r="17.4" fill="none" stroke="#fff" stroke-width="0.9"/><path d="M1070.6 802.9 L1070.6 799.5 M1083.1 806.9 L1085.1 804.2 M1090.8 817.5 L1094.0 816.5 M1090.8 830.7 L1094.0 831.7 M1083.1 841.3 L1085.1 844.0 M1070.6 845.3 L1070.6 848.7 M1058.1 841.3 L1056.1 844.0 M1050.4 830.7 L1047.2 831.7 M1050.4 817.5 L1047.2 816.5 M1058.1 806.9 L1056.1 804.2 " stroke="#fff" stroke-width="1"/><rect x="1068.2" y="810.0" width="4.8" height="1.8" fill="#f0f0f0"/><rect x="1081.4" y="823.2" width="4.8" height="1.8" fill="#f0f0f0"/><rect x="1068.2" y="836.4" width="4.8" height="1.8" fill="#f0f0f0"/><rect x="1055.0" y="823.2" width="4.8" height="1.8" fill="#f0f0f0"/><path d="M1070.80 824.10 L1085.60 819.80" stroke="#f4f4f4" stroke-width="0.9" stroke-linecap="butt"/><path d="M1070.80 824.10 L1061.80 842.60" stroke="#f4f4f4" stroke-width="0.9" stroke-linecap="butt"/><path d="M1070.60 785.00 L1127.80 760.40" stroke="#e6e3a8" stroke-width="2.2" stroke-linecap="round"/><circle cx="1070.6" cy="785" r="5.6" fill="#e6e3a8"/><circle cx="1070.6" cy="785" r="3.4" fill="#a88c72"/>
<rect x="993.2" y="905.5" width="157.5" height="157.8" rx="5.5" fill="#111d25"/><circle cx="1008.5" cy="918.8" r="7.3" fill="#a19d9f"/><path d="M1004.0 923.3 L1013.0 914.3" stroke="#3e3c3e" stroke-width="1.0"/><circle cx="1137.5" cy="917.5" r="7.3" fill="#a19d9f"/><path d="M1133.0 922.0 L1142.0 913.0" stroke="#3e3c3e" stroke-width="1.0"/><circle cx="1009.6" cy="1051.2" r="7.3" fill="#a19d9f"/><path d="M1005.1 1055.7 L1014.1 1046.7" stroke="#3e3c3e" stroke-width="1.0"/><circle cx="1136.6" cy="1050.2" r="7.3" fill="#a19d9f"/><path d="M1132.1 1054.7 L1141.1 1045.7" stroke="#3e3c3e" stroke-width="1.0"/><circle cx="1071.5" cy="984.1" r="77.4" fill="#000"/><circle cx="1071.5" cy="984.1" r="71" fill="#15283c"/><path d="M1004.60 984.10 A66.90 66.90 0 1 1 1138.40 984.10 A66.90 66.90 0 1 1 1004.60 984.10 M1009.70 984.10 A61.80 61.80 0 1 1 1133.30 984.10 A61.80 61.80 0 1 1 1009.70 984.10 M1071.50 1045.90 L1071.50 1051.00 M1067.62 1045.78 L1067.30 1050.87 M1063.75 1045.41 L1063.12 1050.47 M1059.92 1044.81 L1058.96 1049.82 M1056.13 1043.96 L1054.86 1048.90 M1052.40 1042.88 L1050.83 1047.73 M1048.75 1041.56 L1046.87 1046.30 M1045.19 1040.02 L1043.02 1044.63 M1041.73 1038.26 L1039.27 1042.72 M1038.39 1036.28 L1035.65 1040.59 M1035.17 1034.10 L1032.18 1038.22 M1032.11 1031.72 L1028.86 1035.65 M1029.19 1029.15 L1025.70 1032.87 M1026.45 1026.41 L1022.73 1029.90 M1023.88 1023.49 L1019.95 1026.74 M1021.50 1020.43 L1017.38 1023.42 M1019.32 1017.21 L1015.01 1019.95 M1017.34 1013.87 L1012.88 1016.33 M1015.58 1010.41 L1010.97 1012.58 M1014.04 1006.85 L1009.30 1008.73 M1012.72 1003.20 L1007.87 1004.77 M1011.64 999.47 L1006.70 1000.74 M1010.79 995.68 L1005.78 996.64 M1010.19 991.85 L1005.13 992.48 M1009.82 987.98 L1004.73 988.30 M1009.70 984.10 L1004.60 984.10 M1009.82 980.22 L1004.73 979.90 M1010.19 976.35 L1005.13 975.72 M1010.79 972.52 L1005.78 971.56 M1011.64 968.73 L1006.70 967.46 M1012.72 965.00 L1007.87 963.43 M1014.04 961.35 L1009.30 959.47 M1015.58 957.79 L1010.97 955.62 M1017.34 954.33 L1012.88 951.87 M1019.32 950.99 L1015.01 948.25 M1021.50 947.77 L1017.38 944.78 M1023.88 944.71 L1019.95 941.46 M1026.45 941.79 L1022.73 938.30 M1029.19 939.05 L1025.70 935.33 M1032.11 936.48 L1028.86 932.55 M1035.17 934.10 L1032.18 929.98 M1038.39 931.92 L1035.65 927.61 M1041.73 929.94 L1039.27 925.48 M1045.19 928.18 L1043.02 923.57 M1048.75 926.64 L1046.87 921.90 M1052.40 925.32 L1050.83 920.47 M1056.13 924.24 L1054.86 919.30 M1059.92 923.39 L1058.96 918.38 M1063.75 922.79 L1063.12 917.73 M1067.62 922.42 L1067.30 917.33 M1071.50 922.30 L1071.50 917.20 M1075.38 922.42 L1075.70 917.33 M1079.25 922.79 L1079.88 917.73 M1083.08 923.39 L1084.04 918.38 M1086.87 924.24 L1088.14 919.30 M1090.60 925.32 L1092.17 920.47 M1094.25 926.64 L1096.13 921.90 M1097.81 928.18 L1099.98 923.57 M1101.27 929.94 L1103.73 925.48 M1104.61 931.92 L1107.35 927.61 M1107.83 934.10 L1110.82 929.98 M1110.89 936.48 L1114.14 932.55 M1113.81 939.05 L1117.30 935.33 M1116.55 941.79 L1120.27 938.30 M1119.12 944.71 L1123.05 941.46 M1121.50 947.77 L1125.62 944.78 M1123.68 950.99 L1127.99 948.25 M1125.66 954.33 L1130.12 951.87 M1127.42 957.79 L1132.03 955.62 M1128.96 961.35 L1133.70 959.47 M1130.28 965.00 L1135.13 963.43 M1131.36 968.73 L1136.30 967.46 M1132.21 972.52 L1137.22 971.56 M1132.81 976.35 L1137.87 975.72 M1133.18 980.22 L1138.27 979.90 M1133.30 984.10 L1138.40 984.10 M1133.18 987.98 L1138.27 988.30 M1132.81 991.85 L1137.87 992.48 M1132.21 995.68 L1137.22 996.64 M1131.36 999.47 L1136.30 1000.74 M1130.28 1003.20 L1135.13 1004.77 M1128.96 1006.85 L1133.70 1008.73 M1127.42 1010.41 L1132.03 1012.58 M1125.66 1013.87 L1130.12 1016.33 M1123.68 1017.21 L1127.99 1019.95 M1121.50 1020.43 L1125.62 1023.42 M1119.12 1023.49 L1123.05 1026.74 M1116.55 1026.41 L1120.27 1029.90 M1113.81 1029.15 L1117.30 1032.87 M1110.89 1031.72 L1114.14 1035.65 M1107.83 1034.10 L1110.82 1038.22 M1104.61 1036.28 L1107.35 1040.59 M1101.27 1038.26 L1103.73 1042.72 M1097.81 1040.02 L1099.98 1044.63 M1094.25 1041.56 L1096.13 1046.30 M1090.60 1042.88 L1092.17 1047.73 M1086.87 1043.96 L1088.14 1048.90 M1083.08 1044.81 L1084.04 1049.82 M1079.25 1045.41 L1079.88 1050.47 M1075.38 1045.78 L1075.70 1050.87 M1071.50 1045.90 L1071.50 1051.00 " fill="none" stroke="#ffffff" stroke-width="1.2"/><path d="M1071.5 923.3 L1071.5 916.2 M1090.3 926.3 L1092.5 919.5 M1107.2 934.9 L1111.4 929.2 M1120.7 948.4 L1126.4 944.2 M1129.3 965.3 L1136.1 963.1 M1132.3 984.1 L1139.4 984.1 M1129.3 1002.9 L1136.1 1005.1 M1120.7 1019.8 L1126.4 1024.0 M1107.2 1033.3 L1111.4 1039.0 M1090.3 1041.9 L1092.5 1048.7 M1071.5 1044.9 L1071.5 1052.0 M1052.7 1041.9 L1050.5 1048.7 M1035.8 1033.3 L1031.6 1039.0 M1022.3 1019.8 L1016.6 1024.0 M1013.7 1002.9 L1006.9 1005.1 M1010.7 984.1 L1003.6 984.1 M1013.7 965.3 L1006.9 963.1 M1022.3 948.4 L1016.6 944.2 M1035.8 934.9 L1031.6 929.2 M1052.7 926.3 L1050.5 919.5 " stroke="#ffd61e" stroke-width="1.6"/><text x="1071.5" y="1042.0" font-size="15.60" fill="#ffd61e" text-anchor="middle" textLength="8.6" lengthAdjust="spacingAndGlyphs">0</text><text x="1040.7" y="1032.0" font-size="15.60" fill="#ffd61e" text-anchor="middle" textLength="8.6" lengthAdjust="spacingAndGlyphs">1</text><text x="1021.7" y="1005.8" font-size="15.60" fill="#ffd61e" text-anchor="middle" textLength="8.6" lengthAdjust="spacingAndGlyphs">2</text><text x="1021.7" y="973.4" font-size="15.60" fill="#ffd61e" text-anchor="middle" textLength="8.6" lengthAdjust="spacingAndGlyphs">3</text><text x="1040.7" y="947.2" font-size="15.60" fill="#ffd61e" text-anchor="middle" textLength="8.6" lengthAdjust="spacingAndGlyphs">4</text><text x="1071.5" y="937.2" font-size="15.60" fill="#ffd61e" text-anchor="middle" textLength="8.6" lengthAdjust="spacingAndGlyphs">5</text><text x="1102.3" y="947.2" font-size="15.60" fill="#ffd61e" text-anchor="middle" textLength="8.6" lengthAdjust="spacingAndGlyphs">6</text><text x="1121.3" y="973.4" font-size="15.60" fill="#ffd61e" text-anchor="middle" textLength="8.6" lengthAdjust="spacingAndGlyphs">7</text><text x="1121.3" y="1005.8" font-size="15.60" fill="#ffd61e" text-anchor="middle" textLength="8.6" lengthAdjust="spacingAndGlyphs">8</text><text x="1102.3" y="1032.0" font-size="15.60" fill="#ffd61e" text-anchor="middle" textLength="8.6" lengthAdjust="spacingAndGlyphs">9</text><text x="1071.1" y="975.7" font-size="11.40" fill="#ffd61e" font-weight="bold" text-anchor="middle" textLength="61.6" lengthAdjust="spacingAndGlyphs">WYSOKOŚĆ</text><text x="1071.9" y="1002.6" font-size="11.40" fill="#ffd61e" font-weight="bold" text-anchor="middle" textLength="44.0" lengthAdjust="spacingAndGlyphs">x1000m</text><text x="1073.5" y="1016.7" font-size="6.60" fill="#fff" font-weight="bold" text-anchor="middle" textLength="67.2" lengthAdjust="spacingAndGlyphs">G.Gerlach Warszawa</text><path d="M1071.10 984.10 L1018.00 1010.00" stroke="#e9e6b0" stroke-width="1.8" stroke-linecap="round"/><path d="M1046 994.5 L1038 995.6 L1022 1006.5 L1030 1007.5 L1046.5 999Z" fill="#efecc0"/><path d="M1071.10 984.10 L1092.60 974.40" stroke="#04060a" stroke-width="2.4" stroke-linecap="round"/><circle cx="1092.9" cy="974.2" r="4" fill="#04060a"/><circle cx="1071.1" cy="984.1" r="5" fill="#04060a"/><circle cx="1131.3" cy="1042.2" r="16.7" fill="#595959"/>
<rect x="1269.2" y="931.3" width="135.5" height="133.5" rx="5.5" fill="#111d25"/><circle cx="1281.4" cy="943.5" r="7.3" fill="#a19d9f"/><path d="M1276.9 948.0 L1285.9 939.0" stroke="#3e3c3e" stroke-width="1.0"/><circle cx="1390.4" cy="943.5" r="7.3" fill="#a19d9f"/><path d="M1385.9 948.0 L1394.9 939.0" stroke="#3e3c3e" stroke-width="1.0"/><circle cx="1282.4" cy="1052.5" r="7.3" fill="#a19d9f"/><path d="M1277.9 1057.0 L1286.9 1048.0" stroke="#3e3c3e" stroke-width="1.0"/><circle cx="1391.4" cy="1051.5" r="7.3" fill="#a19d9f"/><path d="M1386.9 1056.0 L1395.9 1047.0" stroke="#3e3c3e" stroke-width="1.0"/><path d="M1402 990.5 L1409 990.5 L1415.5 985 L1415.5 1008 L1409 1002.5 L1402 1002.5Z" fill="#9a9a9a"/><circle cx="1336.4" cy="997.5" r="64.9" fill="#000"/><path d="M1337.4 948.5 L1335.2 942.0 M1342.5 948.9 L1341.0 942.2 M1347.6 949.8 L1346.8 943.0 M1352.5 951.2 L1352.4 944.4 M1357.3 953.2 L1357.9 946.3 M1361.8 955.6 L1363.1 948.9 M1366.0 958.5 L1368.1 951.9 M1369.9 961.8 L1372.7 955.5 M1373.5 965.5 L1376.9 959.5 M1376.6 969.5 L1380.6 963.9 M1379.3 973.9 L1383.9 968.7 M1381.6 978.5 L1386.6 973.9 M1383.3 983.3 L1388.8 979.2 M1384.5 988.3 L1390.4 984.8 M1385.2 993.4 L1391.5 990.5 M1385.4 998.5 L1391.9 996.3 M1385.0 1003.6 L1391.7 1002.1 M1384.1 1008.7 L1390.9 1007.9 M1382.7 1013.6 L1389.5 1013.5 M1380.7 1018.4 L1387.6 1019.0 M1378.3 1022.9 L1385.0 1024.2 M1375.4 1027.1 L1382.0 1029.2 M1372.1 1031.0 L1378.4 1033.8 M1368.4 1034.6 L1374.4 1038.0 M1364.4 1037.7 L1370.0 1041.7 M1360.0 1040.4 L1365.2 1045.0 M1355.4 1042.7 L1360.0 1047.7 M1350.6 1044.4 L1354.7 1049.9 M1345.6 1045.6 L1349.1 1051.5 M1340.5 1046.3 L1343.4 1052.6 M1335.4 1046.5 L1337.6 1053.0 M1330.3 1046.1 L1331.8 1052.8 M1325.2 1045.2 L1326.0 1052.0 M1320.3 1043.8 L1320.4 1050.6 M1315.5 1041.8 L1314.9 1048.7 M1311.0 1039.4 L1309.7 1046.1 M1306.8 1036.5 L1304.7 1043.1 M1302.9 1033.2 L1300.1 1039.5 M1299.3 1029.5 L1295.9 1035.5 M1296.2 1025.5 L1292.2 1031.1 M1293.5 1021.1 L1288.9 1026.3 M1291.2 1016.5 L1286.2 1021.1 M1289.5 1011.7 L1284.0 1015.8 M1288.3 1006.7 L1282.4 1010.2 M1287.6 1001.6 L1281.3 1004.5 M1287.4 996.5 L1280.9 998.7 M1287.8 991.4 L1281.1 992.9 M1288.7 986.3 L1281.9 987.1 M1290.1 981.4 L1283.3 981.5 M1292.1 976.6 L1285.2 976.0 M1294.5 972.1 L1287.8 970.8 M1297.4 967.9 L1290.8 965.8 M1300.7 964.0 L1294.4 961.2 M1304.4 960.4 L1298.4 957.0 M1308.4 957.3 L1302.8 953.3 M1312.8 954.6 L1307.6 950.0 M1317.4 952.3 L1312.8 947.3 M1322.2 950.6 L1318.1 945.1 M1327.2 949.4 L1323.7 943.5 M1332.3 948.7 L1329.4 942.4 " stroke="#f2f2f2" stroke-width="1.05"/><text x="1366.5" y="948.3" font-size="8.2" fill="#f2f2f2" text-anchor="middle" transform="rotate(30 1366.5 945.4)">0</text><text x="1396.6" y="1000.4" font-size="8.2" fill="#f2f2f2" text-anchor="middle" transform="rotate(90 1396.6 997.5)">10</text><text x="1366.5" y="1052.5" font-size="8.2" fill="#f2f2f2" text-anchor="middle" transform="rotate(-30 1366.5 1049.6)">20</text><text x="1306.3" y="1052.5" font-size="8.2" fill="#f2f2f2" text-anchor="middle" transform="rotate(30 1306.3 1049.6)">30</text><text x="1276.2" y="1000.4" font-size="8.2" fill="#f2f2f2" text-anchor="middle" transform="rotate(-90 1276.2 997.5)">40</text><text x="1306.3" y="948.3" font-size="8.2" fill="#f2f2f2" text-anchor="middle" transform="rotate(330 1306.3 945.4)">50</text><circle cx="1336.4" cy="997.5" r="47.4" fill="#131e25"/><path d="M1336.4 959.5 L1336.4 951.5 M1356.7 962.4 L1359.4 957.7 M1371.5 977.2 L1376.2 974.5 M1374.4 997.5 L1382.4 997.5 M1371.5 1017.8 L1376.2 1020.5 M1356.7 1032.6 L1359.4 1037.3 M1336.4 1035.5 L1336.4 1043.5 M1316.2 1032.6 L1313.4 1037.3 M1301.3 1017.8 L1296.6 1020.5 M1298.4 997.5 L1290.4 997.5 M1301.3 977.2 L1296.6 974.5 M1316.2 962.4 L1313.4 957.7 " stroke="#ffd61e" stroke-width="0.9"/><text x="1338.5" y="971.6" font-size="15.00" fill="#ffd61e" text-anchor="middle" textLength="17.5" lengthAdjust="spacingAndGlyphs">12</text><text x="1371.0" y="1003.0" font-size="15.00" fill="#ffd61e" text-anchor="middle" textLength="8.5" lengthAdjust="spacingAndGlyphs">3</text><text x="1337.8" y="1035.4" font-size="15.00" fill="#ffd61e" text-anchor="middle" textLength="8.5" lengthAdjust="spacingAndGlyphs">6</text><text x="1302.8" y="1003.0" font-size="15.00" fill="#ffd61e" text-anchor="middle" textLength="8.5" lengthAdjust="spacingAndGlyphs">9</text><circle cx="1328.3" cy="977.2" r="11.8" fill="none" stroke="#ffd61e" stroke-width="0.9" stroke-dasharray="1 1.3"/><path d="M1327.00 978.50 L1334.60 971.40" stroke="#e8e4a8" stroke-width="0.9" stroke-linecap="butt"/><circle cx="1327" cy="978.5" r="0.9" fill="#e8e4a8"/><text x="1338.0" y="1014.6" font-size="6.60" fill="#fff" font-weight="bold" text-anchor="middle" textLength="32.6" lengthAdjust="spacingAndGlyphs">G.Gerlach</text><path d="M1336.40 997.50 L1372.40 1006.50" stroke="#f2e66a" stroke-width="5" stroke-linecap="round"/><path d="M1336.40 997.50 L1372.40 1006.50" stroke="#f8f0a0" stroke-width="2.2" stroke-linecap="round"/><path d="M1330.00 1010.00 L1322.60 1038.60" stroke="#f2e66a" stroke-width="4.2" stroke-linecap="round"/><path d="M1330.00 1010.00 L1322.60 1038.60" stroke="#f8f0a0" stroke-width="1.8" stroke-linecap="round"/><circle cx="1336.4" cy="997.5" r="9" fill="#000"/><path d="M1311 1035.8 L1316.5 1031 L1317.5 1040Z" fill="#e9e6b4"/>
<mask id="kn380"><rect x="320.4" y="707.4" width="120" height="120" fill="#fff"/><circle cx="380.4" cy="701.2" r="26.5" fill="#000"/><circle cx="446.6" cy="767.4" r="26.5" fill="#000"/><circle cx="380.4" cy="833.6" r="26.5" fill="#000"/><circle cx="314.2" cy="767.4" r="26.5" fill="#000"/></mask><circle cx="380.4" cy="767.4" r="51.3" fill="#f8ee25" mask="url(#kn380)"/><circle cx="380.4" cy="767.4" r="33.3" fill="none" stroke="#ece43a" stroke-width="0.8" opacity="0.8"/><g transform="translate(380.4,767.4)"><path d="M-24 -21 Q-17 -27.5 -10.5 -29.5" fill="none" stroke="#1a1a10" stroke-width="0.9"/><path d="M-25.5 -19.5 L-21.5 -22 L-23.6 -23.6Z" fill="#1a1a10" stroke="#1a1a10" stroke-width="0.8"/><path d="M10.5 -29.5 Q17.5 -27.5 23 -21.5" fill="none" stroke="#1a1a10" stroke-width="0.9"/><path d="M24.5 -19.5 L20.6 -22.2 L22.8 -23.6Z" fill="#1a1a10" stroke="#1a1a10" stroke-width="0.8"/><text x="-7.5" y="-25.5" font-size="8.5" fill="#3a3a18" text-anchor="middle" font-style="italic" transform="rotate(-8 -7.5 -27)">Z</text><text x="6.5" y="-25.5" font-size="8.5" fill="#3a3a18" text-anchor="middle" font-style="italic" transform="rotate(8 6.5 -27)">0</text></g>
<mask id="kn1210"><rect x="1150.1" y="872.3" width="120" height="120" fill="#fff"/><circle cx="1210.1" cy="866.1" r="26.5" fill="#000"/><circle cx="1276.3" cy="932.3" r="26.5" fill="#000"/><circle cx="1210.1" cy="998.5" r="26.5" fill="#000"/><circle cx="1143.9" cy="932.3" r="26.5" fill="#000"/></mask><circle cx="1210.1" cy="932.3" r="51.3" fill="#f8ee25" mask="url(#kn1210)"/><circle cx="1210.1" cy="932.3" r="33.3" fill="none" stroke="#ece43a" stroke-width="0.8" opacity="0.8"/><g transform="translate(1210.1,932.3)"><path d="M-24 -21 Q-17 -27.5 -10.5 -29.5" fill="none" stroke="#1a1a10" stroke-width="0.9"/><path d="M-25.5 -19.5 L-21.5 -22 L-23.6 -23.6Z" fill="#1a1a10" stroke="#1a1a10" stroke-width="0.8"/><path d="M10.5 -29.5 Q17.5 -27.5 23 -21.5" fill="none" stroke="#1a1a10" stroke-width="0.9"/><path d="M24.5 -19.5 L20.6 -22.2 L22.8 -23.6Z" fill="#1a1a10" stroke="#1a1a10" stroke-width="0.8"/><text x="-7.5" y="-25.5" font-size="8.5" fill="#3a3a18" text-anchor="middle" font-style="italic" transform="rotate(-8 -7.5 -27)">Z</text><text x="6.5" y="-25.5" font-size="8.5" fill="#3a3a18" text-anchor="middle" font-style="italic" transform="rotate(8 6.5 -27)">0</text></g>
<rect x="248" y="793.9" width="83.8" height="55.8" fill="#f4e8ee"/><rect x="251.2" y="797.2" width="77.4" height="49.2" fill="none" stroke="#e0442e" stroke-width="0.8"/><circle cx="251.2" cy="797.2" r="2.4" fill="#8a8a8a"/><circle cx="328.6" cy="797.2" r="2.4" fill="#8a8a8a"/><circle cx="251.2" cy="846.4" r="2.4" fill="#8a8a8a"/><circle cx="328.6" cy="846.4" r="2.4" fill="#8a8a8a"/><text x="254.5" y="807.3" font-size="5.60" fill="#e23a2a" textLength="71.0" lengthAdjust="spacingAndGlyphs">W RAZIE PRZERWANIA PRACY SIL-</text><text x="254.0" y="814.2" font-size="5.60" fill="#e23a2a" textLength="72.0" lengthAdjust="spacingAndGlyphs">NIKA W POWIETRZU DOPROWADZIĆ</text><text x="255.0" y="821.1" font-size="5.60" fill="#e23a2a" textLength="70.0" lengthAdjust="spacingAndGlyphs">PŁATOWIEC DO LOTU POZIOMEGO,</text><text x="254.5" y="828.0" font-size="5.60" fill="#e23a2a" textLength="71.0" lengthAdjust="spacingAndGlyphs">POCIĄGNĄĆ RĄCZKĘ I PRZYTRZY-</text><text x="255.0" y="834.9" font-size="5.60" fill="#e23a2a" textLength="70.0" lengthAdjust="spacingAndGlyphs">MAĆ DOPÓKI SILNIK NIE ZACZNIE</text><text x="264.0" y="841.8" font-size="5.60" fill="#e23a2a" textLength="52.0" lengthAdjust="spacingAndGlyphs">PRACOWAĆ NORMALNIE</text>
<path d="M302.3 849.4 L315.8 859.3 L331.0 866.4 L333.6 882.9 L339.4 898.7 L329.5 912.2 L322.4 927.4 L305.9 930.0 L290.1 935.8 L276.6 925.9 L261.4 918.8 L258.8 902.3 L253.0 886.5 L262.9 873.0 L270.0 857.8 L286.5 855.2Z" fill="#f8ee25" stroke="#f8ee25" stroke-width="1.5" stroke-linejoin="round"/><circle cx="296.2" cy="892.6" r="36.4" fill="none" stroke="#8e8a72" stroke-width="1.4"/><text x="296.2" y="896.6" font-size="12" font-weight="bold" fill="#c9be2e" text-anchor="middle" textLength="57" lengthAdjust="spacingAndGlyphs" transform="rotate(27 296.2 892.6)">BENZYNA</text></g>
</g></svg></body></html>
